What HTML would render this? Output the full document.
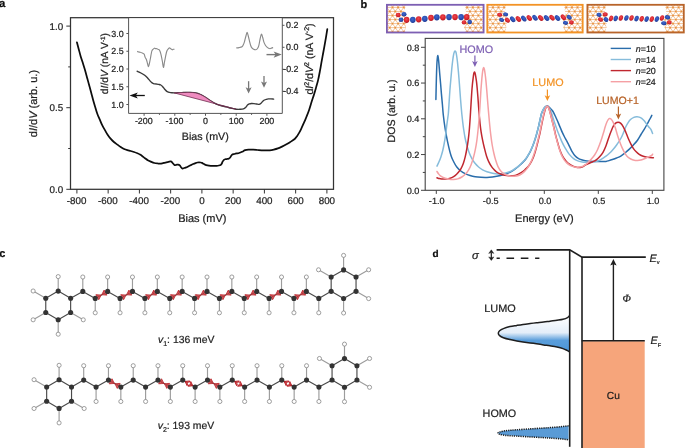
<!DOCTYPE html>
<html><head><meta charset="utf-8"><style>
html,body{margin:0;padding:0;background:#fff;}
body{width:685px;height:448px;overflow:hidden;font-family:"Liberation Sans",sans-serif;}
svg{display:block;will-change:transform;text-rendering:geometricPrecision;}
</style></head><body>
<svg width="685" height="448" viewBox="0 0 685 448">
<rect width="685" height="448" fill="#fff"/>
<text stroke="#111" stroke-width="0.22" x="-0.9" y="6.8" font-family="Liberation Sans" font-size="11.4" text-anchor="start" fill="#111" font-weight="bold">a</text>
<text stroke="#111" stroke-width="0.22" x="360.6" y="8" font-family="Liberation Sans" font-size="11" text-anchor="start" fill="#111" font-weight="bold">b</text>
<text stroke="#111" stroke-width="0.22" x="-0.8" y="257.2" font-family="Liberation Sans" font-size="11" text-anchor="start" fill="#111" font-weight="bold">c</text>
<text stroke="#111" stroke-width="0.22" x="432.6" y="257.3" font-family="Liberation Sans" font-size="10" text-anchor="start" fill="#111" font-weight="bold">d</text>
<path d="M76.9 42.3 C77.22 43.48 78.17 47.05 78.8 49.4 C79.43 51.75 80 54.03 80.7 56.4 C81.4 58.77 82.25 61.22 83 63.6 C83.75 65.98 84.47 68.17 85.2 70.7 C85.93 73.23 86.67 76.12 87.4 78.8 C88.13 81.48 88.93 84.35 89.6 86.8 C90.27 89.25 90.8 91.27 91.4 93.5 C92 95.73 92.57 97.95 93.2 100.2 C93.83 102.45 94.52 104.73 95.2 107 C95.88 109.27 96.55 111.73 97.3 113.8 C98.05 115.87 98.88 117.5 99.7 119.4 C100.52 121.3 101.3 123.37 102.2 125.2 C103.1 127.03 104.17 128.77 105.1 130.4 C106.03 132.03 106.85 133.58 107.8 135 C108.75 136.42 109.78 137.73 110.8 138.9 C111.82 140.07 112.8 141.05 113.9 142 C115 142.95 116.27 143.77 117.4 144.6 C118.53 145.43 119.58 146.27 120.7 147 C121.82 147.73 122.98 148.47 124.1 149 C125.22 149.53 126.3 149.87 127.4 150.2 C128.5 150.53 129.6 150.7 130.7 151 C131.8 151.3 132.88 151.62 134 152 C135.12 152.38 136.4 152.87 137.4 153.3 C138.4 153.73 139.22 154.15 140 154.6 C140.78 155.05 141.27 155.4 142.1 156 C142.93 156.6 144.05 157.5 145 158.2 C145.95 158.9 146.83 159.63 147.8 160.2 C148.77 160.77 149.7 161.13 150.8 161.6 C151.9 162.07 153.23 162.68 154.4 163 C155.57 163.32 156.68 163.4 157.8 163.5 C158.92 163.6 159.87 163.75 161.1 163.6 C162.33 163.45 163.97 162.9 165.2 162.6 C166.43 162.3 167.57 162 168.5 161.8 C169.43 161.6 170.17 161.27 170.8 161.4 C171.43 161.53 171.7 162 172.3 162.6 C172.9 163.2 173.73 164.63 174.4 165 C175.07 165.37 175.7 164.87 176.3 164.8 C176.9 164.73 177.42 164.5 178 164.6 C178.58 164.7 179.3 164.97 179.8 165.4 C180.3 165.83 180.55 166.67 181 167.2 C181.45 167.73 181.97 168.47 182.5 168.6 C183.03 168.73 183.58 168.2 184.2 168 C184.82 167.8 185.47 167.7 186.2 167.4 C186.93 167.1 187.82 166.58 188.6 166.2 C189.38 165.82 190.13 165.47 190.9 165.1 C191.67 164.73 192.43 164.33 193.2 164 C193.97 163.67 194.78 163.35 195.5 163.1 C196.22 162.85 196.92 162.63 197.5 162.5 C198.08 162.37 198.48 162.3 199 162.3 C199.52 162.3 200.1 162.4 200.6 162.5 C201.1 162.6 201.52 162.68 202 162.9 C202.48 163.12 203.02 163.52 203.5 163.8 C203.98 164.08 204.23 164.33 204.9 164.6 C205.57 164.87 206.53 165.2 207.5 165.4 C208.47 165.6 209.68 165.72 210.7 165.8 C211.72 165.88 212.62 165.9 213.6 165.9 C214.58 165.9 215.73 165.87 216.6 165.8 C217.47 165.73 218.12 165.65 218.8 165.5 C219.48 165.35 220.22 165.18 220.7 164.9 C221.18 164.62 221.38 164.35 221.7 163.8 C222.02 163.25 222.18 162.3 222.6 161.6 C223.02 160.9 223.7 160 224.2 159.6 C224.7 159.2 225.12 159.3 225.6 159.2 C226.08 159.1 226.6 159.08 227.1 159 C227.6 158.92 228.12 158.9 228.6 158.7 C229.08 158.5 229.45 158.45 230 157.8 C230.55 157.15 231.15 155.43 231.9 154.8 C232.65 154.17 233.65 154.23 234.5 154 C235.35 153.77 236.25 153.57 237 153.4 C237.75 153.23 238.17 153.27 239 153 C239.83 152.73 240.97 152.27 242 151.8 C243.03 151.33 244.12 150.55 245.2 150.2 C246.28 149.85 247.13 149.78 248.5 149.7 C249.87 149.62 251.9 149.65 253.4 149.7 C254.9 149.75 256.15 149.9 257.5 150 C258.85 150.1 260.15 150.23 261.5 150.3 C262.85 150.37 264.23 150.4 265.6 150.4 C266.97 150.4 268.33 150.43 269.7 150.3 C271.07 150.17 272.43 149.92 273.8 149.6 C275.17 149.28 276.53 148.9 277.9 148.4 C279.27 147.9 280.65 147.23 282 146.6 C283.35 145.97 284.67 145.33 286 144.6 C287.33 143.87 288.55 143.13 290 142.2 C291.45 141.27 293.5 140.05 294.7 139 C295.9 137.95 296.42 137 297.2 135.9 C297.98 134.8 298.7 133.65 299.4 132.4 C300.1 131.15 300.75 129.77 301.4 128.4 C302.05 127.03 302.72 125.5 303.3 124.2 C303.88 122.9 304.38 121.8 304.9 120.6 C305.42 119.4 305.7 118.77 306.4 117 C307.1 115.23 308.22 112.57 309.1 110 C309.98 107.43 310.87 104.23 311.7 101.6 C312.53 98.97 313.35 96.63 314.1 94.2 C314.85 91.77 315.53 89.35 316.2 87 C316.87 84.65 317.48 82.73 318.1 80.1 C318.72 77.47 319.35 74.1 319.9 71.2 C320.45 68.3 320.9 65.48 321.4 62.7 C321.9 59.92 322.4 57.22 322.9 54.5 C323.4 51.78 323.9 49.18 324.4 46.4 C324.9 43.62 325.42 40.67 325.9 37.8 C326.38 34.93 327.07 30.63 327.3 29.2" fill="none" stroke="#0d0d0d" stroke-width="1.75" stroke-linejoin="round" stroke-linecap="round"/>
<rect x="70.5" y="17.7" width="263" height="171.6" fill="none" stroke="#333" stroke-width="1.25"/>
<line x1="66.3" y1="189.3" x2="70.5" y2="189.3" stroke="#333" stroke-width="1" />
<text stroke="#1f1f1f" stroke-width="0.22" x="63.1" y="192.7" font-family="Liberation Sans" font-size="9.8" text-anchor="end" fill="#1f1f1f" >0.0</text>
<line x1="66.3" y1="107.7" x2="70.5" y2="107.7" stroke="#333" stroke-width="1" />
<text stroke="#1f1f1f" stroke-width="0.22" x="63.1" y="111.1" font-family="Liberation Sans" font-size="9.8" text-anchor="end" fill="#1f1f1f" >0.5</text>
<line x1="66.3" y1="26.1" x2="70.5" y2="26.1" stroke="#333" stroke-width="1" />
<text stroke="#1f1f1f" stroke-width="0.22" x="63.1" y="29.5" font-family="Liberation Sans" font-size="9.8" text-anchor="end" fill="#1f1f1f" >1.0</text>
<line x1="68.2" y1="148.5" x2="70.5" y2="148.5" stroke="#333" stroke-width="1" />
<line x1="68.2" y1="66.9" x2="70.5" y2="66.9" stroke="#333" stroke-width="1" />
<line x1="76.9" y1="189.3" x2="76.9" y2="193.5" stroke="#333" stroke-width="1" />
<text stroke="#1f1f1f" stroke-width="0.22" x="76.6" y="203.7" font-family="Liberation Sans" font-size="9.8" text-anchor="middle" fill="#1f1f1f" >-800</text>
<line x1="108.15" y1="189.3" x2="108.15" y2="193.5" stroke="#333" stroke-width="1" />
<text stroke="#1f1f1f" stroke-width="0.22" x="107.85" y="203.7" font-family="Liberation Sans" font-size="9.8" text-anchor="middle" fill="#1f1f1f" >-600</text>
<line x1="139.4" y1="189.3" x2="139.4" y2="193.5" stroke="#333" stroke-width="1" />
<text stroke="#1f1f1f" stroke-width="0.22" x="139.1" y="203.7" font-family="Liberation Sans" font-size="9.8" text-anchor="middle" fill="#1f1f1f" >-400</text>
<line x1="170.65" y1="189.3" x2="170.65" y2="193.5" stroke="#333" stroke-width="1" />
<text stroke="#1f1f1f" stroke-width="0.22" x="170.35" y="203.7" font-family="Liberation Sans" font-size="9.8" text-anchor="middle" fill="#1f1f1f" >-200</text>
<line x1="201.9" y1="189.3" x2="201.9" y2="193.5" stroke="#333" stroke-width="1" />
<text stroke="#1f1f1f" stroke-width="0.22" x="201.9" y="203.7" font-family="Liberation Sans" font-size="9.8" text-anchor="middle" fill="#1f1f1f" >0</text>
<line x1="233.15" y1="189.3" x2="233.15" y2="193.5" stroke="#333" stroke-width="1" />
<text stroke="#1f1f1f" stroke-width="0.22" x="233.15" y="203.7" font-family="Liberation Sans" font-size="9.8" text-anchor="middle" fill="#1f1f1f" >200</text>
<line x1="264.4" y1="189.3" x2="264.4" y2="193.5" stroke="#333" stroke-width="1" />
<text stroke="#1f1f1f" stroke-width="0.22" x="264.4" y="203.7" font-family="Liberation Sans" font-size="9.8" text-anchor="middle" fill="#1f1f1f" >400</text>
<line x1="295.65" y1="189.3" x2="295.65" y2="193.5" stroke="#333" stroke-width="1" />
<text stroke="#1f1f1f" stroke-width="0.22" x="295.65" y="203.7" font-family="Liberation Sans" font-size="9.8" text-anchor="middle" fill="#1f1f1f" >600</text>
<line x1="326.9" y1="189.3" x2="326.9" y2="193.5" stroke="#333" stroke-width="1" />
<text stroke="#1f1f1f" stroke-width="0.22" x="326.9" y="203.7" font-family="Liberation Sans" font-size="9.8" text-anchor="middle" fill="#1f1f1f" >800</text>
<text stroke="#1f1f1f" stroke-width="0.22" x="202.3" y="221.8" font-family="Liberation Sans" font-size="11" text-anchor="middle" fill="#1f1f1f" >Bias (mV)</text>
<text stroke="#1f1f1f" stroke-width="0.22" transform="translate(36.9,103.6) rotate(-90)" font-family="Liberation Sans" font-size="11.0" text-anchor="middle" fill="#1f1f1f">d<tspan font-style="italic">I</tspan>/d<tspan font-style="italic">V</tspan> (arb. u.)</text>
<rect x="128.6" y="18.3" width="153.7" height="95.1" fill="#fff" stroke="none"/>
<path d="M137.1 71.2 C137.73 71.5 139.63 72.32 140.9 73 C142.17 73.68 143.58 74.47 144.7 75.3 C145.82 76.13 146.75 77.12 147.6 78 C148.45 78.88 149.15 79.87 149.8 80.6 C150.45 81.33 150.88 81.9 151.5 82.4 C152.12 82.9 152.75 83.33 153.5 83.6 C154.25 83.87 155.12 83.87 156 84 C156.88 84.13 158 84.23 158.8 84.4 C159.6 84.57 160.18 84.67 160.8 85 C161.42 85.33 161.88 85.73 162.5 86.4 C163.12 87.07 163.78 88.17 164.5 89 C165.22 89.83 165.97 90.83 166.8 91.4 C167.63 91.97 168.63 92.17 169.5 92.4 C170.37 92.63 171.22 92.72 172 92.8 C172.78 92.88 173.2 92.9 174.2 92.9 C175.2 92.9 176.7 92.85 178 92.8 C179.3 92.75 180.67 92.67 182 92.6 C183.33 92.53 184.65 92.43 186 92.4 C187.35 92.37 188.77 92.35 190.1 92.4 C191.43 92.45 192.85 92.55 194 92.7 C195.15 92.85 196 93.03 197 93.3 C198 93.57 199 93.88 200 94.3 C201 94.72 202.08 95.3 203 95.8 C203.92 96.3 204.67 96.77 205.5 97.3 C206.33 97.83 207.08 98.38 208 99 C208.92 99.62 210 100.37 211 101 C212 101.63 212.98 102.23 214 102.8 C215.02 103.37 215.85 103.9 217.1 104.4 C218.35 104.9 219.97 105.38 221.5 105.8 C223.03 106.22 224.72 106.52 226.3 106.9 C227.88 107.28 229.37 107.72 231 108.1 C232.63 108.48 234.6 109 236.1 109.2 C237.6 109.4 238.78 109.35 240 109.3 C241.22 109.25 242.43 109.25 243.4 108.9 C244.37 108.55 245.12 107.85 245.8 107.2 C246.48 106.55 246.92 105.55 247.5 105 C248.08 104.45 248.63 104.15 249.3 103.9 C249.97 103.65 250.73 103.55 251.5 103.5 C252.27 103.45 253.07 103.52 253.9 103.6 C254.73 103.68 255.63 103.87 256.5 104 C257.37 104.13 258.35 104.53 259.1 104.4 C259.85 104.27 260.38 103.73 261 103.2 C261.62 102.67 262.23 101.73 262.8 101.2 C263.37 100.67 263.82 100.32 264.4 100 C264.98 99.68 265.65 99.48 266.3 99.3 C266.95 99.12 267.52 98.97 268.3 98.9 C269.08 98.83 270.12 98.87 271 98.9 C271.88 98.93 273.17 99.07 273.6 99.1" fill="none" stroke="#3a3a3a" stroke-width="1.4" stroke-linejoin="round" stroke-linecap="round"/>
<path d="M174.2 92.9 C174.83 92.88 176.7 92.85 178 92.8 C179.3 92.75 180.67 92.67 182 92.6 C183.33 92.53 184.65 92.43 186 92.4 C187.35 92.37 188.77 92.35 190.1 92.4 C191.43 92.45 192.85 92.55 194 92.7 C195.15 92.85 196 93.03 197 93.3 C198 93.57 199 93.88 200 94.3 C201 94.72 202.08 95.3 203 95.8 C203.92 96.3 204.67 96.77 205.5 97.3 C206.33 97.83 207.08 98.38 208 99 C208.92 99.62 210 100.37 211 101 C212 101.63 212.98 102.23 214 102.8 C215.02 103.37 215.85 103.9 217.1 104.4 C218.35 104.9 219.97 105.38 221.5 105.8 C223.03 106.22 224.72 106.52 226.3 106.9 C227.88 107.28 229.37 107.72 231 108.1 C232.63 108.48 235.25 109.02 236.1 109.2 L174.2 92.9 Z" fill="#ef8cc0" stroke="#6a2a4a" stroke-width="0.75" stroke-linejoin="round"/>
<path d="M137.2 51.3 C137.45 51.42 138.2 51.83 138.7 52 C139.2 52.17 139.62 52.13 140.2 52.3 C140.78 52.47 141.55 52.7 142.2 53 C142.85 53.3 143.6 53.37 144.1 54.1 C144.6 54.83 144.82 56.5 145.2 57.4 C145.58 58.3 146.02 58.48 146.4 59.5 C146.78 60.52 147.15 62.3 147.5 63.5 C147.85 64.7 148.17 66.78 148.5 66.7 C148.83 66.62 149.17 64.45 149.5 63 C149.83 61.55 150.22 59.5 150.5 58 C150.78 56.5 150.97 55.18 151.2 54 C151.43 52.82 151.6 51.68 151.9 50.9 C152.2 50.12 152.58 49.75 153 49.3 C153.42 48.85 153.95 48.32 154.4 48.2 C154.85 48.08 155.27 48.51 155.7 48.6 C156.13 48.69 156.58 48.62 157 48.75 C157.42 48.88 157.82 49.23 158.2 49.4 C158.58 49.57 158.95 49.37 159.3 49.8 C159.65 50.23 159.98 51.03 160.3 52 C160.62 52.97 160.9 54.02 161.25 55.6 C161.6 57.18 162.04 59.52 162.4 61.5 C162.76 63.48 163.05 67.42 163.4 67.5 C163.75 67.58 164.15 63.78 164.5 62 C164.85 60.22 165.2 58.3 165.5 56.8 C165.8 55.3 166.03 54.05 166.3 53 C166.57 51.95 166.77 51.2 167.1 50.5 C167.43 49.8 167.9 49.25 168.3 48.8 C168.7 48.35 169.08 47.8 169.5 47.8 C169.92 47.8 170.35 48.47 170.8 48.8 C171.25 49.13 171.78 49.72 172.2 49.8 C172.62 49.88 172.92 49.4 173.3 49.3 C173.68 49.2 174.3 49.22 174.5 49.2" fill="none" stroke="#8a8a8a" stroke-width="1.15" stroke-linejoin="round"/>
<path d="M236.3 47.9 C236.75 47.85 238.05 47.8 239 47.6 C239.95 47.4 241.27 47.2 242 46.7 C242.73 46.2 242.98 45.45 243.4 44.6 C243.82 43.75 244.1 42.95 244.5 41.6 C244.9 40.25 245.37 38.03 245.8 36.5 C246.23 34.97 246.67 32.4 247.1 32.4 C247.53 32.4 247.98 34.97 248.4 36.5 C248.82 38.03 249.23 40.15 249.6 41.6 C249.97 43.05 250.25 44.18 250.6 45.2 C250.95 46.22 251.2 47.03 251.7 47.7 C252.2 48.37 252.92 48.87 253.6 49.2 C254.28 49.53 255.15 49.82 255.8 49.7 C256.45 49.58 257 49.18 257.5 48.5 C258 47.82 258.37 47.18 258.8 45.6 C259.23 44.02 259.67 40.9 260.1 39 C260.53 37.1 260.97 34.45 261.4 34.2 C261.83 33.95 262.28 36.18 262.7 37.5 C263.12 38.82 263.45 40.82 263.9 42.1 C264.35 43.38 264.88 44.35 265.4 45.2 C265.92 46.05 266.48 46.7 267 47.2 C267.52 47.7 268 47.95 268.5 48.2 C269 48.45 269.48 48.72 270 48.7 C270.52 48.68 271.08 48.3 271.6 48.1 C272.12 47.9 272.85 47.6 273.1 47.5" fill="none" stroke="#8a8a8a" stroke-width="1.15" stroke-linejoin="round"/>
<path d="M128.6 17.7 V113.4 H282.3 V17.7" fill="none" stroke="#555" stroke-width="1"/>
<line x1="126.4" y1="104.5" x2="128.6" y2="104.5" stroke="#555" stroke-width="1" />
<text stroke="#1f1f1f" stroke-width="0.22" x="123.7" y="107.6" font-family="Liberation Sans" font-size="8.9" text-anchor="end" fill="#1f1f1f" >1.0</text>
<line x1="126.4" y1="86.75" x2="128.6" y2="86.75" stroke="#555" stroke-width="1" />
<text stroke="#1f1f1f" stroke-width="0.22" x="123.7" y="89.85" font-family="Liberation Sans" font-size="8.9" text-anchor="end" fill="#1f1f1f" >1.5</text>
<line x1="126.4" y1="69" x2="128.6" y2="69" stroke="#555" stroke-width="1" />
<text stroke="#1f1f1f" stroke-width="0.22" x="123.7" y="72.1" font-family="Liberation Sans" font-size="8.9" text-anchor="end" fill="#1f1f1f" >2.0</text>
<line x1="126.4" y1="51.25" x2="128.6" y2="51.25" stroke="#555" stroke-width="1" />
<text stroke="#1f1f1f" stroke-width="0.22" x="123.7" y="54.35" font-family="Liberation Sans" font-size="8.9" text-anchor="end" fill="#1f1f1f" >2.5</text>
<line x1="126.4" y1="33.5" x2="128.6" y2="33.5" stroke="#555" stroke-width="1" />
<text stroke="#1f1f1f" stroke-width="0.22" x="123.7" y="36.6" font-family="Liberation Sans" font-size="8.9" text-anchor="end" fill="#1f1f1f" >3.0</text>
<line x1="282.3" y1="25.3" x2="284.5" y2="25.3" stroke="#555" stroke-width="1" />
<text stroke="#1f1f1f" stroke-width="0.22" x="286.1" y="28.4" font-family="Liberation Sans" font-size="8.9" text-anchor="start" fill="#1f1f1f" >0.2</text>
<line x1="282.3" y1="47.3" x2="284.5" y2="47.3" stroke="#555" stroke-width="1" />
<text stroke="#1f1f1f" stroke-width="0.22" x="286.1" y="50.4" font-family="Liberation Sans" font-size="8.9" text-anchor="start" fill="#1f1f1f" >0.0</text>
<line x1="282.3" y1="69.3" x2="284.5" y2="69.3" stroke="#555" stroke-width="1" />
<text stroke="#1f1f1f" stroke-width="0.22" x="283.2" y="72.4" font-family="Liberation Sans" font-size="8.9" text-anchor="start" fill="#1f1f1f" >-0.2</text>
<line x1="282.3" y1="91.3" x2="284.5" y2="91.3" stroke="#555" stroke-width="1" />
<text stroke="#1f1f1f" stroke-width="0.22" x="283.2" y="94.4" font-family="Liberation Sans" font-size="8.9" text-anchor="start" fill="#1f1f1f" >-0.4</text>
<line x1="144.1" y1="113.4" x2="144.1" y2="115.8" stroke="#555" stroke-width="1" />
<text stroke="#1f1f1f" stroke-width="0.22" x="143.8" y="124" font-family="Liberation Sans" font-size="8.9" text-anchor="middle" fill="#1f1f1f" >-200</text>
<line x1="174.8" y1="113.4" x2="174.8" y2="115.8" stroke="#555" stroke-width="1" />
<text stroke="#1f1f1f" stroke-width="0.22" x="174.5" y="124" font-family="Liberation Sans" font-size="8.9" text-anchor="middle" fill="#1f1f1f" >-100</text>
<line x1="205.5" y1="113.4" x2="205.5" y2="115.8" stroke="#555" stroke-width="1" />
<text stroke="#1f1f1f" stroke-width="0.22" x="205.5" y="124" font-family="Liberation Sans" font-size="8.9" text-anchor="middle" fill="#1f1f1f" >0</text>
<line x1="236.2" y1="113.4" x2="236.2" y2="115.8" stroke="#555" stroke-width="1" />
<text stroke="#1f1f1f" stroke-width="0.22" x="236.2" y="124" font-family="Liberation Sans" font-size="8.9" text-anchor="middle" fill="#1f1f1f" >100</text>
<line x1="266.9" y1="113.4" x2="266.9" y2="115.8" stroke="#555" stroke-width="1" />
<text stroke="#1f1f1f" stroke-width="0.22" x="266.9" y="124" font-family="Liberation Sans" font-size="8.9" text-anchor="middle" fill="#1f1f1f" >200</text>
<line x1="159.45" y1="113.4" x2="159.45" y2="114.9" stroke="#555" stroke-width="1" />
<line x1="190.15" y1="113.4" x2="190.15" y2="114.9" stroke="#555" stroke-width="1" />
<line x1="220.85" y1="113.4" x2="220.85" y2="114.9" stroke="#555" stroke-width="1" />
<line x1="251.55" y1="113.4" x2="251.55" y2="114.9" stroke="#555" stroke-width="1" />
<text stroke="#1f1f1f" stroke-width="0.22" x="205.3" y="139.6" font-family="Liberation Sans" font-size="10.7" text-anchor="middle" fill="#1f1f1f" >Bias (mV)</text>
<text stroke="#1f1f1f" stroke-width="0.22" transform="translate(108.4,63.6) rotate(-90)" font-family="Liberation Sans" font-size="10.3" text-anchor="middle" fill="#1f1f1f">d<tspan font-style="italic">I</tspan>/d<tspan font-style="italic">V</tspan> (nA V<tspan font-size="6.4" dy="-3.6">-1</tspan><tspan dy="3.6">)</tspan></text>
<text stroke="#1f1f1f" stroke-width="0.22" transform="translate(312.6,59.0) rotate(-90)" font-family="Liberation Sans" font-size="10.6" text-anchor="middle" fill="#1f1f1f">d<tspan font-style="italic">I</tspan><tspan font-size="7" dy="-3.8">2</tspan><tspan dy="3.8">/d</tspan><tspan font-style="italic">V</tspan><tspan font-size="7" dy="-3.8">2</tspan><tspan dy="3.8"> (nA V</tspan><tspan font-size="7" dy="-3.8">-2</tspan><tspan dy="3.8">)</tspan></text>
<path d="M144.8 95.5 H134" stroke="#111" stroke-width="1.3" fill="none"/>
<path d="M129.5 95.5 L137.8 92.4 L135.8 95.5 L137.8 98.6 Z" fill="#111"/>
<path d="M266.5 54.6 H277" stroke="#777" stroke-width="1.4" fill="none"/>
<path d="M281.8 54.6 L273.6 51.5 L275.6 54.6 L273.6 57.7 Z" fill="#777"/>
<path d="M248.6 81.2 V89.4" stroke="#777" stroke-width="1.3" fill="none"/>
<path d="M248.6 93.4 L245.6 87.2 L248.6 88.8 L251.6 87.2 Z" fill="#777"/>
<path d="M264 75.9 V83.7" stroke="#777" stroke-width="1.3" fill="none"/>
<path d="M264 87.7 L261 81.5 L264 83.1 L267 81.5 Z" fill="#777"/>
<path d="M435.9 99.5 C435.98 95.92 436.22 84.25 436.4 78 C436.58 71.75 436.75 65.77 437 62 C437.25 58.23 437.6 55.32 437.9 55.4 C438.2 55.48 438.5 59.48 438.8 62.5 C439.1 65.52 439.4 69.95 439.7 73.5 C440 77.05 440.32 80.45 440.6 83.8 C440.88 87.15 441.1 90.15 441.4 93.6 C441.7 97.05 442.08 100.93 442.4 104.5 C442.72 108.07 442.85 111.02 443.3 115 C443.75 118.98 444.38 123.93 445.1 128.4 C445.82 132.87 446.63 137.33 447.6 141.8 C448.57 146.27 449.87 151.83 450.9 155.2 C451.93 158.57 452.82 160.03 453.8 162 C454.78 163.97 455.63 165.5 456.8 167 C457.97 168.5 459.4 169.88 460.8 171 C462.2 172.12 463.67 172.95 465.2 173.7 C466.73 174.45 468.33 175 470 175.5 C471.67 176 473.37 176.4 475.2 176.7 C477.03 177 479.03 177.18 481 177.3 C482.97 177.42 485.08 177.47 487 177.4 C488.92 177.33 490.65 177.13 492.5 176.9 C494.35 176.67 496.35 176.35 498.1 176 C499.85 175.65 501.33 175.3 503 174.8 C504.67 174.3 506.52 173.67 508.1 173 C509.68 172.33 511.1 171.63 512.5 170.8 C513.9 169.97 515.25 168.97 516.5 168 C517.75 167.03 518.88 166.02 520 165 C521.12 163.98 522.2 162.95 523.2 161.9 C524.2 160.85 525.17 159.82 526 158.7 C526.83 157.58 527.47 156.43 528.2 155.2 C528.93 153.97 529.7 152.7 530.4 151.3 C531.1 149.9 531.77 148.35 532.4 146.8 C533.03 145.25 533.63 143.63 534.2 142 C534.77 140.37 535.28 138.75 535.8 137 C536.32 135.25 536.83 133.28 537.3 131.5 C537.77 129.72 538.15 128.2 538.6 126.3 C539.05 124.4 539.55 122.12 540 120.1 C540.45 118.08 540.87 115.72 541.3 114.2 C541.73 112.68 542.15 111.98 542.6 111 C543.05 110.02 543.5 109.03 544 108.3 C544.5 107.57 545.05 106.97 545.6 106.6 C546.15 106.23 546.73 106.03 547.3 106.1 C547.87 106.17 548.4 106.52 549 107 C549.6 107.48 550.32 108.37 550.9 109 C551.48 109.63 551.98 110.07 552.5 110.8 C553.02 111.53 553.48 112.4 554 113.4 C554.52 114.4 555.05 115.62 555.6 116.8 C556.15 117.98 556.73 119.2 557.3 120.5 C557.87 121.8 558.45 123.28 559 124.6 C559.55 125.92 560.05 127.1 560.6 128.4 C561.15 129.7 561.68 131.05 562.3 132.4 C562.92 133.75 563.63 135.2 564.3 136.5 C564.97 137.8 565.62 138.92 566.3 140.2 C566.98 141.48 567.75 142.93 568.4 144.2 C569.05 145.47 569.58 146.57 570.2 147.8 C570.82 149.03 571.3 150.27 572.1 151.6 C572.9 152.93 573.98 154.67 575 155.8 C576.02 156.93 577.12 157.73 578.2 158.4 C579.28 159.07 580.33 159.42 581.5 159.8 C582.67 160.18 583.95 160.47 585.2 160.7 C586.45 160.93 587.72 161.08 589 161.2 C590.28 161.32 591.57 161.37 592.9 161.4 C594.23 161.43 595.6 161.38 597 161.4 C598.4 161.42 599.8 161.5 601.3 161.5 C602.8 161.5 604.72 161.55 606 161.4 C607.28 161.25 607.93 160.92 609 160.6 C610.07 160.28 611.15 159.93 612.4 159.5 C613.65 159.07 615.1 158.57 616.5 158 C617.9 157.43 619.38 156.93 620.8 156.1 C622.22 155.27 623.62 154.12 625 153 C626.38 151.88 627.7 150.73 629.1 149.4 C630.5 148.07 632 146.53 633.4 145 C634.8 143.47 636.23 141.95 637.5 140.2 C638.77 138.45 639.88 136.32 641 134.5 C642.12 132.68 643.3 130.8 644.2 129.3 C645.1 127.8 645.7 126.75 646.4 125.5 C647.1 124.25 647.77 122.97 648.4 121.8 C649.03 120.63 649.63 119.57 650.2 118.5 C650.77 117.43 651.53 115.92 651.8 115.4" fill="none" stroke="#2a6dab" stroke-width="1.5" stroke-linejoin="round" stroke-linecap="round"/>
<path d="M437 166.1 C437.33 165.38 438.35 163.33 439 161.8 C439.65 160.27 440.28 158.73 440.9 156.9 C441.52 155.07 442.15 153.03 442.7 150.8 C443.25 148.57 443.72 146.13 444.2 143.5 C444.68 140.87 445.17 138.07 445.6 135 C446.03 131.93 446.45 127.85 446.8 125.1 C447.15 122.35 447.43 120.52 447.7 118.5 C447.97 116.48 448.15 115.92 448.4 113 C448.65 110.08 448.95 104.78 449.2 101 C449.45 97.22 449.62 94.05 449.9 90.3 C450.18 86.55 450.58 82.13 450.9 78.5 C451.22 74.87 451.5 71.5 451.8 68.5 C452.1 65.5 452.4 62.82 452.7 60.5 C453 58.18 453.32 56.05 453.6 54.6 C453.88 53.15 454.15 52.42 454.4 51.8 C454.65 51.18 454.85 50.87 455.1 50.9 C455.35 50.93 455.65 51.23 455.9 52 C456.15 52.77 456.35 53.92 456.6 55.5 C456.85 57.08 457.13 59.17 457.4 61.5 C457.67 63.83 457.95 66.83 458.2 69.5 C458.45 72.17 458.65 74.42 458.9 77.5 C459.15 80.58 459.43 84.47 459.7 88 C459.97 91.53 460.25 95.48 460.5 98.7 C460.75 101.92 460.97 104.62 461.2 107.3 C461.43 109.98 461.65 112.35 461.9 114.8 C462.15 117.25 462.42 119.67 462.7 122 C462.98 124.33 463.22 126.22 463.6 128.8 C463.98 131.38 464.45 134.73 465 137.5 C465.55 140.27 466.2 142.85 466.9 145.4 C467.6 147.95 468.37 150.6 469.2 152.8 C470.03 155 470.93 156.85 471.9 158.6 C472.87 160.35 473.88 161.9 475 163.3 C476.12 164.7 477.33 165.92 478.6 167 C479.87 168.08 481.2 169 482.6 169.8 C484 170.6 485.35 171.22 487 171.8 C488.65 172.38 490.65 172.93 492.5 173.3 C494.35 173.67 496.35 173.95 498.1 174 C499.85 174.05 501.33 173.88 503 173.6 C504.67 173.32 506.52 172.85 508.1 172.3 C509.68 171.75 511.1 171.08 512.5 170.3 C513.9 169.52 515.25 168.53 516.5 167.6 C517.75 166.67 518.88 165.7 520 164.7 C521.12 163.7 522.2 162.65 523.2 161.6 C524.2 160.55 525.17 159.5 526 158.4 C526.83 157.3 527.47 156.23 528.2 155 C528.93 153.77 529.7 152.4 530.4 151 C531.1 149.6 531.77 148.13 532.4 146.6 C533.03 145.07 533.63 143.43 534.2 141.8 C534.77 140.17 535.28 138.55 535.8 136.8 C536.32 135.05 536.83 133.08 537.3 131.3 C537.77 129.52 538.15 127.98 538.6 126.1 C539.05 124.22 539.55 122.02 540 120 C540.45 117.98 540.87 115.53 541.3 114 C541.73 112.47 542.15 111.78 542.6 110.8 C543.05 109.82 543.5 108.82 544 108.1 C544.5 107.38 545.05 106.83 545.6 106.5 C546.15 106.17 546.75 105.95 547.3 106.1 C547.85 106.25 548.35 106.67 548.9 107.4 C549.45 108.13 550.08 109.32 550.6 110.5 C551.12 111.68 551.53 113.08 552 114.5 C552.47 115.92 552.88 117.38 553.4 119 C553.92 120.62 554.53 122.53 555.1 124.2 C555.67 125.87 556.23 127.43 556.8 129 C557.37 130.57 557.9 132.05 558.5 133.6 C559.1 135.15 559.78 136.83 560.4 138.3 C561.02 139.77 561.58 141.1 562.2 142.4 C562.82 143.7 563.38 144.8 564.1 146.1 C564.82 147.4 565.67 148.87 566.5 150.2 C567.33 151.53 568.18 152.93 569.1 154.1 C570.02 155.27 571 156.28 572 157.2 C573 158.12 574.02 158.95 575.1 159.6 C576.18 160.25 577.32 160.7 578.5 161.1 C579.68 161.5 580.95 161.8 582.2 162 C583.45 162.2 584.5 162.25 586 162.3 C587.5 162.35 589.62 162.42 591.2 162.3 C592.78 162.18 594.1 161.95 595.5 161.6 C596.9 161.25 598.35 160.77 599.6 160.2 C600.85 159.63 601.93 158.87 603 158.2 C604.07 157.53 604.97 156.98 606 156.2 C607.03 155.42 608.13 154.48 609.2 153.5 C610.27 152.52 611.17 151.72 612.4 150.3 C613.63 148.88 615.2 146.97 616.6 145 C618 143.03 619.65 140.57 620.8 138.5 C621.95 136.43 622.67 134.55 623.5 132.6 C624.33 130.65 625 128.52 625.8 126.8 C626.6 125.08 627.47 123.55 628.3 122.3 C629.13 121.05 629.88 120.12 630.8 119.3 C631.72 118.48 632.82 117.82 633.8 117.4 C634.78 116.98 635.8 116.85 636.7 116.8 C637.6 116.75 638.37 116.83 639.2 117.1 C640.03 117.37 640.87 117.78 641.7 118.4 C642.53 119.02 643.37 119.82 644.2 120.8 C645.03 121.78 645.93 123.28 646.7 124.3 C647.47 125.32 648.1 126.07 648.8 126.9 C649.5 127.73 650.27 128.2 650.9 129.3 C651.53 130.4 652.32 132.8 652.6 133.5" fill="none" stroke="#86bcdb" stroke-width="1.5" stroke-linejoin="round" stroke-linecap="round"/>
<path d="M437 177.8 C437.38 177.93 438.52 178.4 439.3 178.6 C440.08 178.8 440.75 178.92 441.7 179 C442.65 179.08 443.88 179.15 445 179.1 C446.12 179.05 447.27 178.95 448.4 178.7 C449.53 178.45 450.68 178.1 451.8 177.6 C452.92 177.1 454.03 176.53 455.1 175.7 C456.17 174.87 457.22 173.78 458.2 172.6 C459.18 171.42 460.15 170.12 461 168.6 C461.85 167.08 462.6 165.45 463.3 163.5 C464 161.55 464.62 159.32 465.2 156.9 C465.78 154.48 466.3 151.8 466.8 149 C467.3 146.2 467.78 143.27 468.2 140.1 C468.62 136.93 468.97 133.77 469.3 130 C469.63 126.23 469.92 121.75 470.2 117.5 C470.48 113.25 470.75 108.58 471 104.5 C471.25 100.42 471.47 96.33 471.7 93 C471.93 89.67 472.15 87.07 472.4 84.5 C472.65 81.93 472.97 79.45 473.2 77.6 C473.43 75.75 473.6 74.35 473.8 73.4 C474 72.45 474.2 71.97 474.4 71.9 C474.6 71.83 474.78 72.27 475 73 C475.22 73.73 475.45 74.87 475.7 76.3 C475.95 77.73 476.25 79.57 476.5 81.6 C476.75 83.63 476.97 85.93 477.2 88.5 C477.43 91.07 477.67 93.92 477.9 97 C478.13 100.08 478.37 103.92 478.6 107 C478.83 110.08 479.05 112.67 479.3 115.5 C479.55 118.33 479.8 121.28 480.1 124 C480.4 126.72 480.67 129.03 481.1 131.8 C481.53 134.57 482.13 137.82 482.7 140.6 C483.27 143.38 483.87 145.93 484.5 148.5 C485.13 151.07 485.8 153.82 486.5 156 C487.2 158.18 487.88 159.87 488.7 161.6 C489.52 163.33 490.52 165.07 491.4 166.4 C492.28 167.73 493.17 168.7 494 169.6 C494.83 170.5 495.32 171.07 496.4 171.8 C497.48 172.53 499.1 173.42 500.5 174 C501.9 174.58 503.38 175 504.8 175.3 C506.22 175.6 507.62 175.73 509 175.8 C510.38 175.87 511.72 175.9 513.1 175.7 C514.48 175.5 515.9 175.15 517.3 174.6 C518.7 174.05 520.22 173.22 521.5 172.4 C522.78 171.58 523.88 170.67 525 169.7 C526.12 168.73 527.23 167.77 528.2 166.6 C529.17 165.43 529.97 164.17 530.8 162.7 C531.63 161.23 532.5 159.48 533.2 157.8 C533.9 156.12 534.43 154.43 535 152.6 C535.57 150.77 536.05 148.9 536.6 146.8 C537.15 144.7 537.73 142.3 538.3 140 C538.87 137.7 539.43 135.57 540 133 C540.57 130.43 541.13 127.33 541.7 124.6 C542.27 121.87 542.88 118.87 543.4 116.6 C543.92 114.33 544.35 112.52 544.8 111 C545.25 109.48 545.67 108.3 546.1 107.5 C546.53 106.7 546.98 106.18 547.4 106.2 C547.82 106.22 548.22 106.8 548.6 107.6 C548.98 108.4 549.33 109.77 549.7 111 C550.07 112.23 550.43 113.57 550.8 115 C551.17 116.43 551.5 118 551.9 119.6 C552.3 121.2 552.77 122.87 553.2 124.6 C553.63 126.33 554.1 128.27 554.5 130 C554.9 131.73 555.22 133.42 555.6 135 C555.98 136.58 556.4 138.03 556.8 139.5 C557.2 140.97 557.6 142.38 558 143.8 C558.4 145.22 558.73 146.57 559.2 148 C559.67 149.43 560.23 151.05 560.8 152.4 C561.37 153.75 561.93 154.92 562.6 156.1 C563.27 157.28 564.05 158.48 564.8 159.5 C565.55 160.52 566.32 161.42 567.1 162.2 C567.88 162.98 568.67 163.62 569.5 164.2 C570.33 164.78 571.25 165.27 572.1 165.7 C572.95 166.13 573.77 166.52 574.6 166.8 C575.43 167.08 576.33 167.27 577.1 167.4 C577.87 167.53 578.52 167.6 579.2 167.6 C579.88 167.6 580.57 167.57 581.2 167.4 C581.83 167.23 582.28 167 583 166.6 C583.72 166.2 584.67 165.45 585.5 165 C586.33 164.55 587.08 164.32 588 163.9 C588.92 163.48 590 162.95 591 162.5 C592 162.05 593.12 161.65 594 161.2 C594.88 160.75 595.37 160.53 596.3 159.8 C597.23 159.07 598.48 158.03 599.6 156.8 C600.72 155.57 601.93 154.23 603 152.4 C604.07 150.57 605 148.38 606 145.8 C607 143.22 608.13 139.37 609 136.9 C609.87 134.43 610.5 132.77 611.2 131 C611.9 129.23 612.47 127.6 613.2 126.3 C613.93 125 614.77 123.87 615.6 123.2 C616.43 122.53 617.33 122.27 618.2 122.3 C619.07 122.33 619.95 122.65 620.8 123.4 C621.65 124.15 622.47 125.33 623.3 126.8 C624.13 128.27 624.97 130.25 625.8 132.2 C626.63 134.15 627.47 136.57 628.3 138.5 C629.13 140.43 629.97 142.17 630.8 143.8 C631.63 145.43 632.4 146.97 633.3 148.3 C634.2 149.63 635.22 150.8 636.2 151.8 C637.18 152.8 638.15 153.6 639.2 154.3 C640.25 155 641.38 155.55 642.5 156 C643.62 156.45 644.73 156.75 645.9 157 C647.07 157.25 648.25 157.37 649.5 157.5 C650.75 157.63 652.75 157.75 653.4 157.8" fill="none" stroke="#c0272f" stroke-width="1.5" stroke-linejoin="round" stroke-linecap="round"/>
<path d="M437 171.5 C437.25 171.88 437.98 173.12 438.5 173.8 C439.02 174.48 439.43 175.03 440.1 175.6 C440.77 176.17 441.67 176.75 442.5 177.2 C443.33 177.65 443.97 177.95 445.1 178.3 C446.23 178.65 447.9 179.1 449.3 179.3 C450.7 179.5 452.1 179.57 453.5 179.5 C454.9 179.43 456.32 179.32 457.7 178.9 C459.08 178.48 460.53 177.78 461.8 177 C463.07 176.22 464.18 175.33 465.3 174.2 C466.42 173.07 467.52 171.82 468.5 170.2 C469.48 168.58 470.35 166.72 471.2 164.5 C472.05 162.28 472.9 159.45 473.6 156.9 C474.3 154.35 474.85 152 475.4 149.2 C475.95 146.4 476.43 143.55 476.9 140.1 C477.37 136.65 477.8 132.52 478.2 128.5 C478.6 124.48 478.98 120.08 479.3 116 C479.62 111.92 479.85 108 480.1 104 C480.35 100 480.57 95.53 480.8 92 C481.03 88.47 481.25 85.77 481.5 82.8 C481.75 79.83 482.05 76.47 482.3 74.2 C482.55 71.93 482.78 70.33 483 69.2 C483.22 68.07 483.38 67.43 483.6 67.4 C483.82 67.37 484.07 68.07 484.3 69 C484.53 69.93 484.73 71.07 485 73 C485.27 74.93 485.62 77.85 485.9 80.6 C486.18 83.35 486.45 86.52 486.7 89.5 C486.95 92.48 487.17 95.58 487.4 98.5 C487.63 101.42 487.87 104.25 488.1 107 C488.33 109.75 488.53 112 488.8 115 C489.07 118 489.37 121.65 489.7 125 C490.03 128.35 490.38 131.77 490.8 135.1 C491.22 138.43 491.7 142.02 492.2 145 C492.7 147.98 493.25 150.57 493.8 153 C494.35 155.43 494.8 157.33 495.5 159.6 C496.2 161.87 497.02 164.57 498 166.6 C498.98 168.63 500.17 170.48 501.4 171.8 C502.63 173.12 504 173.82 505.4 174.5 C506.8 175.18 508.33 175.62 509.8 175.9 C511.27 176.18 512.75 176.27 514.2 176.2 C515.65 176.13 517.2 175.93 518.5 175.5 C519.8 175.07 520.85 174.42 522 173.6 C523.15 172.78 524.37 171.73 525.4 170.6 C526.43 169.47 527.33 168.15 528.2 166.8 C529.07 165.45 529.83 164.07 530.6 162.5 C531.37 160.93 532.13 159.12 532.8 157.4 C533.47 155.68 534.02 154 534.6 152.2 C535.18 150.4 535.73 148.67 536.3 146.6 C536.87 144.53 537.43 142.13 538 139.8 C538.57 137.47 539.13 135.13 539.7 132.6 C540.27 130.07 540.83 127.27 541.4 124.6 C541.97 121.93 542.57 118.9 543.1 116.6 C543.63 114.3 544.12 112.33 544.6 110.8 C545.08 109.27 545.55 108.15 546 107.4 C546.45 106.65 546.88 106.27 547.3 106.3 C547.72 106.33 548.12 106.82 548.5 107.6 C548.88 108.38 549.23 109.77 549.6 111 C549.97 112.23 550.32 113.53 550.7 115 C551.08 116.47 551.48 118.1 551.9 119.8 C552.32 121.5 552.78 123.42 553.2 125.2 C553.62 126.98 554 128.77 554.4 130.5 C554.8 132.23 555.18 133.92 555.6 135.6 C556.02 137.28 556.45 138.93 556.9 140.6 C557.35 142.27 557.82 143.95 558.3 145.6 C558.78 147.25 559.23 148.87 559.8 150.5 C560.37 152.13 561 153.88 561.7 155.4 C562.4 156.92 563.2 158.4 564 159.6 C564.8 160.8 565.63 161.73 566.5 162.6 C567.37 163.47 568.32 164.22 569.2 164.8 C570.08 165.38 570.92 165.75 571.8 166.1 C572.68 166.45 573.5 166.72 574.5 166.9 C575.5 167.08 576.68 167.22 577.8 167.2 C578.92 167.18 580.17 167.07 581.2 166.8 C582.23 166.53 583.12 166.1 584 165.6 C584.88 165.1 585.73 164.43 586.5 163.8 C587.27 163.17 587.82 162.57 588.6 161.8 C589.38 161.03 590.2 160.33 591.2 159.2 C592.2 158.07 593.55 156.57 594.6 155 C595.65 153.43 596.67 151.55 597.5 149.8 C598.33 148.05 598.88 146.43 599.6 144.5 C600.32 142.57 601.1 140.32 601.8 138.2 C602.5 136.08 603.23 133.7 603.8 131.8 C604.37 129.9 604.7 128.38 605.2 126.8 C605.7 125.22 606.3 123.5 606.8 122.3 C607.3 121.1 607.75 120.22 608.2 119.6 C608.65 118.98 609.03 118.7 609.5 118.6 C609.97 118.5 610.38 118.38 611 119 C611.62 119.62 612.47 120.8 613.2 122.3 C613.93 123.8 614.7 125.88 615.4 128 C616.1 130.12 616.65 132.63 617.4 135 C618.15 137.37 619.07 139.97 619.9 142.2 C620.73 144.43 621.55 146.53 622.4 148.4 C623.25 150.27 624.15 152 625 153.4 C625.85 154.8 626.53 155.87 627.5 156.8 C628.47 157.73 629.68 158.43 630.8 159 C631.92 159.57 633.08 159.97 634.2 160.2 C635.32 160.43 636.38 160.43 637.5 160.4 C638.62 160.37 639.85 160.23 640.9 160 C641.95 159.77 642.83 159.37 643.8 159 C644.77 158.63 645.78 158.2 646.7 157.8 C647.62 157.4 648.45 157.02 649.3 156.6 C650.15 156.18 651.25 155.7 651.8 155.3 C652.35 154.9 652.47 154.38 652.6 154.2" fill="none" stroke="#f5a0a4" stroke-width="1.5" stroke-linejoin="round" stroke-linecap="round"/>
<rect x="425.2" y="38.4" width="238.7" height="151.9" fill="none" stroke="#444" stroke-width="1.1"/>
<line x1="421" y1="190.3" x2="425.2" y2="190.3" stroke="#444" stroke-width="1" />
<text stroke="#1f1f1f" stroke-width="0.22" x="419.3" y="193.5" font-family="Liberation Sans" font-size="9.1" text-anchor="end" fill="#1f1f1f" >0.0</text>
<line x1="421" y1="154.55" x2="425.2" y2="154.55" stroke="#444" stroke-width="1" />
<text stroke="#1f1f1f" stroke-width="0.22" x="419.3" y="157.75" font-family="Liberation Sans" font-size="9.1" text-anchor="end" fill="#1f1f1f" >0.2</text>
<line x1="421" y1="118.8" x2="425.2" y2="118.8" stroke="#444" stroke-width="1" />
<text stroke="#1f1f1f" stroke-width="0.22" x="419.3" y="122" font-family="Liberation Sans" font-size="9.1" text-anchor="end" fill="#1f1f1f" >0.4</text>
<line x1="421" y1="83.05" x2="425.2" y2="83.05" stroke="#444" stroke-width="1" />
<text stroke="#1f1f1f" stroke-width="0.22" x="419.3" y="86.25" font-family="Liberation Sans" font-size="9.1" text-anchor="end" fill="#1f1f1f" >0.6</text>
<line x1="421" y1="47.3" x2="425.2" y2="47.3" stroke="#444" stroke-width="1" />
<text stroke="#1f1f1f" stroke-width="0.22" x="419.3" y="50.5" font-family="Liberation Sans" font-size="9.1" text-anchor="end" fill="#1f1f1f" >0.8</text>
<line x1="422.8" y1="172.43" x2="425.2" y2="172.43" stroke="#444" stroke-width="1" />
<line x1="422.8" y1="136.68" x2="425.2" y2="136.68" stroke="#444" stroke-width="1" />
<line x1="422.8" y1="100.93" x2="425.2" y2="100.93" stroke="#444" stroke-width="1" />
<line x1="422.8" y1="65.18" x2="425.2" y2="65.18" stroke="#444" stroke-width="1" />
<line x1="436.3" y1="190.3" x2="436.3" y2="193.9" stroke="#444" stroke-width="1" />
<text stroke="#1f1f1f" stroke-width="0.22" x="436.7" y="203.7" font-family="Liberation Sans" font-size="9.1" text-anchor="middle" fill="#1f1f1f" >-1.0</text>
<line x1="490.3" y1="190.3" x2="490.3" y2="193.9" stroke="#444" stroke-width="1" />
<text stroke="#1f1f1f" stroke-width="0.22" x="490.7" y="203.7" font-family="Liberation Sans" font-size="9.1" text-anchor="middle" fill="#1f1f1f" >-0.5</text>
<line x1="544.3" y1="190.3" x2="544.3" y2="193.9" stroke="#444" stroke-width="1" />
<text stroke="#1f1f1f" stroke-width="0.22" x="545" y="203.7" font-family="Liberation Sans" font-size="9.1" text-anchor="middle" fill="#1f1f1f" >0.0</text>
<line x1="598.3" y1="190.3" x2="598.3" y2="193.9" stroke="#444" stroke-width="1" />
<text stroke="#1f1f1f" stroke-width="0.22" x="599" y="203.7" font-family="Liberation Sans" font-size="9.1" text-anchor="middle" fill="#1f1f1f" >0.5</text>
<line x1="652.3" y1="190.3" x2="652.3" y2="193.9" stroke="#444" stroke-width="1" />
<text stroke="#1f1f1f" stroke-width="0.22" x="653" y="203.7" font-family="Liberation Sans" font-size="9.1" text-anchor="middle" fill="#1f1f1f" >1.0</text>
<text stroke="#1f1f1f" stroke-width="0.22" x="544.4" y="221.8" font-family="Liberation Sans" font-size="11" text-anchor="middle" fill="#1f1f1f" >Energy (eV)</text>
<text stroke="#1f1f1f" stroke-width="0.22" transform="translate(395.4,111) rotate(-90)" font-family="Liberation Sans" font-size="10.6" text-anchor="middle" fill="#1f1f1f">DOS (arb. u.)</text>
<line x1="610.7" y1="48.4" x2="631" y2="48.4" stroke="#2a6dab" stroke-width="1.4" />
<text stroke="#1f1f1f" stroke-width="0.22" x="635.8" y="51.8" font-family="Liberation Sans" font-size="8.9" fill="#1f1f1f"><tspan font-style="italic">n</tspan>=10</text>
<line x1="610.7" y1="59.5" x2="631" y2="59.5" stroke="#86bcdb" stroke-width="1.4" />
<text stroke="#1f1f1f" stroke-width="0.22" x="635.8" y="62.9" font-family="Liberation Sans" font-size="8.9" fill="#1f1f1f"><tspan font-style="italic">n</tspan>=14</text>
<line x1="610.7" y1="70.6" x2="631" y2="70.6" stroke="#c0272f" stroke-width="1.4" />
<text stroke="#1f1f1f" stroke-width="0.22" x="635.8" y="74" font-family="Liberation Sans" font-size="8.9" fill="#1f1f1f"><tspan font-style="italic">n</tspan>=20</text>
<line x1="610.7" y1="81.7" x2="631" y2="81.7" stroke="#f5a0a4" stroke-width="1.4" />
<text stroke="#1f1f1f" stroke-width="0.22" x="635.8" y="85.1" font-family="Liberation Sans" font-size="8.9" fill="#1f1f1f"><tspan font-style="italic">n</tspan>=24</text>
<text stroke="#7d5fb3" stroke-width="0.22" x="476.3" y="52.5" font-family="Liberation Sans" font-size="10.8" text-anchor="middle" fill="#7d5fb3" >HOMO</text>
<text stroke="#f39325" stroke-width="0.22" x="547.95" y="86.4" font-family="Liberation Sans" font-size="10.8" text-anchor="middle" fill="#f39325" >LUMO</text>
<text stroke="#b8642a" stroke-width="0.22" x="617.5" y="104.4" font-family="Liberation Sans" font-size="10.6" text-anchor="middle" fill="#b8642a" >LUMO+1</text>
<path d="M474.9 55.6 V62.9" stroke="#7d5fb3" stroke-width="1.2" fill="none"/>
<path d="M474.9 66.9 L472.1 61.1 L474.9 62.6 L477.7 61.1 Z" fill="#7d5fb3"/>
<path d="M547.4 89.4 V97" stroke="#f39325" stroke-width="1.2" fill="none"/>
<path d="M547.4 101 L544.6 95.2 L547.4 96.7 L550.2 95.2 Z" fill="#f39325"/>
<path d="M618.4 106.4 V115.4" stroke="#b8642a" stroke-width="1.2" fill="none"/>
<path d="M618.4 119.4 L615.6 113.6 L618.4 115.1 L621.2 113.6 Z" fill="#b8642a"/>
<defs><radialGradient id="gr" cx="0.45" cy="0.4" r="0.6"><stop offset="0" stop-color="#ec4a50"/><stop offset="0.7" stop-color="#d8232c"/><stop offset="1" stop-color="#b3161e"/></radialGradient><radialGradient id="gb" cx="0.45" cy="0.4" r="0.6"><stop offset="0" stop-color="#3f68cc"/><stop offset="0.7" stop-color="#2a4db0"/><stop offset="1" stop-color="#1d3790"/></radialGradient></defs>
<rect x="386.9" y="4.8" width="96.7" height="27.7" fill="#fff"/>
<clipPath id="mpL"><polygon points="386.9,4.8 405.9,4.8 403.9,13.8 406.9,19.8 404.9,32.5 386.9,32.5"/></clipPath>
<g clip-path="url(#mpL)"><path d="M375.7 -0.7l5.6 0M375.7 -0.7l2.8 4.05M375.7 -0.7l-2.8 4.05M381.3 -0.7l5.6 0M381.3 -0.7l2.8 4.05M381.3 -0.7l-2.8 4.05M386.9 -0.7l5.6 0M386.9 -0.7l2.8 4.05M386.9 -0.7l-2.8 4.05M392.5 -0.7l5.6 0M392.5 -0.7l2.8 4.05M392.5 -0.7l-2.8 4.05M398.1 -0.7l5.6 0M398.1 -0.7l2.8 4.05M398.1 -0.7l-2.8 4.05M403.7 -0.7l5.6 0M403.7 -0.7l2.8 4.05M403.7 -0.7l-2.8 4.05M409.3 -0.7l5.6 0M409.3 -0.7l2.8 4.05M409.3 -0.7l-2.8 4.05M414.9 -0.7l5.6 0M414.9 -0.7l2.8 4.05M414.9 -0.7l-2.8 4.05M378.5 3.35l5.6 0M378.5 3.35l2.8 4.05M378.5 3.35l-2.8 4.05M384.1 3.35l5.6 0M384.1 3.35l2.8 4.05M384.1 3.35l-2.8 4.05M389.7 3.35l5.6 0M389.7 3.35l2.8 4.05M389.7 3.35l-2.8 4.05M395.3 3.35l5.6 0M395.3 3.35l2.8 4.05M395.3 3.35l-2.8 4.05M400.9 3.35l5.6 0M400.9 3.35l2.8 4.05M400.9 3.35l-2.8 4.05M406.5 3.35l5.6 0M406.5 3.35l2.8 4.05M406.5 3.35l-2.8 4.05M412.1 3.35l5.6 0M412.1 3.35l2.8 4.05M412.1 3.35l-2.8 4.05M417.7 3.35l5.6 0M417.7 3.35l2.8 4.05M417.7 3.35l-2.8 4.05M375.7 7.4l5.6 0M375.7 7.4l2.8 4.05M375.7 7.4l-2.8 4.05M381.3 7.4l5.6 0M381.3 7.4l2.8 4.05M381.3 7.4l-2.8 4.05M386.9 7.4l5.6 0M386.9 7.4l2.8 4.05M386.9 7.4l-2.8 4.05M392.5 7.4l5.6 0M392.5 7.4l2.8 4.05M392.5 7.4l-2.8 4.05M398.1 7.4l5.6 0M398.1 7.4l2.8 4.05M398.1 7.4l-2.8 4.05M403.7 7.4l5.6 0M403.7 7.4l2.8 4.05M403.7 7.4l-2.8 4.05M409.3 7.4l5.6 0M409.3 7.4l2.8 4.05M409.3 7.4l-2.8 4.05M414.9 7.4l5.6 0M414.9 7.4l2.8 4.05M414.9 7.4l-2.8 4.05M378.5 11.45l5.6 0M378.5 11.45l2.8 4.05M378.5 11.45l-2.8 4.05M384.1 11.45l5.6 0M384.1 11.45l2.8 4.05M384.1 11.45l-2.8 4.05M389.7 11.45l5.6 0M389.7 11.45l2.8 4.05M389.7 11.45l-2.8 4.05M395.3 11.45l5.6 0M395.3 11.45l2.8 4.05M395.3 11.45l-2.8 4.05M400.9 11.45l5.6 0M400.9 11.45l2.8 4.05M400.9 11.45l-2.8 4.05M406.5 11.45l5.6 0M406.5 11.45l2.8 4.05M406.5 11.45l-2.8 4.05M412.1 11.45l5.6 0M412.1 11.45l2.8 4.05M412.1 11.45l-2.8 4.05M417.7 11.45l5.6 0M417.7 11.45l2.8 4.05M417.7 11.45l-2.8 4.05M375.7 15.5l5.6 0M375.7 15.5l2.8 4.05M375.7 15.5l-2.8 4.05M381.3 15.5l5.6 0M381.3 15.5l2.8 4.05M381.3 15.5l-2.8 4.05M386.9 15.5l5.6 0M386.9 15.5l2.8 4.05M386.9 15.5l-2.8 4.05M392.5 15.5l5.6 0M392.5 15.5l2.8 4.05M392.5 15.5l-2.8 4.05M398.1 15.5l5.6 0M398.1 15.5l2.8 4.05M398.1 15.5l-2.8 4.05M403.7 15.5l5.6 0M403.7 15.5l2.8 4.05M403.7 15.5l-2.8 4.05M409.3 15.5l5.6 0M409.3 15.5l2.8 4.05M409.3 15.5l-2.8 4.05M414.9 15.5l5.6 0M414.9 15.5l2.8 4.05M414.9 15.5l-2.8 4.05M378.5 19.55l5.6 0M378.5 19.55l2.8 4.05M378.5 19.55l-2.8 4.05M384.1 19.55l5.6 0M384.1 19.55l2.8 4.05M384.1 19.55l-2.8 4.05M389.7 19.55l5.6 0M389.7 19.55l2.8 4.05M389.7 19.55l-2.8 4.05M395.3 19.55l5.6 0M395.3 19.55l2.8 4.05M395.3 19.55l-2.8 4.05M400.9 19.55l5.6 0M400.9 19.55l2.8 4.05M400.9 19.55l-2.8 4.05M406.5 19.55l5.6 0M406.5 19.55l2.8 4.05M406.5 19.55l-2.8 4.05M412.1 19.55l5.6 0M412.1 19.55l2.8 4.05M412.1 19.55l-2.8 4.05M417.7 19.55l5.6 0M417.7 19.55l2.8 4.05M417.7 19.55l-2.8 4.05M375.7 23.6l5.6 0M375.7 23.6l2.8 4.05M375.7 23.6l-2.8 4.05M381.3 23.6l5.6 0M381.3 23.6l2.8 4.05M381.3 23.6l-2.8 4.05M386.9 23.6l5.6 0M386.9 23.6l2.8 4.05M386.9 23.6l-2.8 4.05M392.5 23.6l5.6 0M392.5 23.6l2.8 4.05M392.5 23.6l-2.8 4.05M398.1 23.6l5.6 0M398.1 23.6l2.8 4.05M398.1 23.6l-2.8 4.05M403.7 23.6l5.6 0M403.7 23.6l2.8 4.05M403.7 23.6l-2.8 4.05M409.3 23.6l5.6 0M409.3 23.6l2.8 4.05M409.3 23.6l-2.8 4.05M414.9 23.6l5.6 0M414.9 23.6l2.8 4.05M414.9 23.6l-2.8 4.05M378.5 27.65l5.6 0M378.5 27.65l2.8 4.05M378.5 27.65l-2.8 4.05M384.1 27.65l5.6 0M384.1 27.65l2.8 4.05M384.1 27.65l-2.8 4.05M389.7 27.65l5.6 0M389.7 27.65l2.8 4.05M389.7 27.65l-2.8 4.05M395.3 27.65l5.6 0M395.3 27.65l2.8 4.05M395.3 27.65l-2.8 4.05M400.9 27.65l5.6 0M400.9 27.65l2.8 4.05M400.9 27.65l-2.8 4.05M406.5 27.65l5.6 0M406.5 27.65l2.8 4.05M406.5 27.65l-2.8 4.05M412.1 27.65l5.6 0M412.1 27.65l2.8 4.05M412.1 27.65l-2.8 4.05M417.7 27.65l5.6 0M417.7 27.65l2.8 4.05M417.7 27.65l-2.8 4.05M375.7 31.7l5.6 0M375.7 31.7l2.8 4.05M375.7 31.7l-2.8 4.05M381.3 31.7l5.6 0M381.3 31.7l2.8 4.05M381.3 31.7l-2.8 4.05M386.9 31.7l5.6 0M386.9 31.7l2.8 4.05M386.9 31.7l-2.8 4.05M392.5 31.7l5.6 0M392.5 31.7l2.8 4.05M392.5 31.7l-2.8 4.05M398.1 31.7l5.6 0M398.1 31.7l2.8 4.05M398.1 31.7l-2.8 4.05M403.7 31.7l5.6 0M403.7 31.7l2.8 4.05M403.7 31.7l-2.8 4.05M409.3 31.7l5.6 0M409.3 31.7l2.8 4.05M409.3 31.7l-2.8 4.05M414.9 31.7l5.6 0M414.9 31.7l2.8 4.05M414.9 31.7l-2.8 4.05M378.5 35.75l5.6 0M378.5 35.75l2.8 4.05M378.5 35.75l-2.8 4.05M384.1 35.75l5.6 0M384.1 35.75l2.8 4.05M384.1 35.75l-2.8 4.05M389.7 35.75l5.6 0M389.7 35.75l2.8 4.05M389.7 35.75l-2.8 4.05M395.3 35.75l5.6 0M395.3 35.75l2.8 4.05M395.3 35.75l-2.8 4.05M400.9 35.75l5.6 0M400.9 35.75l2.8 4.05M400.9 35.75l-2.8 4.05M406.5 35.75l5.6 0M406.5 35.75l2.8 4.05M406.5 35.75l-2.8 4.05M412.1 35.75l5.6 0M412.1 35.75l2.8 4.05M412.1 35.75l-2.8 4.05M417.7 35.75l5.6 0M417.7 35.75l2.8 4.05M417.7 35.75l-2.8 4.05" stroke="#eca464" stroke-width="0.65" fill="none"/>
<path d="M375.7 -0.7m-0.9 0a0.9 0.9 0 1 0 1.8 0a0.9 0.9 0 1 0 -1.8 0M381.3 -0.7m-0.9 0a0.9 0.9 0 1 0 1.8 0a0.9 0.9 0 1 0 -1.8 0M386.9 -0.7m-0.9 0a0.9 0.9 0 1 0 1.8 0a0.9 0.9 0 1 0 -1.8 0M392.5 -0.7m-0.9 0a0.9 0.9 0 1 0 1.8 0a0.9 0.9 0 1 0 -1.8 0M398.1 -0.7m-0.9 0a0.9 0.9 0 1 0 1.8 0a0.9 0.9 0 1 0 -1.8 0M403.7 -0.7m-0.9 0a0.9 0.9 0 1 0 1.8 0a0.9 0.9 0 1 0 -1.8 0M409.3 -0.7m-0.9 0a0.9 0.9 0 1 0 1.8 0a0.9 0.9 0 1 0 -1.8 0M414.9 -0.7m-0.9 0a0.9 0.9 0 1 0 1.8 0a0.9 0.9 0 1 0 -1.8 0M378.5 3.35m-0.9 0a0.9 0.9 0 1 0 1.8 0a0.9 0.9 0 1 0 -1.8 0M384.1 3.35m-0.9 0a0.9 0.9 0 1 0 1.8 0a0.9 0.9 0 1 0 -1.8 0M389.7 3.35m-0.9 0a0.9 0.9 0 1 0 1.8 0a0.9 0.9 0 1 0 -1.8 0M395.3 3.35m-0.9 0a0.9 0.9 0 1 0 1.8 0a0.9 0.9 0 1 0 -1.8 0M400.9 3.35m-0.9 0a0.9 0.9 0 1 0 1.8 0a0.9 0.9 0 1 0 -1.8 0M406.5 3.35m-0.9 0a0.9 0.9 0 1 0 1.8 0a0.9 0.9 0 1 0 -1.8 0M412.1 3.35m-0.9 0a0.9 0.9 0 1 0 1.8 0a0.9 0.9 0 1 0 -1.8 0M417.7 3.35m-0.9 0a0.9 0.9 0 1 0 1.8 0a0.9 0.9 0 1 0 -1.8 0M375.7 7.4m-0.9 0a0.9 0.9 0 1 0 1.8 0a0.9 0.9 0 1 0 -1.8 0M381.3 7.4m-0.9 0a0.9 0.9 0 1 0 1.8 0a0.9 0.9 0 1 0 -1.8 0M386.9 7.4m-0.9 0a0.9 0.9 0 1 0 1.8 0a0.9 0.9 0 1 0 -1.8 0M392.5 7.4m-0.9 0a0.9 0.9 0 1 0 1.8 0a0.9 0.9 0 1 0 -1.8 0M398.1 7.4m-0.9 0a0.9 0.9 0 1 0 1.8 0a0.9 0.9 0 1 0 -1.8 0M403.7 7.4m-0.9 0a0.9 0.9 0 1 0 1.8 0a0.9 0.9 0 1 0 -1.8 0M409.3 7.4m-0.9 0a0.9 0.9 0 1 0 1.8 0a0.9 0.9 0 1 0 -1.8 0M414.9 7.4m-0.9 0a0.9 0.9 0 1 0 1.8 0a0.9 0.9 0 1 0 -1.8 0M378.5 11.45m-0.9 0a0.9 0.9 0 1 0 1.8 0a0.9 0.9 0 1 0 -1.8 0M384.1 11.45m-0.9 0a0.9 0.9 0 1 0 1.8 0a0.9 0.9 0 1 0 -1.8 0M389.7 11.45m-0.9 0a0.9 0.9 0 1 0 1.8 0a0.9 0.9 0 1 0 -1.8 0M395.3 11.45m-0.9 0a0.9 0.9 0 1 0 1.8 0a0.9 0.9 0 1 0 -1.8 0M400.9 11.45m-0.9 0a0.9 0.9 0 1 0 1.8 0a0.9 0.9 0 1 0 -1.8 0M406.5 11.45m-0.9 0a0.9 0.9 0 1 0 1.8 0a0.9 0.9 0 1 0 -1.8 0M412.1 11.45m-0.9 0a0.9 0.9 0 1 0 1.8 0a0.9 0.9 0 1 0 -1.8 0M417.7 11.45m-0.9 0a0.9 0.9 0 1 0 1.8 0a0.9 0.9 0 1 0 -1.8 0M375.7 15.5m-0.9 0a0.9 0.9 0 1 0 1.8 0a0.9 0.9 0 1 0 -1.8 0M381.3 15.5m-0.9 0a0.9 0.9 0 1 0 1.8 0a0.9 0.9 0 1 0 -1.8 0M386.9 15.5m-0.9 0a0.9 0.9 0 1 0 1.8 0a0.9 0.9 0 1 0 -1.8 0M392.5 15.5m-0.9 0a0.9 0.9 0 1 0 1.8 0a0.9 0.9 0 1 0 -1.8 0M398.1 15.5m-0.9 0a0.9 0.9 0 1 0 1.8 0a0.9 0.9 0 1 0 -1.8 0M403.7 15.5m-0.9 0a0.9 0.9 0 1 0 1.8 0a0.9 0.9 0 1 0 -1.8 0M409.3 15.5m-0.9 0a0.9 0.9 0 1 0 1.8 0a0.9 0.9 0 1 0 -1.8 0M414.9 15.5m-0.9 0a0.9 0.9 0 1 0 1.8 0a0.9 0.9 0 1 0 -1.8 0M378.5 19.55m-0.9 0a0.9 0.9 0 1 0 1.8 0a0.9 0.9 0 1 0 -1.8 0M384.1 19.55m-0.9 0a0.9 0.9 0 1 0 1.8 0a0.9 0.9 0 1 0 -1.8 0M389.7 19.55m-0.9 0a0.9 0.9 0 1 0 1.8 0a0.9 0.9 0 1 0 -1.8 0M395.3 19.55m-0.9 0a0.9 0.9 0 1 0 1.8 0a0.9 0.9 0 1 0 -1.8 0M400.9 19.55m-0.9 0a0.9 0.9 0 1 0 1.8 0a0.9 0.9 0 1 0 -1.8 0M406.5 19.55m-0.9 0a0.9 0.9 0 1 0 1.8 0a0.9 0.9 0 1 0 -1.8 0M412.1 19.55m-0.9 0a0.9 0.9 0 1 0 1.8 0a0.9 0.9 0 1 0 -1.8 0M417.7 19.55m-0.9 0a0.9 0.9 0 1 0 1.8 0a0.9 0.9 0 1 0 -1.8 0M375.7 23.6m-0.9 0a0.9 0.9 0 1 0 1.8 0a0.9 0.9 0 1 0 -1.8 0M381.3 23.6m-0.9 0a0.9 0.9 0 1 0 1.8 0a0.9 0.9 0 1 0 -1.8 0M386.9 23.6m-0.9 0a0.9 0.9 0 1 0 1.8 0a0.9 0.9 0 1 0 -1.8 0M392.5 23.6m-0.9 0a0.9 0.9 0 1 0 1.8 0a0.9 0.9 0 1 0 -1.8 0M398.1 23.6m-0.9 0a0.9 0.9 0 1 0 1.8 0a0.9 0.9 0 1 0 -1.8 0M403.7 23.6m-0.9 0a0.9 0.9 0 1 0 1.8 0a0.9 0.9 0 1 0 -1.8 0M409.3 23.6m-0.9 0a0.9 0.9 0 1 0 1.8 0a0.9 0.9 0 1 0 -1.8 0M414.9 23.6m-0.9 0a0.9 0.9 0 1 0 1.8 0a0.9 0.9 0 1 0 -1.8 0M378.5 27.65m-0.9 0a0.9 0.9 0 1 0 1.8 0a0.9 0.9 0 1 0 -1.8 0M384.1 27.65m-0.9 0a0.9 0.9 0 1 0 1.8 0a0.9 0.9 0 1 0 -1.8 0M389.7 27.65m-0.9 0a0.9 0.9 0 1 0 1.8 0a0.9 0.9 0 1 0 -1.8 0M395.3 27.65m-0.9 0a0.9 0.9 0 1 0 1.8 0a0.9 0.9 0 1 0 -1.8 0M400.9 27.65m-0.9 0a0.9 0.9 0 1 0 1.8 0a0.9 0.9 0 1 0 -1.8 0M406.5 27.65m-0.9 0a0.9 0.9 0 1 0 1.8 0a0.9 0.9 0 1 0 -1.8 0M412.1 27.65m-0.9 0a0.9 0.9 0 1 0 1.8 0a0.9 0.9 0 1 0 -1.8 0M417.7 27.65m-0.9 0a0.9 0.9 0 1 0 1.8 0a0.9 0.9 0 1 0 -1.8 0M375.7 31.7m-0.9 0a0.9 0.9 0 1 0 1.8 0a0.9 0.9 0 1 0 -1.8 0M381.3 31.7m-0.9 0a0.9 0.9 0 1 0 1.8 0a0.9 0.9 0 1 0 -1.8 0M386.9 31.7m-0.9 0a0.9 0.9 0 1 0 1.8 0a0.9 0.9 0 1 0 -1.8 0M392.5 31.7m-0.9 0a0.9 0.9 0 1 0 1.8 0a0.9 0.9 0 1 0 -1.8 0M398.1 31.7m-0.9 0a0.9 0.9 0 1 0 1.8 0a0.9 0.9 0 1 0 -1.8 0M403.7 31.7m-0.9 0a0.9 0.9 0 1 0 1.8 0a0.9 0.9 0 1 0 -1.8 0M409.3 31.7m-0.9 0a0.9 0.9 0 1 0 1.8 0a0.9 0.9 0 1 0 -1.8 0M414.9 31.7m-0.9 0a0.9 0.9 0 1 0 1.8 0a0.9 0.9 0 1 0 -1.8 0M378.5 35.75m-0.9 0a0.9 0.9 0 1 0 1.8 0a0.9 0.9 0 1 0 -1.8 0M384.1 35.75m-0.9 0a0.9 0.9 0 1 0 1.8 0a0.9 0.9 0 1 0 -1.8 0M389.7 35.75m-0.9 0a0.9 0.9 0 1 0 1.8 0a0.9 0.9 0 1 0 -1.8 0M395.3 35.75m-0.9 0a0.9 0.9 0 1 0 1.8 0a0.9 0.9 0 1 0 -1.8 0M400.9 35.75m-0.9 0a0.9 0.9 0 1 0 1.8 0a0.9 0.9 0 1 0 -1.8 0M406.5 35.75m-0.9 0a0.9 0.9 0 1 0 1.8 0a0.9 0.9 0 1 0 -1.8 0M412.1 35.75m-0.9 0a0.9 0.9 0 1 0 1.8 0a0.9 0.9 0 1 0 -1.8 0M417.7 35.75m-0.9 0a0.9 0.9 0 1 0 1.8 0a0.9 0.9 0 1 0 -1.8 0" fill="#e8923d"/></g>
<clipPath id="mpR"><polygon points="483.6,4.8 464.6,4.8 466.6,14.8 463.6,21.8 465.6,32.5 483.6,32.5"/></clipPath>
<g clip-path="url(#mpR)"><path d="M450.4 -0.7l5.6 0M450.4 -0.7l2.8 4.05M450.4 -0.7l-2.8 4.05M456 -0.7l5.6 0M456 -0.7l2.8 4.05M456 -0.7l-2.8 4.05M461.6 -0.7l5.6 0M461.6 -0.7l2.8 4.05M461.6 -0.7l-2.8 4.05M467.2 -0.7l5.6 0M467.2 -0.7l2.8 4.05M467.2 -0.7l-2.8 4.05M472.8 -0.7l5.6 0M472.8 -0.7l2.8 4.05M472.8 -0.7l-2.8 4.05M478.4 -0.7l5.6 0M478.4 -0.7l2.8 4.05M478.4 -0.7l-2.8 4.05M484 -0.7l5.6 0M484 -0.7l2.8 4.05M484 -0.7l-2.8 4.05M489.6 -0.7l5.6 0M489.6 -0.7l2.8 4.05M489.6 -0.7l-2.8 4.05M453.2 3.35l5.6 0M453.2 3.35l2.8 4.05M453.2 3.35l-2.8 4.05M458.8 3.35l5.6 0M458.8 3.35l2.8 4.05M458.8 3.35l-2.8 4.05M464.4 3.35l5.6 0M464.4 3.35l2.8 4.05M464.4 3.35l-2.8 4.05M470 3.35l5.6 0M470 3.35l2.8 4.05M470 3.35l-2.8 4.05M475.6 3.35l5.6 0M475.6 3.35l2.8 4.05M475.6 3.35l-2.8 4.05M481.2 3.35l5.6 0M481.2 3.35l2.8 4.05M481.2 3.35l-2.8 4.05M486.8 3.35l5.6 0M486.8 3.35l2.8 4.05M486.8 3.35l-2.8 4.05M492.4 3.35l5.6 0M492.4 3.35l2.8 4.05M492.4 3.35l-2.8 4.05M450.4 7.4l5.6 0M450.4 7.4l2.8 4.05M450.4 7.4l-2.8 4.05M456 7.4l5.6 0M456 7.4l2.8 4.05M456 7.4l-2.8 4.05M461.6 7.4l5.6 0M461.6 7.4l2.8 4.05M461.6 7.4l-2.8 4.05M467.2 7.4l5.6 0M467.2 7.4l2.8 4.05M467.2 7.4l-2.8 4.05M472.8 7.4l5.6 0M472.8 7.4l2.8 4.05M472.8 7.4l-2.8 4.05M478.4 7.4l5.6 0M478.4 7.4l2.8 4.05M478.4 7.4l-2.8 4.05M484 7.4l5.6 0M484 7.4l2.8 4.05M484 7.4l-2.8 4.05M489.6 7.4l5.6 0M489.6 7.4l2.8 4.05M489.6 7.4l-2.8 4.05M453.2 11.45l5.6 0M453.2 11.45l2.8 4.05M453.2 11.45l-2.8 4.05M458.8 11.45l5.6 0M458.8 11.45l2.8 4.05M458.8 11.45l-2.8 4.05M464.4 11.45l5.6 0M464.4 11.45l2.8 4.05M464.4 11.45l-2.8 4.05M470 11.45l5.6 0M470 11.45l2.8 4.05M470 11.45l-2.8 4.05M475.6 11.45l5.6 0M475.6 11.45l2.8 4.05M475.6 11.45l-2.8 4.05M481.2 11.45l5.6 0M481.2 11.45l2.8 4.05M481.2 11.45l-2.8 4.05M486.8 11.45l5.6 0M486.8 11.45l2.8 4.05M486.8 11.45l-2.8 4.05M492.4 11.45l5.6 0M492.4 11.45l2.8 4.05M492.4 11.45l-2.8 4.05M450.4 15.5l5.6 0M450.4 15.5l2.8 4.05M450.4 15.5l-2.8 4.05M456 15.5l5.6 0M456 15.5l2.8 4.05M456 15.5l-2.8 4.05M461.6 15.5l5.6 0M461.6 15.5l2.8 4.05M461.6 15.5l-2.8 4.05M467.2 15.5l5.6 0M467.2 15.5l2.8 4.05M467.2 15.5l-2.8 4.05M472.8 15.5l5.6 0M472.8 15.5l2.8 4.05M472.8 15.5l-2.8 4.05M478.4 15.5l5.6 0M478.4 15.5l2.8 4.05M478.4 15.5l-2.8 4.05M484 15.5l5.6 0M484 15.5l2.8 4.05M484 15.5l-2.8 4.05M489.6 15.5l5.6 0M489.6 15.5l2.8 4.05M489.6 15.5l-2.8 4.05M453.2 19.55l5.6 0M453.2 19.55l2.8 4.05M453.2 19.55l-2.8 4.05M458.8 19.55l5.6 0M458.8 19.55l2.8 4.05M458.8 19.55l-2.8 4.05M464.4 19.55l5.6 0M464.4 19.55l2.8 4.05M464.4 19.55l-2.8 4.05M470 19.55l5.6 0M470 19.55l2.8 4.05M470 19.55l-2.8 4.05M475.6 19.55l5.6 0M475.6 19.55l2.8 4.05M475.6 19.55l-2.8 4.05M481.2 19.55l5.6 0M481.2 19.55l2.8 4.05M481.2 19.55l-2.8 4.05M486.8 19.55l5.6 0M486.8 19.55l2.8 4.05M486.8 19.55l-2.8 4.05M492.4 19.55l5.6 0M492.4 19.55l2.8 4.05M492.4 19.55l-2.8 4.05M450.4 23.6l5.6 0M450.4 23.6l2.8 4.05M450.4 23.6l-2.8 4.05M456 23.6l5.6 0M456 23.6l2.8 4.05M456 23.6l-2.8 4.05M461.6 23.6l5.6 0M461.6 23.6l2.8 4.05M461.6 23.6l-2.8 4.05M467.2 23.6l5.6 0M467.2 23.6l2.8 4.05M467.2 23.6l-2.8 4.05M472.8 23.6l5.6 0M472.8 23.6l2.8 4.05M472.8 23.6l-2.8 4.05M478.4 23.6l5.6 0M478.4 23.6l2.8 4.05M478.4 23.6l-2.8 4.05M484 23.6l5.6 0M484 23.6l2.8 4.05M484 23.6l-2.8 4.05M489.6 23.6l5.6 0M489.6 23.6l2.8 4.05M489.6 23.6l-2.8 4.05M453.2 27.65l5.6 0M453.2 27.65l2.8 4.05M453.2 27.65l-2.8 4.05M458.8 27.65l5.6 0M458.8 27.65l2.8 4.05M458.8 27.65l-2.8 4.05M464.4 27.65l5.6 0M464.4 27.65l2.8 4.05M464.4 27.65l-2.8 4.05M470 27.65l5.6 0M470 27.65l2.8 4.05M470 27.65l-2.8 4.05M475.6 27.65l5.6 0M475.6 27.65l2.8 4.05M475.6 27.65l-2.8 4.05M481.2 27.65l5.6 0M481.2 27.65l2.8 4.05M481.2 27.65l-2.8 4.05M486.8 27.65l5.6 0M486.8 27.65l2.8 4.05M486.8 27.65l-2.8 4.05M492.4 27.65l5.6 0M492.4 27.65l2.8 4.05M492.4 27.65l-2.8 4.05M450.4 31.7l5.6 0M450.4 31.7l2.8 4.05M450.4 31.7l-2.8 4.05M456 31.7l5.6 0M456 31.7l2.8 4.05M456 31.7l-2.8 4.05M461.6 31.7l5.6 0M461.6 31.7l2.8 4.05M461.6 31.7l-2.8 4.05M467.2 31.7l5.6 0M467.2 31.7l2.8 4.05M467.2 31.7l-2.8 4.05M472.8 31.7l5.6 0M472.8 31.7l2.8 4.05M472.8 31.7l-2.8 4.05M478.4 31.7l5.6 0M478.4 31.7l2.8 4.05M478.4 31.7l-2.8 4.05M484 31.7l5.6 0M484 31.7l2.8 4.05M484 31.7l-2.8 4.05M489.6 31.7l5.6 0M489.6 31.7l2.8 4.05M489.6 31.7l-2.8 4.05M453.2 35.75l5.6 0M453.2 35.75l2.8 4.05M453.2 35.75l-2.8 4.05M458.8 35.75l5.6 0M458.8 35.75l2.8 4.05M458.8 35.75l-2.8 4.05M464.4 35.75l5.6 0M464.4 35.75l2.8 4.05M464.4 35.75l-2.8 4.05M470 35.75l5.6 0M470 35.75l2.8 4.05M470 35.75l-2.8 4.05M475.6 35.75l5.6 0M475.6 35.75l2.8 4.05M475.6 35.75l-2.8 4.05M481.2 35.75l5.6 0M481.2 35.75l2.8 4.05M481.2 35.75l-2.8 4.05M486.8 35.75l5.6 0M486.8 35.75l2.8 4.05M486.8 35.75l-2.8 4.05M492.4 35.75l5.6 0M492.4 35.75l2.8 4.05M492.4 35.75l-2.8 4.05" stroke="#eca464" stroke-width="0.65" fill="none"/>
<path d="M450.4 -0.7m-0.9 0a0.9 0.9 0 1 0 1.8 0a0.9 0.9 0 1 0 -1.8 0M456 -0.7m-0.9 0a0.9 0.9 0 1 0 1.8 0a0.9 0.9 0 1 0 -1.8 0M461.6 -0.7m-0.9 0a0.9 0.9 0 1 0 1.8 0a0.9 0.9 0 1 0 -1.8 0M467.2 -0.7m-0.9 0a0.9 0.9 0 1 0 1.8 0a0.9 0.9 0 1 0 -1.8 0M472.8 -0.7m-0.9 0a0.9 0.9 0 1 0 1.8 0a0.9 0.9 0 1 0 -1.8 0M478.4 -0.7m-0.9 0a0.9 0.9 0 1 0 1.8 0a0.9 0.9 0 1 0 -1.8 0M484 -0.7m-0.9 0a0.9 0.9 0 1 0 1.8 0a0.9 0.9 0 1 0 -1.8 0M489.6 -0.7m-0.9 0a0.9 0.9 0 1 0 1.8 0a0.9 0.9 0 1 0 -1.8 0M453.2 3.35m-0.9 0a0.9 0.9 0 1 0 1.8 0a0.9 0.9 0 1 0 -1.8 0M458.8 3.35m-0.9 0a0.9 0.9 0 1 0 1.8 0a0.9 0.9 0 1 0 -1.8 0M464.4 3.35m-0.9 0a0.9 0.9 0 1 0 1.8 0a0.9 0.9 0 1 0 -1.8 0M470 3.35m-0.9 0a0.9 0.9 0 1 0 1.8 0a0.9 0.9 0 1 0 -1.8 0M475.6 3.35m-0.9 0a0.9 0.9 0 1 0 1.8 0a0.9 0.9 0 1 0 -1.8 0M481.2 3.35m-0.9 0a0.9 0.9 0 1 0 1.8 0a0.9 0.9 0 1 0 -1.8 0M486.8 3.35m-0.9 0a0.9 0.9 0 1 0 1.8 0a0.9 0.9 0 1 0 -1.8 0M492.4 3.35m-0.9 0a0.9 0.9 0 1 0 1.8 0a0.9 0.9 0 1 0 -1.8 0M450.4 7.4m-0.9 0a0.9 0.9 0 1 0 1.8 0a0.9 0.9 0 1 0 -1.8 0M456 7.4m-0.9 0a0.9 0.9 0 1 0 1.8 0a0.9 0.9 0 1 0 -1.8 0M461.6 7.4m-0.9 0a0.9 0.9 0 1 0 1.8 0a0.9 0.9 0 1 0 -1.8 0M467.2 7.4m-0.9 0a0.9 0.9 0 1 0 1.8 0a0.9 0.9 0 1 0 -1.8 0M472.8 7.4m-0.9 0a0.9 0.9 0 1 0 1.8 0a0.9 0.9 0 1 0 -1.8 0M478.4 7.4m-0.9 0a0.9 0.9 0 1 0 1.8 0a0.9 0.9 0 1 0 -1.8 0M484 7.4m-0.9 0a0.9 0.9 0 1 0 1.8 0a0.9 0.9 0 1 0 -1.8 0M489.6 7.4m-0.9 0a0.9 0.9 0 1 0 1.8 0a0.9 0.9 0 1 0 -1.8 0M453.2 11.45m-0.9 0a0.9 0.9 0 1 0 1.8 0a0.9 0.9 0 1 0 -1.8 0M458.8 11.45m-0.9 0a0.9 0.9 0 1 0 1.8 0a0.9 0.9 0 1 0 -1.8 0M464.4 11.45m-0.9 0a0.9 0.9 0 1 0 1.8 0a0.9 0.9 0 1 0 -1.8 0M470 11.45m-0.9 0a0.9 0.9 0 1 0 1.8 0a0.9 0.9 0 1 0 -1.8 0M475.6 11.45m-0.9 0a0.9 0.9 0 1 0 1.8 0a0.9 0.9 0 1 0 -1.8 0M481.2 11.45m-0.9 0a0.9 0.9 0 1 0 1.8 0a0.9 0.9 0 1 0 -1.8 0M486.8 11.45m-0.9 0a0.9 0.9 0 1 0 1.8 0a0.9 0.9 0 1 0 -1.8 0M492.4 11.45m-0.9 0a0.9 0.9 0 1 0 1.8 0a0.9 0.9 0 1 0 -1.8 0M450.4 15.5m-0.9 0a0.9 0.9 0 1 0 1.8 0a0.9 0.9 0 1 0 -1.8 0M456 15.5m-0.9 0a0.9 0.9 0 1 0 1.8 0a0.9 0.9 0 1 0 -1.8 0M461.6 15.5m-0.9 0a0.9 0.9 0 1 0 1.8 0a0.9 0.9 0 1 0 -1.8 0M467.2 15.5m-0.9 0a0.9 0.9 0 1 0 1.8 0a0.9 0.9 0 1 0 -1.8 0M472.8 15.5m-0.9 0a0.9 0.9 0 1 0 1.8 0a0.9 0.9 0 1 0 -1.8 0M478.4 15.5m-0.9 0a0.9 0.9 0 1 0 1.8 0a0.9 0.9 0 1 0 -1.8 0M484 15.5m-0.9 0a0.9 0.9 0 1 0 1.8 0a0.9 0.9 0 1 0 -1.8 0M489.6 15.5m-0.9 0a0.9 0.9 0 1 0 1.8 0a0.9 0.9 0 1 0 -1.8 0M453.2 19.55m-0.9 0a0.9 0.9 0 1 0 1.8 0a0.9 0.9 0 1 0 -1.8 0M458.8 19.55m-0.9 0a0.9 0.9 0 1 0 1.8 0a0.9 0.9 0 1 0 -1.8 0M464.4 19.55m-0.9 0a0.9 0.9 0 1 0 1.8 0a0.9 0.9 0 1 0 -1.8 0M470 19.55m-0.9 0a0.9 0.9 0 1 0 1.8 0a0.9 0.9 0 1 0 -1.8 0M475.6 19.55m-0.9 0a0.9 0.9 0 1 0 1.8 0a0.9 0.9 0 1 0 -1.8 0M481.2 19.55m-0.9 0a0.9 0.9 0 1 0 1.8 0a0.9 0.9 0 1 0 -1.8 0M486.8 19.55m-0.9 0a0.9 0.9 0 1 0 1.8 0a0.9 0.9 0 1 0 -1.8 0M492.4 19.55m-0.9 0a0.9 0.9 0 1 0 1.8 0a0.9 0.9 0 1 0 -1.8 0M450.4 23.6m-0.9 0a0.9 0.9 0 1 0 1.8 0a0.9 0.9 0 1 0 -1.8 0M456 23.6m-0.9 0a0.9 0.9 0 1 0 1.8 0a0.9 0.9 0 1 0 -1.8 0M461.6 23.6m-0.9 0a0.9 0.9 0 1 0 1.8 0a0.9 0.9 0 1 0 -1.8 0M467.2 23.6m-0.9 0a0.9 0.9 0 1 0 1.8 0a0.9 0.9 0 1 0 -1.8 0M472.8 23.6m-0.9 0a0.9 0.9 0 1 0 1.8 0a0.9 0.9 0 1 0 -1.8 0M478.4 23.6m-0.9 0a0.9 0.9 0 1 0 1.8 0a0.9 0.9 0 1 0 -1.8 0M484 23.6m-0.9 0a0.9 0.9 0 1 0 1.8 0a0.9 0.9 0 1 0 -1.8 0M489.6 23.6m-0.9 0a0.9 0.9 0 1 0 1.8 0a0.9 0.9 0 1 0 -1.8 0M453.2 27.65m-0.9 0a0.9 0.9 0 1 0 1.8 0a0.9 0.9 0 1 0 -1.8 0M458.8 27.65m-0.9 0a0.9 0.9 0 1 0 1.8 0a0.9 0.9 0 1 0 -1.8 0M464.4 27.65m-0.9 0a0.9 0.9 0 1 0 1.8 0a0.9 0.9 0 1 0 -1.8 0M470 27.65m-0.9 0a0.9 0.9 0 1 0 1.8 0a0.9 0.9 0 1 0 -1.8 0M475.6 27.65m-0.9 0a0.9 0.9 0 1 0 1.8 0a0.9 0.9 0 1 0 -1.8 0M481.2 27.65m-0.9 0a0.9 0.9 0 1 0 1.8 0a0.9 0.9 0 1 0 -1.8 0M486.8 27.65m-0.9 0a0.9 0.9 0 1 0 1.8 0a0.9 0.9 0 1 0 -1.8 0M492.4 27.65m-0.9 0a0.9 0.9 0 1 0 1.8 0a0.9 0.9 0 1 0 -1.8 0M450.4 31.7m-0.9 0a0.9 0.9 0 1 0 1.8 0a0.9 0.9 0 1 0 -1.8 0M456 31.7m-0.9 0a0.9 0.9 0 1 0 1.8 0a0.9 0.9 0 1 0 -1.8 0M461.6 31.7m-0.9 0a0.9 0.9 0 1 0 1.8 0a0.9 0.9 0 1 0 -1.8 0M467.2 31.7m-0.9 0a0.9 0.9 0 1 0 1.8 0a0.9 0.9 0 1 0 -1.8 0M472.8 31.7m-0.9 0a0.9 0.9 0 1 0 1.8 0a0.9 0.9 0 1 0 -1.8 0M478.4 31.7m-0.9 0a0.9 0.9 0 1 0 1.8 0a0.9 0.9 0 1 0 -1.8 0M484 31.7m-0.9 0a0.9 0.9 0 1 0 1.8 0a0.9 0.9 0 1 0 -1.8 0M489.6 31.7m-0.9 0a0.9 0.9 0 1 0 1.8 0a0.9 0.9 0 1 0 -1.8 0M453.2 35.75m-0.9 0a0.9 0.9 0 1 0 1.8 0a0.9 0.9 0 1 0 -1.8 0M458.8 35.75m-0.9 0a0.9 0.9 0 1 0 1.8 0a0.9 0.9 0 1 0 -1.8 0M464.4 35.75m-0.9 0a0.9 0.9 0 1 0 1.8 0a0.9 0.9 0 1 0 -1.8 0M470 35.75m-0.9 0a0.9 0.9 0 1 0 1.8 0a0.9 0.9 0 1 0 -1.8 0M475.6 35.75m-0.9 0a0.9 0.9 0 1 0 1.8 0a0.9 0.9 0 1 0 -1.8 0M481.2 35.75m-0.9 0a0.9 0.9 0 1 0 1.8 0a0.9 0.9 0 1 0 -1.8 0M486.8 35.75m-0.9 0a0.9 0.9 0 1 0 1.8 0a0.9 0.9 0 1 0 -1.8 0M492.4 35.75m-0.9 0a0.9 0.9 0 1 0 1.8 0a0.9 0.9 0 1 0 -1.8 0" fill="#e8923d"/></g>
<ellipse cx="398.2" cy="15" rx="2.5" ry="2.3" transform="rotate(0 398.2 15)" fill="url(#gr)"/>
<ellipse cx="404" cy="14.2" rx="2.5" ry="2.3" transform="rotate(0 404 14.2)" fill="url(#gb)"/>
<ellipse cx="401" cy="19.8" rx="2.4" ry="2.3" transform="rotate(0 401 19.8)" fill="url(#gb)"/>
<ellipse cx="406.6" cy="19.8" rx="2.85" ry="3.1" transform="rotate(0 406.6 19.8)" fill="url(#gr)"/>
<ellipse cx="412.8" cy="19.8" rx="2.85" ry="3.1" transform="rotate(0 412.8 19.8)" fill="url(#gb)"/>
<ellipse cx="418.7" cy="19.3" rx="2.85" ry="3.1" transform="rotate(0 418.7 19.3)" fill="url(#gr)"/>
<ellipse cx="424.8" cy="18.8" rx="2.85" ry="3.1" transform="rotate(0 424.8 18.8)" fill="url(#gb)"/>
<ellipse cx="431" cy="17.8" rx="2.85" ry="3.1" transform="rotate(0 431 17.8)" fill="url(#gr)"/>
<ellipse cx="436.8" cy="17.3" rx="2.85" ry="3.1" transform="rotate(0 436.8 17.3)" fill="url(#gb)"/>
<ellipse cx="442.9" cy="17.3" rx="2.85" ry="3.1" transform="rotate(0 442.9 17.3)" fill="url(#gr)"/>
<ellipse cx="449" cy="17.1" rx="2.85" ry="3.1" transform="rotate(0 449 17.1)" fill="url(#gb)"/>
<ellipse cx="455" cy="17.1" rx="2.85" ry="3.1" transform="rotate(0 455 17.1)" fill="url(#gr)"/>
<ellipse cx="461.1" cy="17.1" rx="2.85" ry="3.1" transform="rotate(0 461.1 17.1)" fill="url(#gb)"/>
<ellipse cx="466.7" cy="17.1" rx="2.85" ry="3.1" transform="rotate(0 466.7 17.1)" fill="url(#gr)"/>
<ellipse cx="464" cy="22.4" rx="2.3" ry="2.1" transform="rotate(0 464 22.4)" fill="url(#gr)"/>
<ellipse cx="469.7" cy="22" rx="2.3" ry="2.2" transform="rotate(0 469.7 22)" fill="url(#gb)"/>
<rect x="386.9" y="4.8" width="96.7" height="27.7" fill="none" stroke="#7d5fb3" stroke-width="1.8"/>
<rect x="487.3" y="4.8" width="95.4" height="27.7" fill="#fff"/>
<clipPath id="moL"><polygon points="487.3,4.8 506.3,4.8 504.3,13.8 507.3,19.8 505.3,32.5 487.3,32.5"/></clipPath>
<g clip-path="url(#moL)"><path d="M476.1 -0.7l5.6 0M476.1 -0.7l2.8 4.05M476.1 -0.7l-2.8 4.05M481.7 -0.7l5.6 0M481.7 -0.7l2.8 4.05M481.7 -0.7l-2.8 4.05M487.3 -0.7l5.6 0M487.3 -0.7l2.8 4.05M487.3 -0.7l-2.8 4.05M492.9 -0.7l5.6 0M492.9 -0.7l2.8 4.05M492.9 -0.7l-2.8 4.05M498.5 -0.7l5.6 0M498.5 -0.7l2.8 4.05M498.5 -0.7l-2.8 4.05M504.1 -0.7l5.6 0M504.1 -0.7l2.8 4.05M504.1 -0.7l-2.8 4.05M509.7 -0.7l5.6 0M509.7 -0.7l2.8 4.05M509.7 -0.7l-2.8 4.05M515.3 -0.7l5.6 0M515.3 -0.7l2.8 4.05M515.3 -0.7l-2.8 4.05M478.9 3.35l5.6 0M478.9 3.35l2.8 4.05M478.9 3.35l-2.8 4.05M484.5 3.35l5.6 0M484.5 3.35l2.8 4.05M484.5 3.35l-2.8 4.05M490.1 3.35l5.6 0M490.1 3.35l2.8 4.05M490.1 3.35l-2.8 4.05M495.7 3.35l5.6 0M495.7 3.35l2.8 4.05M495.7 3.35l-2.8 4.05M501.3 3.35l5.6 0M501.3 3.35l2.8 4.05M501.3 3.35l-2.8 4.05M506.9 3.35l5.6 0M506.9 3.35l2.8 4.05M506.9 3.35l-2.8 4.05M512.5 3.35l5.6 0M512.5 3.35l2.8 4.05M512.5 3.35l-2.8 4.05M518.1 3.35l5.6 0M518.1 3.35l2.8 4.05M518.1 3.35l-2.8 4.05M476.1 7.4l5.6 0M476.1 7.4l2.8 4.05M476.1 7.4l-2.8 4.05M481.7 7.4l5.6 0M481.7 7.4l2.8 4.05M481.7 7.4l-2.8 4.05M487.3 7.4l5.6 0M487.3 7.4l2.8 4.05M487.3 7.4l-2.8 4.05M492.9 7.4l5.6 0M492.9 7.4l2.8 4.05M492.9 7.4l-2.8 4.05M498.5 7.4l5.6 0M498.5 7.4l2.8 4.05M498.5 7.4l-2.8 4.05M504.1 7.4l5.6 0M504.1 7.4l2.8 4.05M504.1 7.4l-2.8 4.05M509.7 7.4l5.6 0M509.7 7.4l2.8 4.05M509.7 7.4l-2.8 4.05M515.3 7.4l5.6 0M515.3 7.4l2.8 4.05M515.3 7.4l-2.8 4.05M478.9 11.45l5.6 0M478.9 11.45l2.8 4.05M478.9 11.45l-2.8 4.05M484.5 11.45l5.6 0M484.5 11.45l2.8 4.05M484.5 11.45l-2.8 4.05M490.1 11.45l5.6 0M490.1 11.45l2.8 4.05M490.1 11.45l-2.8 4.05M495.7 11.45l5.6 0M495.7 11.45l2.8 4.05M495.7 11.45l-2.8 4.05M501.3 11.45l5.6 0M501.3 11.45l2.8 4.05M501.3 11.45l-2.8 4.05M506.9 11.45l5.6 0M506.9 11.45l2.8 4.05M506.9 11.45l-2.8 4.05M512.5 11.45l5.6 0M512.5 11.45l2.8 4.05M512.5 11.45l-2.8 4.05M518.1 11.45l5.6 0M518.1 11.45l2.8 4.05M518.1 11.45l-2.8 4.05M476.1 15.5l5.6 0M476.1 15.5l2.8 4.05M476.1 15.5l-2.8 4.05M481.7 15.5l5.6 0M481.7 15.5l2.8 4.05M481.7 15.5l-2.8 4.05M487.3 15.5l5.6 0M487.3 15.5l2.8 4.05M487.3 15.5l-2.8 4.05M492.9 15.5l5.6 0M492.9 15.5l2.8 4.05M492.9 15.5l-2.8 4.05M498.5 15.5l5.6 0M498.5 15.5l2.8 4.05M498.5 15.5l-2.8 4.05M504.1 15.5l5.6 0M504.1 15.5l2.8 4.05M504.1 15.5l-2.8 4.05M509.7 15.5l5.6 0M509.7 15.5l2.8 4.05M509.7 15.5l-2.8 4.05M515.3 15.5l5.6 0M515.3 15.5l2.8 4.05M515.3 15.5l-2.8 4.05M478.9 19.55l5.6 0M478.9 19.55l2.8 4.05M478.9 19.55l-2.8 4.05M484.5 19.55l5.6 0M484.5 19.55l2.8 4.05M484.5 19.55l-2.8 4.05M490.1 19.55l5.6 0M490.1 19.55l2.8 4.05M490.1 19.55l-2.8 4.05M495.7 19.55l5.6 0M495.7 19.55l2.8 4.05M495.7 19.55l-2.8 4.05M501.3 19.55l5.6 0M501.3 19.55l2.8 4.05M501.3 19.55l-2.8 4.05M506.9 19.55l5.6 0M506.9 19.55l2.8 4.05M506.9 19.55l-2.8 4.05M512.5 19.55l5.6 0M512.5 19.55l2.8 4.05M512.5 19.55l-2.8 4.05M518.1 19.55l5.6 0M518.1 19.55l2.8 4.05M518.1 19.55l-2.8 4.05M476.1 23.6l5.6 0M476.1 23.6l2.8 4.05M476.1 23.6l-2.8 4.05M481.7 23.6l5.6 0M481.7 23.6l2.8 4.05M481.7 23.6l-2.8 4.05M487.3 23.6l5.6 0M487.3 23.6l2.8 4.05M487.3 23.6l-2.8 4.05M492.9 23.6l5.6 0M492.9 23.6l2.8 4.05M492.9 23.6l-2.8 4.05M498.5 23.6l5.6 0M498.5 23.6l2.8 4.05M498.5 23.6l-2.8 4.05M504.1 23.6l5.6 0M504.1 23.6l2.8 4.05M504.1 23.6l-2.8 4.05M509.7 23.6l5.6 0M509.7 23.6l2.8 4.05M509.7 23.6l-2.8 4.05M515.3 23.6l5.6 0M515.3 23.6l2.8 4.05M515.3 23.6l-2.8 4.05M478.9 27.65l5.6 0M478.9 27.65l2.8 4.05M478.9 27.65l-2.8 4.05M484.5 27.65l5.6 0M484.5 27.65l2.8 4.05M484.5 27.65l-2.8 4.05M490.1 27.65l5.6 0M490.1 27.65l2.8 4.05M490.1 27.65l-2.8 4.05M495.7 27.65l5.6 0M495.7 27.65l2.8 4.05M495.7 27.65l-2.8 4.05M501.3 27.65l5.6 0M501.3 27.65l2.8 4.05M501.3 27.65l-2.8 4.05M506.9 27.65l5.6 0M506.9 27.65l2.8 4.05M506.9 27.65l-2.8 4.05M512.5 27.65l5.6 0M512.5 27.65l2.8 4.05M512.5 27.65l-2.8 4.05M518.1 27.65l5.6 0M518.1 27.65l2.8 4.05M518.1 27.65l-2.8 4.05M476.1 31.7l5.6 0M476.1 31.7l2.8 4.05M476.1 31.7l-2.8 4.05M481.7 31.7l5.6 0M481.7 31.7l2.8 4.05M481.7 31.7l-2.8 4.05M487.3 31.7l5.6 0M487.3 31.7l2.8 4.05M487.3 31.7l-2.8 4.05M492.9 31.7l5.6 0M492.9 31.7l2.8 4.05M492.9 31.7l-2.8 4.05M498.5 31.7l5.6 0M498.5 31.7l2.8 4.05M498.5 31.7l-2.8 4.05M504.1 31.7l5.6 0M504.1 31.7l2.8 4.05M504.1 31.7l-2.8 4.05M509.7 31.7l5.6 0M509.7 31.7l2.8 4.05M509.7 31.7l-2.8 4.05M515.3 31.7l5.6 0M515.3 31.7l2.8 4.05M515.3 31.7l-2.8 4.05M478.9 35.75l5.6 0M478.9 35.75l2.8 4.05M478.9 35.75l-2.8 4.05M484.5 35.75l5.6 0M484.5 35.75l2.8 4.05M484.5 35.75l-2.8 4.05M490.1 35.75l5.6 0M490.1 35.75l2.8 4.05M490.1 35.75l-2.8 4.05M495.7 35.75l5.6 0M495.7 35.75l2.8 4.05M495.7 35.75l-2.8 4.05M501.3 35.75l5.6 0M501.3 35.75l2.8 4.05M501.3 35.75l-2.8 4.05M506.9 35.75l5.6 0M506.9 35.75l2.8 4.05M506.9 35.75l-2.8 4.05M512.5 35.75l5.6 0M512.5 35.75l2.8 4.05M512.5 35.75l-2.8 4.05M518.1 35.75l5.6 0M518.1 35.75l2.8 4.05M518.1 35.75l-2.8 4.05" stroke="#eca464" stroke-width="0.65" fill="none"/>
<path d="M476.1 -0.7m-0.9 0a0.9 0.9 0 1 0 1.8 0a0.9 0.9 0 1 0 -1.8 0M481.7 -0.7m-0.9 0a0.9 0.9 0 1 0 1.8 0a0.9 0.9 0 1 0 -1.8 0M487.3 -0.7m-0.9 0a0.9 0.9 0 1 0 1.8 0a0.9 0.9 0 1 0 -1.8 0M492.9 -0.7m-0.9 0a0.9 0.9 0 1 0 1.8 0a0.9 0.9 0 1 0 -1.8 0M498.5 -0.7m-0.9 0a0.9 0.9 0 1 0 1.8 0a0.9 0.9 0 1 0 -1.8 0M504.1 -0.7m-0.9 0a0.9 0.9 0 1 0 1.8 0a0.9 0.9 0 1 0 -1.8 0M509.7 -0.7m-0.9 0a0.9 0.9 0 1 0 1.8 0a0.9 0.9 0 1 0 -1.8 0M515.3 -0.7m-0.9 0a0.9 0.9 0 1 0 1.8 0a0.9 0.9 0 1 0 -1.8 0M478.9 3.35m-0.9 0a0.9 0.9 0 1 0 1.8 0a0.9 0.9 0 1 0 -1.8 0M484.5 3.35m-0.9 0a0.9 0.9 0 1 0 1.8 0a0.9 0.9 0 1 0 -1.8 0M490.1 3.35m-0.9 0a0.9 0.9 0 1 0 1.8 0a0.9 0.9 0 1 0 -1.8 0M495.7 3.35m-0.9 0a0.9 0.9 0 1 0 1.8 0a0.9 0.9 0 1 0 -1.8 0M501.3 3.35m-0.9 0a0.9 0.9 0 1 0 1.8 0a0.9 0.9 0 1 0 -1.8 0M506.9 3.35m-0.9 0a0.9 0.9 0 1 0 1.8 0a0.9 0.9 0 1 0 -1.8 0M512.5 3.35m-0.9 0a0.9 0.9 0 1 0 1.8 0a0.9 0.9 0 1 0 -1.8 0M518.1 3.35m-0.9 0a0.9 0.9 0 1 0 1.8 0a0.9 0.9 0 1 0 -1.8 0M476.1 7.4m-0.9 0a0.9 0.9 0 1 0 1.8 0a0.9 0.9 0 1 0 -1.8 0M481.7 7.4m-0.9 0a0.9 0.9 0 1 0 1.8 0a0.9 0.9 0 1 0 -1.8 0M487.3 7.4m-0.9 0a0.9 0.9 0 1 0 1.8 0a0.9 0.9 0 1 0 -1.8 0M492.9 7.4m-0.9 0a0.9 0.9 0 1 0 1.8 0a0.9 0.9 0 1 0 -1.8 0M498.5 7.4m-0.9 0a0.9 0.9 0 1 0 1.8 0a0.9 0.9 0 1 0 -1.8 0M504.1 7.4m-0.9 0a0.9 0.9 0 1 0 1.8 0a0.9 0.9 0 1 0 -1.8 0M509.7 7.4m-0.9 0a0.9 0.9 0 1 0 1.8 0a0.9 0.9 0 1 0 -1.8 0M515.3 7.4m-0.9 0a0.9 0.9 0 1 0 1.8 0a0.9 0.9 0 1 0 -1.8 0M478.9 11.45m-0.9 0a0.9 0.9 0 1 0 1.8 0a0.9 0.9 0 1 0 -1.8 0M484.5 11.45m-0.9 0a0.9 0.9 0 1 0 1.8 0a0.9 0.9 0 1 0 -1.8 0M490.1 11.45m-0.9 0a0.9 0.9 0 1 0 1.8 0a0.9 0.9 0 1 0 -1.8 0M495.7 11.45m-0.9 0a0.9 0.9 0 1 0 1.8 0a0.9 0.9 0 1 0 -1.8 0M501.3 11.45m-0.9 0a0.9 0.9 0 1 0 1.8 0a0.9 0.9 0 1 0 -1.8 0M506.9 11.45m-0.9 0a0.9 0.9 0 1 0 1.8 0a0.9 0.9 0 1 0 -1.8 0M512.5 11.45m-0.9 0a0.9 0.9 0 1 0 1.8 0a0.9 0.9 0 1 0 -1.8 0M518.1 11.45m-0.9 0a0.9 0.9 0 1 0 1.8 0a0.9 0.9 0 1 0 -1.8 0M476.1 15.5m-0.9 0a0.9 0.9 0 1 0 1.8 0a0.9 0.9 0 1 0 -1.8 0M481.7 15.5m-0.9 0a0.9 0.9 0 1 0 1.8 0a0.9 0.9 0 1 0 -1.8 0M487.3 15.5m-0.9 0a0.9 0.9 0 1 0 1.8 0a0.9 0.9 0 1 0 -1.8 0M492.9 15.5m-0.9 0a0.9 0.9 0 1 0 1.8 0a0.9 0.9 0 1 0 -1.8 0M498.5 15.5m-0.9 0a0.9 0.9 0 1 0 1.8 0a0.9 0.9 0 1 0 -1.8 0M504.1 15.5m-0.9 0a0.9 0.9 0 1 0 1.8 0a0.9 0.9 0 1 0 -1.8 0M509.7 15.5m-0.9 0a0.9 0.9 0 1 0 1.8 0a0.9 0.9 0 1 0 -1.8 0M515.3 15.5m-0.9 0a0.9 0.9 0 1 0 1.8 0a0.9 0.9 0 1 0 -1.8 0M478.9 19.55m-0.9 0a0.9 0.9 0 1 0 1.8 0a0.9 0.9 0 1 0 -1.8 0M484.5 19.55m-0.9 0a0.9 0.9 0 1 0 1.8 0a0.9 0.9 0 1 0 -1.8 0M490.1 19.55m-0.9 0a0.9 0.9 0 1 0 1.8 0a0.9 0.9 0 1 0 -1.8 0M495.7 19.55m-0.9 0a0.9 0.9 0 1 0 1.8 0a0.9 0.9 0 1 0 -1.8 0M501.3 19.55m-0.9 0a0.9 0.9 0 1 0 1.8 0a0.9 0.9 0 1 0 -1.8 0M506.9 19.55m-0.9 0a0.9 0.9 0 1 0 1.8 0a0.9 0.9 0 1 0 -1.8 0M512.5 19.55m-0.9 0a0.9 0.9 0 1 0 1.8 0a0.9 0.9 0 1 0 -1.8 0M518.1 19.55m-0.9 0a0.9 0.9 0 1 0 1.8 0a0.9 0.9 0 1 0 -1.8 0M476.1 23.6m-0.9 0a0.9 0.9 0 1 0 1.8 0a0.9 0.9 0 1 0 -1.8 0M481.7 23.6m-0.9 0a0.9 0.9 0 1 0 1.8 0a0.9 0.9 0 1 0 -1.8 0M487.3 23.6m-0.9 0a0.9 0.9 0 1 0 1.8 0a0.9 0.9 0 1 0 -1.8 0M492.9 23.6m-0.9 0a0.9 0.9 0 1 0 1.8 0a0.9 0.9 0 1 0 -1.8 0M498.5 23.6m-0.9 0a0.9 0.9 0 1 0 1.8 0a0.9 0.9 0 1 0 -1.8 0M504.1 23.6m-0.9 0a0.9 0.9 0 1 0 1.8 0a0.9 0.9 0 1 0 -1.8 0M509.7 23.6m-0.9 0a0.9 0.9 0 1 0 1.8 0a0.9 0.9 0 1 0 -1.8 0M515.3 23.6m-0.9 0a0.9 0.9 0 1 0 1.8 0a0.9 0.9 0 1 0 -1.8 0M478.9 27.65m-0.9 0a0.9 0.9 0 1 0 1.8 0a0.9 0.9 0 1 0 -1.8 0M484.5 27.65m-0.9 0a0.9 0.9 0 1 0 1.8 0a0.9 0.9 0 1 0 -1.8 0M490.1 27.65m-0.9 0a0.9 0.9 0 1 0 1.8 0a0.9 0.9 0 1 0 -1.8 0M495.7 27.65m-0.9 0a0.9 0.9 0 1 0 1.8 0a0.9 0.9 0 1 0 -1.8 0M501.3 27.65m-0.9 0a0.9 0.9 0 1 0 1.8 0a0.9 0.9 0 1 0 -1.8 0M506.9 27.65m-0.9 0a0.9 0.9 0 1 0 1.8 0a0.9 0.9 0 1 0 -1.8 0M512.5 27.65m-0.9 0a0.9 0.9 0 1 0 1.8 0a0.9 0.9 0 1 0 -1.8 0M518.1 27.65m-0.9 0a0.9 0.9 0 1 0 1.8 0a0.9 0.9 0 1 0 -1.8 0M476.1 31.7m-0.9 0a0.9 0.9 0 1 0 1.8 0a0.9 0.9 0 1 0 -1.8 0M481.7 31.7m-0.9 0a0.9 0.9 0 1 0 1.8 0a0.9 0.9 0 1 0 -1.8 0M487.3 31.7m-0.9 0a0.9 0.9 0 1 0 1.8 0a0.9 0.9 0 1 0 -1.8 0M492.9 31.7m-0.9 0a0.9 0.9 0 1 0 1.8 0a0.9 0.9 0 1 0 -1.8 0M498.5 31.7m-0.9 0a0.9 0.9 0 1 0 1.8 0a0.9 0.9 0 1 0 -1.8 0M504.1 31.7m-0.9 0a0.9 0.9 0 1 0 1.8 0a0.9 0.9 0 1 0 -1.8 0M509.7 31.7m-0.9 0a0.9 0.9 0 1 0 1.8 0a0.9 0.9 0 1 0 -1.8 0M515.3 31.7m-0.9 0a0.9 0.9 0 1 0 1.8 0a0.9 0.9 0 1 0 -1.8 0M478.9 35.75m-0.9 0a0.9 0.9 0 1 0 1.8 0a0.9 0.9 0 1 0 -1.8 0M484.5 35.75m-0.9 0a0.9 0.9 0 1 0 1.8 0a0.9 0.9 0 1 0 -1.8 0M490.1 35.75m-0.9 0a0.9 0.9 0 1 0 1.8 0a0.9 0.9 0 1 0 -1.8 0M495.7 35.75m-0.9 0a0.9 0.9 0 1 0 1.8 0a0.9 0.9 0 1 0 -1.8 0M501.3 35.75m-0.9 0a0.9 0.9 0 1 0 1.8 0a0.9 0.9 0 1 0 -1.8 0M506.9 35.75m-0.9 0a0.9 0.9 0 1 0 1.8 0a0.9 0.9 0 1 0 -1.8 0M512.5 35.75m-0.9 0a0.9 0.9 0 1 0 1.8 0a0.9 0.9 0 1 0 -1.8 0M518.1 35.75m-0.9 0a0.9 0.9 0 1 0 1.8 0a0.9 0.9 0 1 0 -1.8 0" fill="#e8923d"/></g>
<clipPath id="moR"><polygon points="582.7,4.8 563.7,4.8 565.7,14.8 562.7,21.8 564.7,32.5 582.7,32.5"/></clipPath>
<g clip-path="url(#moR)"><path d="M549.5 -0.7l5.6 0M549.5 -0.7l2.8 4.05M549.5 -0.7l-2.8 4.05M555.1 -0.7l5.6 0M555.1 -0.7l2.8 4.05M555.1 -0.7l-2.8 4.05M560.7 -0.7l5.6 0M560.7 -0.7l2.8 4.05M560.7 -0.7l-2.8 4.05M566.3 -0.7l5.6 0M566.3 -0.7l2.8 4.05M566.3 -0.7l-2.8 4.05M571.9 -0.7l5.6 0M571.9 -0.7l2.8 4.05M571.9 -0.7l-2.8 4.05M577.5 -0.7l5.6 0M577.5 -0.7l2.8 4.05M577.5 -0.7l-2.8 4.05M583.1 -0.7l5.6 0M583.1 -0.7l2.8 4.05M583.1 -0.7l-2.8 4.05M588.7 -0.7l5.6 0M588.7 -0.7l2.8 4.05M588.7 -0.7l-2.8 4.05M552.3 3.35l5.6 0M552.3 3.35l2.8 4.05M552.3 3.35l-2.8 4.05M557.9 3.35l5.6 0M557.9 3.35l2.8 4.05M557.9 3.35l-2.8 4.05M563.5 3.35l5.6 0M563.5 3.35l2.8 4.05M563.5 3.35l-2.8 4.05M569.1 3.35l5.6 0M569.1 3.35l2.8 4.05M569.1 3.35l-2.8 4.05M574.7 3.35l5.6 0M574.7 3.35l2.8 4.05M574.7 3.35l-2.8 4.05M580.3 3.35l5.6 0M580.3 3.35l2.8 4.05M580.3 3.35l-2.8 4.05M585.9 3.35l5.6 0M585.9 3.35l2.8 4.05M585.9 3.35l-2.8 4.05M591.5 3.35l5.6 0M591.5 3.35l2.8 4.05M591.5 3.35l-2.8 4.05M549.5 7.4l5.6 0M549.5 7.4l2.8 4.05M549.5 7.4l-2.8 4.05M555.1 7.4l5.6 0M555.1 7.4l2.8 4.05M555.1 7.4l-2.8 4.05M560.7 7.4l5.6 0M560.7 7.4l2.8 4.05M560.7 7.4l-2.8 4.05M566.3 7.4l5.6 0M566.3 7.4l2.8 4.05M566.3 7.4l-2.8 4.05M571.9 7.4l5.6 0M571.9 7.4l2.8 4.05M571.9 7.4l-2.8 4.05M577.5 7.4l5.6 0M577.5 7.4l2.8 4.05M577.5 7.4l-2.8 4.05M583.1 7.4l5.6 0M583.1 7.4l2.8 4.05M583.1 7.4l-2.8 4.05M588.7 7.4l5.6 0M588.7 7.4l2.8 4.05M588.7 7.4l-2.8 4.05M552.3 11.45l5.6 0M552.3 11.45l2.8 4.05M552.3 11.45l-2.8 4.05M557.9 11.45l5.6 0M557.9 11.45l2.8 4.05M557.9 11.45l-2.8 4.05M563.5 11.45l5.6 0M563.5 11.45l2.8 4.05M563.5 11.45l-2.8 4.05M569.1 11.45l5.6 0M569.1 11.45l2.8 4.05M569.1 11.45l-2.8 4.05M574.7 11.45l5.6 0M574.7 11.45l2.8 4.05M574.7 11.45l-2.8 4.05M580.3 11.45l5.6 0M580.3 11.45l2.8 4.05M580.3 11.45l-2.8 4.05M585.9 11.45l5.6 0M585.9 11.45l2.8 4.05M585.9 11.45l-2.8 4.05M591.5 11.45l5.6 0M591.5 11.45l2.8 4.05M591.5 11.45l-2.8 4.05M549.5 15.5l5.6 0M549.5 15.5l2.8 4.05M549.5 15.5l-2.8 4.05M555.1 15.5l5.6 0M555.1 15.5l2.8 4.05M555.1 15.5l-2.8 4.05M560.7 15.5l5.6 0M560.7 15.5l2.8 4.05M560.7 15.5l-2.8 4.05M566.3 15.5l5.6 0M566.3 15.5l2.8 4.05M566.3 15.5l-2.8 4.05M571.9 15.5l5.6 0M571.9 15.5l2.8 4.05M571.9 15.5l-2.8 4.05M577.5 15.5l5.6 0M577.5 15.5l2.8 4.05M577.5 15.5l-2.8 4.05M583.1 15.5l5.6 0M583.1 15.5l2.8 4.05M583.1 15.5l-2.8 4.05M588.7 15.5l5.6 0M588.7 15.5l2.8 4.05M588.7 15.5l-2.8 4.05M552.3 19.55l5.6 0M552.3 19.55l2.8 4.05M552.3 19.55l-2.8 4.05M557.9 19.55l5.6 0M557.9 19.55l2.8 4.05M557.9 19.55l-2.8 4.05M563.5 19.55l5.6 0M563.5 19.55l2.8 4.05M563.5 19.55l-2.8 4.05M569.1 19.55l5.6 0M569.1 19.55l2.8 4.05M569.1 19.55l-2.8 4.05M574.7 19.55l5.6 0M574.7 19.55l2.8 4.05M574.7 19.55l-2.8 4.05M580.3 19.55l5.6 0M580.3 19.55l2.8 4.05M580.3 19.55l-2.8 4.05M585.9 19.55l5.6 0M585.9 19.55l2.8 4.05M585.9 19.55l-2.8 4.05M591.5 19.55l5.6 0M591.5 19.55l2.8 4.05M591.5 19.55l-2.8 4.05M549.5 23.6l5.6 0M549.5 23.6l2.8 4.05M549.5 23.6l-2.8 4.05M555.1 23.6l5.6 0M555.1 23.6l2.8 4.05M555.1 23.6l-2.8 4.05M560.7 23.6l5.6 0M560.7 23.6l2.8 4.05M560.7 23.6l-2.8 4.05M566.3 23.6l5.6 0M566.3 23.6l2.8 4.05M566.3 23.6l-2.8 4.05M571.9 23.6l5.6 0M571.9 23.6l2.8 4.05M571.9 23.6l-2.8 4.05M577.5 23.6l5.6 0M577.5 23.6l2.8 4.05M577.5 23.6l-2.8 4.05M583.1 23.6l5.6 0M583.1 23.6l2.8 4.05M583.1 23.6l-2.8 4.05M588.7 23.6l5.6 0M588.7 23.6l2.8 4.05M588.7 23.6l-2.8 4.05M552.3 27.65l5.6 0M552.3 27.65l2.8 4.05M552.3 27.65l-2.8 4.05M557.9 27.65l5.6 0M557.9 27.65l2.8 4.05M557.9 27.65l-2.8 4.05M563.5 27.65l5.6 0M563.5 27.65l2.8 4.05M563.5 27.65l-2.8 4.05M569.1 27.65l5.6 0M569.1 27.65l2.8 4.05M569.1 27.65l-2.8 4.05M574.7 27.65l5.6 0M574.7 27.65l2.8 4.05M574.7 27.65l-2.8 4.05M580.3 27.65l5.6 0M580.3 27.65l2.8 4.05M580.3 27.65l-2.8 4.05M585.9 27.65l5.6 0M585.9 27.65l2.8 4.05M585.9 27.65l-2.8 4.05M591.5 27.65l5.6 0M591.5 27.65l2.8 4.05M591.5 27.65l-2.8 4.05M549.5 31.7l5.6 0M549.5 31.7l2.8 4.05M549.5 31.7l-2.8 4.05M555.1 31.7l5.6 0M555.1 31.7l2.8 4.05M555.1 31.7l-2.8 4.05M560.7 31.7l5.6 0M560.7 31.7l2.8 4.05M560.7 31.7l-2.8 4.05M566.3 31.7l5.6 0M566.3 31.7l2.8 4.05M566.3 31.7l-2.8 4.05M571.9 31.7l5.6 0M571.9 31.7l2.8 4.05M571.9 31.7l-2.8 4.05M577.5 31.7l5.6 0M577.5 31.7l2.8 4.05M577.5 31.7l-2.8 4.05M583.1 31.7l5.6 0M583.1 31.7l2.8 4.05M583.1 31.7l-2.8 4.05M588.7 31.7l5.6 0M588.7 31.7l2.8 4.05M588.7 31.7l-2.8 4.05M552.3 35.75l5.6 0M552.3 35.75l2.8 4.05M552.3 35.75l-2.8 4.05M557.9 35.75l5.6 0M557.9 35.75l2.8 4.05M557.9 35.75l-2.8 4.05M563.5 35.75l5.6 0M563.5 35.75l2.8 4.05M563.5 35.75l-2.8 4.05M569.1 35.75l5.6 0M569.1 35.75l2.8 4.05M569.1 35.75l-2.8 4.05M574.7 35.75l5.6 0M574.7 35.75l2.8 4.05M574.7 35.75l-2.8 4.05M580.3 35.75l5.6 0M580.3 35.75l2.8 4.05M580.3 35.75l-2.8 4.05M585.9 35.75l5.6 0M585.9 35.75l2.8 4.05M585.9 35.75l-2.8 4.05M591.5 35.75l5.6 0M591.5 35.75l2.8 4.05M591.5 35.75l-2.8 4.05" stroke="#eca464" stroke-width="0.65" fill="none"/>
<path d="M549.5 -0.7m-0.9 0a0.9 0.9 0 1 0 1.8 0a0.9 0.9 0 1 0 -1.8 0M555.1 -0.7m-0.9 0a0.9 0.9 0 1 0 1.8 0a0.9 0.9 0 1 0 -1.8 0M560.7 -0.7m-0.9 0a0.9 0.9 0 1 0 1.8 0a0.9 0.9 0 1 0 -1.8 0M566.3 -0.7m-0.9 0a0.9 0.9 0 1 0 1.8 0a0.9 0.9 0 1 0 -1.8 0M571.9 -0.7m-0.9 0a0.9 0.9 0 1 0 1.8 0a0.9 0.9 0 1 0 -1.8 0M577.5 -0.7m-0.9 0a0.9 0.9 0 1 0 1.8 0a0.9 0.9 0 1 0 -1.8 0M583.1 -0.7m-0.9 0a0.9 0.9 0 1 0 1.8 0a0.9 0.9 0 1 0 -1.8 0M588.7 -0.7m-0.9 0a0.9 0.9 0 1 0 1.8 0a0.9 0.9 0 1 0 -1.8 0M552.3 3.35m-0.9 0a0.9 0.9 0 1 0 1.8 0a0.9 0.9 0 1 0 -1.8 0M557.9 3.35m-0.9 0a0.9 0.9 0 1 0 1.8 0a0.9 0.9 0 1 0 -1.8 0M563.5 3.35m-0.9 0a0.9 0.9 0 1 0 1.8 0a0.9 0.9 0 1 0 -1.8 0M569.1 3.35m-0.9 0a0.9 0.9 0 1 0 1.8 0a0.9 0.9 0 1 0 -1.8 0M574.7 3.35m-0.9 0a0.9 0.9 0 1 0 1.8 0a0.9 0.9 0 1 0 -1.8 0M580.3 3.35m-0.9 0a0.9 0.9 0 1 0 1.8 0a0.9 0.9 0 1 0 -1.8 0M585.9 3.35m-0.9 0a0.9 0.9 0 1 0 1.8 0a0.9 0.9 0 1 0 -1.8 0M591.5 3.35m-0.9 0a0.9 0.9 0 1 0 1.8 0a0.9 0.9 0 1 0 -1.8 0M549.5 7.4m-0.9 0a0.9 0.9 0 1 0 1.8 0a0.9 0.9 0 1 0 -1.8 0M555.1 7.4m-0.9 0a0.9 0.9 0 1 0 1.8 0a0.9 0.9 0 1 0 -1.8 0M560.7 7.4m-0.9 0a0.9 0.9 0 1 0 1.8 0a0.9 0.9 0 1 0 -1.8 0M566.3 7.4m-0.9 0a0.9 0.9 0 1 0 1.8 0a0.9 0.9 0 1 0 -1.8 0M571.9 7.4m-0.9 0a0.9 0.9 0 1 0 1.8 0a0.9 0.9 0 1 0 -1.8 0M577.5 7.4m-0.9 0a0.9 0.9 0 1 0 1.8 0a0.9 0.9 0 1 0 -1.8 0M583.1 7.4m-0.9 0a0.9 0.9 0 1 0 1.8 0a0.9 0.9 0 1 0 -1.8 0M588.7 7.4m-0.9 0a0.9 0.9 0 1 0 1.8 0a0.9 0.9 0 1 0 -1.8 0M552.3 11.45m-0.9 0a0.9 0.9 0 1 0 1.8 0a0.9 0.9 0 1 0 -1.8 0M557.9 11.45m-0.9 0a0.9 0.9 0 1 0 1.8 0a0.9 0.9 0 1 0 -1.8 0M563.5 11.45m-0.9 0a0.9 0.9 0 1 0 1.8 0a0.9 0.9 0 1 0 -1.8 0M569.1 11.45m-0.9 0a0.9 0.9 0 1 0 1.8 0a0.9 0.9 0 1 0 -1.8 0M574.7 11.45m-0.9 0a0.9 0.9 0 1 0 1.8 0a0.9 0.9 0 1 0 -1.8 0M580.3 11.45m-0.9 0a0.9 0.9 0 1 0 1.8 0a0.9 0.9 0 1 0 -1.8 0M585.9 11.45m-0.9 0a0.9 0.9 0 1 0 1.8 0a0.9 0.9 0 1 0 -1.8 0M591.5 11.45m-0.9 0a0.9 0.9 0 1 0 1.8 0a0.9 0.9 0 1 0 -1.8 0M549.5 15.5m-0.9 0a0.9 0.9 0 1 0 1.8 0a0.9 0.9 0 1 0 -1.8 0M555.1 15.5m-0.9 0a0.9 0.9 0 1 0 1.8 0a0.9 0.9 0 1 0 -1.8 0M560.7 15.5m-0.9 0a0.9 0.9 0 1 0 1.8 0a0.9 0.9 0 1 0 -1.8 0M566.3 15.5m-0.9 0a0.9 0.9 0 1 0 1.8 0a0.9 0.9 0 1 0 -1.8 0M571.9 15.5m-0.9 0a0.9 0.9 0 1 0 1.8 0a0.9 0.9 0 1 0 -1.8 0M577.5 15.5m-0.9 0a0.9 0.9 0 1 0 1.8 0a0.9 0.9 0 1 0 -1.8 0M583.1 15.5m-0.9 0a0.9 0.9 0 1 0 1.8 0a0.9 0.9 0 1 0 -1.8 0M588.7 15.5m-0.9 0a0.9 0.9 0 1 0 1.8 0a0.9 0.9 0 1 0 -1.8 0M552.3 19.55m-0.9 0a0.9 0.9 0 1 0 1.8 0a0.9 0.9 0 1 0 -1.8 0M557.9 19.55m-0.9 0a0.9 0.9 0 1 0 1.8 0a0.9 0.9 0 1 0 -1.8 0M563.5 19.55m-0.9 0a0.9 0.9 0 1 0 1.8 0a0.9 0.9 0 1 0 -1.8 0M569.1 19.55m-0.9 0a0.9 0.9 0 1 0 1.8 0a0.9 0.9 0 1 0 -1.8 0M574.7 19.55m-0.9 0a0.9 0.9 0 1 0 1.8 0a0.9 0.9 0 1 0 -1.8 0M580.3 19.55m-0.9 0a0.9 0.9 0 1 0 1.8 0a0.9 0.9 0 1 0 -1.8 0M585.9 19.55m-0.9 0a0.9 0.9 0 1 0 1.8 0a0.9 0.9 0 1 0 -1.8 0M591.5 19.55m-0.9 0a0.9 0.9 0 1 0 1.8 0a0.9 0.9 0 1 0 -1.8 0M549.5 23.6m-0.9 0a0.9 0.9 0 1 0 1.8 0a0.9 0.9 0 1 0 -1.8 0M555.1 23.6m-0.9 0a0.9 0.9 0 1 0 1.8 0a0.9 0.9 0 1 0 -1.8 0M560.7 23.6m-0.9 0a0.9 0.9 0 1 0 1.8 0a0.9 0.9 0 1 0 -1.8 0M566.3 23.6m-0.9 0a0.9 0.9 0 1 0 1.8 0a0.9 0.9 0 1 0 -1.8 0M571.9 23.6m-0.9 0a0.9 0.9 0 1 0 1.8 0a0.9 0.9 0 1 0 -1.8 0M577.5 23.6m-0.9 0a0.9 0.9 0 1 0 1.8 0a0.9 0.9 0 1 0 -1.8 0M583.1 23.6m-0.9 0a0.9 0.9 0 1 0 1.8 0a0.9 0.9 0 1 0 -1.8 0M588.7 23.6m-0.9 0a0.9 0.9 0 1 0 1.8 0a0.9 0.9 0 1 0 -1.8 0M552.3 27.65m-0.9 0a0.9 0.9 0 1 0 1.8 0a0.9 0.9 0 1 0 -1.8 0M557.9 27.65m-0.9 0a0.9 0.9 0 1 0 1.8 0a0.9 0.9 0 1 0 -1.8 0M563.5 27.65m-0.9 0a0.9 0.9 0 1 0 1.8 0a0.9 0.9 0 1 0 -1.8 0M569.1 27.65m-0.9 0a0.9 0.9 0 1 0 1.8 0a0.9 0.9 0 1 0 -1.8 0M574.7 27.65m-0.9 0a0.9 0.9 0 1 0 1.8 0a0.9 0.9 0 1 0 -1.8 0M580.3 27.65m-0.9 0a0.9 0.9 0 1 0 1.8 0a0.9 0.9 0 1 0 -1.8 0M585.9 27.65m-0.9 0a0.9 0.9 0 1 0 1.8 0a0.9 0.9 0 1 0 -1.8 0M591.5 27.65m-0.9 0a0.9 0.9 0 1 0 1.8 0a0.9 0.9 0 1 0 -1.8 0M549.5 31.7m-0.9 0a0.9 0.9 0 1 0 1.8 0a0.9 0.9 0 1 0 -1.8 0M555.1 31.7m-0.9 0a0.9 0.9 0 1 0 1.8 0a0.9 0.9 0 1 0 -1.8 0M560.7 31.7m-0.9 0a0.9 0.9 0 1 0 1.8 0a0.9 0.9 0 1 0 -1.8 0M566.3 31.7m-0.9 0a0.9 0.9 0 1 0 1.8 0a0.9 0.9 0 1 0 -1.8 0M571.9 31.7m-0.9 0a0.9 0.9 0 1 0 1.8 0a0.9 0.9 0 1 0 -1.8 0M577.5 31.7m-0.9 0a0.9 0.9 0 1 0 1.8 0a0.9 0.9 0 1 0 -1.8 0M583.1 31.7m-0.9 0a0.9 0.9 0 1 0 1.8 0a0.9 0.9 0 1 0 -1.8 0M588.7 31.7m-0.9 0a0.9 0.9 0 1 0 1.8 0a0.9 0.9 0 1 0 -1.8 0M552.3 35.75m-0.9 0a0.9 0.9 0 1 0 1.8 0a0.9 0.9 0 1 0 -1.8 0M557.9 35.75m-0.9 0a0.9 0.9 0 1 0 1.8 0a0.9 0.9 0 1 0 -1.8 0M563.5 35.75m-0.9 0a0.9 0.9 0 1 0 1.8 0a0.9 0.9 0 1 0 -1.8 0M569.1 35.75m-0.9 0a0.9 0.9 0 1 0 1.8 0a0.9 0.9 0 1 0 -1.8 0M574.7 35.75m-0.9 0a0.9 0.9 0 1 0 1.8 0a0.9 0.9 0 1 0 -1.8 0M580.3 35.75m-0.9 0a0.9 0.9 0 1 0 1.8 0a0.9 0.9 0 1 0 -1.8 0M585.9 35.75m-0.9 0a0.9 0.9 0 1 0 1.8 0a0.9 0.9 0 1 0 -1.8 0M591.5 35.75m-0.9 0a0.9 0.9 0 1 0 1.8 0a0.9 0.9 0 1 0 -1.8 0" fill="#e8923d"/></g>
<ellipse cx="499.7" cy="14.8" rx="2.6" ry="2" transform="rotate(10 499.7 14.8)" fill="url(#gr)"/>
<ellipse cx="505.6" cy="14.4" rx="2.6" ry="2" transform="rotate(10 505.6 14.4)" fill="url(#gb)"/>
<ellipse cx="501.6" cy="19.9" rx="2.6" ry="2" transform="rotate(20 501.6 19.9)" fill="url(#gb)"/>
<ellipse cx="507.4" cy="20.2" rx="2.8" ry="2.1" transform="rotate(45 507.4 20.2)" fill="url(#gr)"/>
<ellipse cx="512.7" cy="19.3" rx="3.3" ry="2.15" transform="rotate(50 512.7 19.3)" fill="url(#gb)"/>
<ellipse cx="518.4" cy="19" rx="3.3" ry="2.15" transform="rotate(50 518.4 19)" fill="url(#gr)"/>
<ellipse cx="523.8" cy="18.6" rx="3.3" ry="2.15" transform="rotate(50 523.8 18.6)" fill="url(#gb)"/>
<ellipse cx="529.3" cy="18" rx="3.3" ry="2.15" transform="rotate(50 529.3 18)" fill="url(#gr)"/>
<ellipse cx="535" cy="17.8" rx="3.3" ry="2.15" transform="rotate(50 535 17.8)" fill="url(#gb)"/>
<ellipse cx="540.8" cy="18" rx="3.3" ry="2.15" transform="rotate(50 540.8 18)" fill="url(#gr)"/>
<ellipse cx="546.6" cy="18" rx="3.3" ry="2.15" transform="rotate(50 546.6 18)" fill="url(#gb)"/>
<ellipse cx="552" cy="17.7" rx="3.3" ry="2.15" transform="rotate(50 552 17.7)" fill="url(#gr)"/>
<ellipse cx="557.5" cy="18" rx="3.3" ry="2.15" transform="rotate(50 557.5 18)" fill="url(#gb)"/>
<ellipse cx="563.4" cy="17.3" rx="3.3" ry="2.15" transform="rotate(50 563.4 17.3)" fill="url(#gr)"/>
<ellipse cx="569.2" cy="17.3" rx="2.8" ry="2.1" transform="rotate(30 569.2 17.3)" fill="url(#gb)"/>
<ellipse cx="565.5" cy="22.9" rx="2.6" ry="2" transform="rotate(10 565.5 22.9)" fill="url(#gb)"/>
<ellipse cx="571.4" cy="22.4" rx="2.4" ry="2.1" transform="rotate(10 571.4 22.4)" fill="url(#gr)"/>
<rect x="487.3" y="4.8" width="95.4" height="27.7" fill="none" stroke="#f39325" stroke-width="1.8"/>
<rect x="587.4" y="4.8" width="96.4" height="27.7" fill="#fff"/>
<clipPath id="mbL"><polygon points="587.4,4.8 606.4,4.8 604.4,13.8 607.4,19.8 605.4,32.5 587.4,32.5"/></clipPath>
<g clip-path="url(#mbL)"><path d="M576.2 -0.7l5.6 0M576.2 -0.7l2.8 4.05M576.2 -0.7l-2.8 4.05M581.8 -0.7l5.6 0M581.8 -0.7l2.8 4.05M581.8 -0.7l-2.8 4.05M587.4 -0.7l5.6 0M587.4 -0.7l2.8 4.05M587.4 -0.7l-2.8 4.05M593 -0.7l5.6 0M593 -0.7l2.8 4.05M593 -0.7l-2.8 4.05M598.6 -0.7l5.6 0M598.6 -0.7l2.8 4.05M598.6 -0.7l-2.8 4.05M604.2 -0.7l5.6 0M604.2 -0.7l2.8 4.05M604.2 -0.7l-2.8 4.05M609.8 -0.7l5.6 0M609.8 -0.7l2.8 4.05M609.8 -0.7l-2.8 4.05M615.4 -0.7l5.6 0M615.4 -0.7l2.8 4.05M615.4 -0.7l-2.8 4.05M579 3.35l5.6 0M579 3.35l2.8 4.05M579 3.35l-2.8 4.05M584.6 3.35l5.6 0M584.6 3.35l2.8 4.05M584.6 3.35l-2.8 4.05M590.2 3.35l5.6 0M590.2 3.35l2.8 4.05M590.2 3.35l-2.8 4.05M595.8 3.35l5.6 0M595.8 3.35l2.8 4.05M595.8 3.35l-2.8 4.05M601.4 3.35l5.6 0M601.4 3.35l2.8 4.05M601.4 3.35l-2.8 4.05M607 3.35l5.6 0M607 3.35l2.8 4.05M607 3.35l-2.8 4.05M612.6 3.35l5.6 0M612.6 3.35l2.8 4.05M612.6 3.35l-2.8 4.05M618.2 3.35l5.6 0M618.2 3.35l2.8 4.05M618.2 3.35l-2.8 4.05M576.2 7.4l5.6 0M576.2 7.4l2.8 4.05M576.2 7.4l-2.8 4.05M581.8 7.4l5.6 0M581.8 7.4l2.8 4.05M581.8 7.4l-2.8 4.05M587.4 7.4l5.6 0M587.4 7.4l2.8 4.05M587.4 7.4l-2.8 4.05M593 7.4l5.6 0M593 7.4l2.8 4.05M593 7.4l-2.8 4.05M598.6 7.4l5.6 0M598.6 7.4l2.8 4.05M598.6 7.4l-2.8 4.05M604.2 7.4l5.6 0M604.2 7.4l2.8 4.05M604.2 7.4l-2.8 4.05M609.8 7.4l5.6 0M609.8 7.4l2.8 4.05M609.8 7.4l-2.8 4.05M615.4 7.4l5.6 0M615.4 7.4l2.8 4.05M615.4 7.4l-2.8 4.05M579 11.45l5.6 0M579 11.45l2.8 4.05M579 11.45l-2.8 4.05M584.6 11.45l5.6 0M584.6 11.45l2.8 4.05M584.6 11.45l-2.8 4.05M590.2 11.45l5.6 0M590.2 11.45l2.8 4.05M590.2 11.45l-2.8 4.05M595.8 11.45l5.6 0M595.8 11.45l2.8 4.05M595.8 11.45l-2.8 4.05M601.4 11.45l5.6 0M601.4 11.45l2.8 4.05M601.4 11.45l-2.8 4.05M607 11.45l5.6 0M607 11.45l2.8 4.05M607 11.45l-2.8 4.05M612.6 11.45l5.6 0M612.6 11.45l2.8 4.05M612.6 11.45l-2.8 4.05M618.2 11.45l5.6 0M618.2 11.45l2.8 4.05M618.2 11.45l-2.8 4.05M576.2 15.5l5.6 0M576.2 15.5l2.8 4.05M576.2 15.5l-2.8 4.05M581.8 15.5l5.6 0M581.8 15.5l2.8 4.05M581.8 15.5l-2.8 4.05M587.4 15.5l5.6 0M587.4 15.5l2.8 4.05M587.4 15.5l-2.8 4.05M593 15.5l5.6 0M593 15.5l2.8 4.05M593 15.5l-2.8 4.05M598.6 15.5l5.6 0M598.6 15.5l2.8 4.05M598.6 15.5l-2.8 4.05M604.2 15.5l5.6 0M604.2 15.5l2.8 4.05M604.2 15.5l-2.8 4.05M609.8 15.5l5.6 0M609.8 15.5l2.8 4.05M609.8 15.5l-2.8 4.05M615.4 15.5l5.6 0M615.4 15.5l2.8 4.05M615.4 15.5l-2.8 4.05M579 19.55l5.6 0M579 19.55l2.8 4.05M579 19.55l-2.8 4.05M584.6 19.55l5.6 0M584.6 19.55l2.8 4.05M584.6 19.55l-2.8 4.05M590.2 19.55l5.6 0M590.2 19.55l2.8 4.05M590.2 19.55l-2.8 4.05M595.8 19.55l5.6 0M595.8 19.55l2.8 4.05M595.8 19.55l-2.8 4.05M601.4 19.55l5.6 0M601.4 19.55l2.8 4.05M601.4 19.55l-2.8 4.05M607 19.55l5.6 0M607 19.55l2.8 4.05M607 19.55l-2.8 4.05M612.6 19.55l5.6 0M612.6 19.55l2.8 4.05M612.6 19.55l-2.8 4.05M618.2 19.55l5.6 0M618.2 19.55l2.8 4.05M618.2 19.55l-2.8 4.05M576.2 23.6l5.6 0M576.2 23.6l2.8 4.05M576.2 23.6l-2.8 4.05M581.8 23.6l5.6 0M581.8 23.6l2.8 4.05M581.8 23.6l-2.8 4.05M587.4 23.6l5.6 0M587.4 23.6l2.8 4.05M587.4 23.6l-2.8 4.05M593 23.6l5.6 0M593 23.6l2.8 4.05M593 23.6l-2.8 4.05M598.6 23.6l5.6 0M598.6 23.6l2.8 4.05M598.6 23.6l-2.8 4.05M604.2 23.6l5.6 0M604.2 23.6l2.8 4.05M604.2 23.6l-2.8 4.05M609.8 23.6l5.6 0M609.8 23.6l2.8 4.05M609.8 23.6l-2.8 4.05M615.4 23.6l5.6 0M615.4 23.6l2.8 4.05M615.4 23.6l-2.8 4.05M579 27.65l5.6 0M579 27.65l2.8 4.05M579 27.65l-2.8 4.05M584.6 27.65l5.6 0M584.6 27.65l2.8 4.05M584.6 27.65l-2.8 4.05M590.2 27.65l5.6 0M590.2 27.65l2.8 4.05M590.2 27.65l-2.8 4.05M595.8 27.65l5.6 0M595.8 27.65l2.8 4.05M595.8 27.65l-2.8 4.05M601.4 27.65l5.6 0M601.4 27.65l2.8 4.05M601.4 27.65l-2.8 4.05M607 27.65l5.6 0M607 27.65l2.8 4.05M607 27.65l-2.8 4.05M612.6 27.65l5.6 0M612.6 27.65l2.8 4.05M612.6 27.65l-2.8 4.05M618.2 27.65l5.6 0M618.2 27.65l2.8 4.05M618.2 27.65l-2.8 4.05M576.2 31.7l5.6 0M576.2 31.7l2.8 4.05M576.2 31.7l-2.8 4.05M581.8 31.7l5.6 0M581.8 31.7l2.8 4.05M581.8 31.7l-2.8 4.05M587.4 31.7l5.6 0M587.4 31.7l2.8 4.05M587.4 31.7l-2.8 4.05M593 31.7l5.6 0M593 31.7l2.8 4.05M593 31.7l-2.8 4.05M598.6 31.7l5.6 0M598.6 31.7l2.8 4.05M598.6 31.7l-2.8 4.05M604.2 31.7l5.6 0M604.2 31.7l2.8 4.05M604.2 31.7l-2.8 4.05M609.8 31.7l5.6 0M609.8 31.7l2.8 4.05M609.8 31.7l-2.8 4.05M615.4 31.7l5.6 0M615.4 31.7l2.8 4.05M615.4 31.7l-2.8 4.05M579 35.75l5.6 0M579 35.75l2.8 4.05M579 35.75l-2.8 4.05M584.6 35.75l5.6 0M584.6 35.75l2.8 4.05M584.6 35.75l-2.8 4.05M590.2 35.75l5.6 0M590.2 35.75l2.8 4.05M590.2 35.75l-2.8 4.05M595.8 35.75l5.6 0M595.8 35.75l2.8 4.05M595.8 35.75l-2.8 4.05M601.4 35.75l5.6 0M601.4 35.75l2.8 4.05M601.4 35.75l-2.8 4.05M607 35.75l5.6 0M607 35.75l2.8 4.05M607 35.75l-2.8 4.05M612.6 35.75l5.6 0M612.6 35.75l2.8 4.05M612.6 35.75l-2.8 4.05M618.2 35.75l5.6 0M618.2 35.75l2.8 4.05M618.2 35.75l-2.8 4.05" stroke="#eca464" stroke-width="0.65" fill="none"/>
<path d="M576.2 -0.7m-0.9 0a0.9 0.9 0 1 0 1.8 0a0.9 0.9 0 1 0 -1.8 0M581.8 -0.7m-0.9 0a0.9 0.9 0 1 0 1.8 0a0.9 0.9 0 1 0 -1.8 0M587.4 -0.7m-0.9 0a0.9 0.9 0 1 0 1.8 0a0.9 0.9 0 1 0 -1.8 0M593 -0.7m-0.9 0a0.9 0.9 0 1 0 1.8 0a0.9 0.9 0 1 0 -1.8 0M598.6 -0.7m-0.9 0a0.9 0.9 0 1 0 1.8 0a0.9 0.9 0 1 0 -1.8 0M604.2 -0.7m-0.9 0a0.9 0.9 0 1 0 1.8 0a0.9 0.9 0 1 0 -1.8 0M609.8 -0.7m-0.9 0a0.9 0.9 0 1 0 1.8 0a0.9 0.9 0 1 0 -1.8 0M615.4 -0.7m-0.9 0a0.9 0.9 0 1 0 1.8 0a0.9 0.9 0 1 0 -1.8 0M579 3.35m-0.9 0a0.9 0.9 0 1 0 1.8 0a0.9 0.9 0 1 0 -1.8 0M584.6 3.35m-0.9 0a0.9 0.9 0 1 0 1.8 0a0.9 0.9 0 1 0 -1.8 0M590.2 3.35m-0.9 0a0.9 0.9 0 1 0 1.8 0a0.9 0.9 0 1 0 -1.8 0M595.8 3.35m-0.9 0a0.9 0.9 0 1 0 1.8 0a0.9 0.9 0 1 0 -1.8 0M601.4 3.35m-0.9 0a0.9 0.9 0 1 0 1.8 0a0.9 0.9 0 1 0 -1.8 0M607 3.35m-0.9 0a0.9 0.9 0 1 0 1.8 0a0.9 0.9 0 1 0 -1.8 0M612.6 3.35m-0.9 0a0.9 0.9 0 1 0 1.8 0a0.9 0.9 0 1 0 -1.8 0M618.2 3.35m-0.9 0a0.9 0.9 0 1 0 1.8 0a0.9 0.9 0 1 0 -1.8 0M576.2 7.4m-0.9 0a0.9 0.9 0 1 0 1.8 0a0.9 0.9 0 1 0 -1.8 0M581.8 7.4m-0.9 0a0.9 0.9 0 1 0 1.8 0a0.9 0.9 0 1 0 -1.8 0M587.4 7.4m-0.9 0a0.9 0.9 0 1 0 1.8 0a0.9 0.9 0 1 0 -1.8 0M593 7.4m-0.9 0a0.9 0.9 0 1 0 1.8 0a0.9 0.9 0 1 0 -1.8 0M598.6 7.4m-0.9 0a0.9 0.9 0 1 0 1.8 0a0.9 0.9 0 1 0 -1.8 0M604.2 7.4m-0.9 0a0.9 0.9 0 1 0 1.8 0a0.9 0.9 0 1 0 -1.8 0M609.8 7.4m-0.9 0a0.9 0.9 0 1 0 1.8 0a0.9 0.9 0 1 0 -1.8 0M615.4 7.4m-0.9 0a0.9 0.9 0 1 0 1.8 0a0.9 0.9 0 1 0 -1.8 0M579 11.45m-0.9 0a0.9 0.9 0 1 0 1.8 0a0.9 0.9 0 1 0 -1.8 0M584.6 11.45m-0.9 0a0.9 0.9 0 1 0 1.8 0a0.9 0.9 0 1 0 -1.8 0M590.2 11.45m-0.9 0a0.9 0.9 0 1 0 1.8 0a0.9 0.9 0 1 0 -1.8 0M595.8 11.45m-0.9 0a0.9 0.9 0 1 0 1.8 0a0.9 0.9 0 1 0 -1.8 0M601.4 11.45m-0.9 0a0.9 0.9 0 1 0 1.8 0a0.9 0.9 0 1 0 -1.8 0M607 11.45m-0.9 0a0.9 0.9 0 1 0 1.8 0a0.9 0.9 0 1 0 -1.8 0M612.6 11.45m-0.9 0a0.9 0.9 0 1 0 1.8 0a0.9 0.9 0 1 0 -1.8 0M618.2 11.45m-0.9 0a0.9 0.9 0 1 0 1.8 0a0.9 0.9 0 1 0 -1.8 0M576.2 15.5m-0.9 0a0.9 0.9 0 1 0 1.8 0a0.9 0.9 0 1 0 -1.8 0M581.8 15.5m-0.9 0a0.9 0.9 0 1 0 1.8 0a0.9 0.9 0 1 0 -1.8 0M587.4 15.5m-0.9 0a0.9 0.9 0 1 0 1.8 0a0.9 0.9 0 1 0 -1.8 0M593 15.5m-0.9 0a0.9 0.9 0 1 0 1.8 0a0.9 0.9 0 1 0 -1.8 0M598.6 15.5m-0.9 0a0.9 0.9 0 1 0 1.8 0a0.9 0.9 0 1 0 -1.8 0M604.2 15.5m-0.9 0a0.9 0.9 0 1 0 1.8 0a0.9 0.9 0 1 0 -1.8 0M609.8 15.5m-0.9 0a0.9 0.9 0 1 0 1.8 0a0.9 0.9 0 1 0 -1.8 0M615.4 15.5m-0.9 0a0.9 0.9 0 1 0 1.8 0a0.9 0.9 0 1 0 -1.8 0M579 19.55m-0.9 0a0.9 0.9 0 1 0 1.8 0a0.9 0.9 0 1 0 -1.8 0M584.6 19.55m-0.9 0a0.9 0.9 0 1 0 1.8 0a0.9 0.9 0 1 0 -1.8 0M590.2 19.55m-0.9 0a0.9 0.9 0 1 0 1.8 0a0.9 0.9 0 1 0 -1.8 0M595.8 19.55m-0.9 0a0.9 0.9 0 1 0 1.8 0a0.9 0.9 0 1 0 -1.8 0M601.4 19.55m-0.9 0a0.9 0.9 0 1 0 1.8 0a0.9 0.9 0 1 0 -1.8 0M607 19.55m-0.9 0a0.9 0.9 0 1 0 1.8 0a0.9 0.9 0 1 0 -1.8 0M612.6 19.55m-0.9 0a0.9 0.9 0 1 0 1.8 0a0.9 0.9 0 1 0 -1.8 0M618.2 19.55m-0.9 0a0.9 0.9 0 1 0 1.8 0a0.9 0.9 0 1 0 -1.8 0M576.2 23.6m-0.9 0a0.9 0.9 0 1 0 1.8 0a0.9 0.9 0 1 0 -1.8 0M581.8 23.6m-0.9 0a0.9 0.9 0 1 0 1.8 0a0.9 0.9 0 1 0 -1.8 0M587.4 23.6m-0.9 0a0.9 0.9 0 1 0 1.8 0a0.9 0.9 0 1 0 -1.8 0M593 23.6m-0.9 0a0.9 0.9 0 1 0 1.8 0a0.9 0.9 0 1 0 -1.8 0M598.6 23.6m-0.9 0a0.9 0.9 0 1 0 1.8 0a0.9 0.9 0 1 0 -1.8 0M604.2 23.6m-0.9 0a0.9 0.9 0 1 0 1.8 0a0.9 0.9 0 1 0 -1.8 0M609.8 23.6m-0.9 0a0.9 0.9 0 1 0 1.8 0a0.9 0.9 0 1 0 -1.8 0M615.4 23.6m-0.9 0a0.9 0.9 0 1 0 1.8 0a0.9 0.9 0 1 0 -1.8 0M579 27.65m-0.9 0a0.9 0.9 0 1 0 1.8 0a0.9 0.9 0 1 0 -1.8 0M584.6 27.65m-0.9 0a0.9 0.9 0 1 0 1.8 0a0.9 0.9 0 1 0 -1.8 0M590.2 27.65m-0.9 0a0.9 0.9 0 1 0 1.8 0a0.9 0.9 0 1 0 -1.8 0M595.8 27.65m-0.9 0a0.9 0.9 0 1 0 1.8 0a0.9 0.9 0 1 0 -1.8 0M601.4 27.65m-0.9 0a0.9 0.9 0 1 0 1.8 0a0.9 0.9 0 1 0 -1.8 0M607 27.65m-0.9 0a0.9 0.9 0 1 0 1.8 0a0.9 0.9 0 1 0 -1.8 0M612.6 27.65m-0.9 0a0.9 0.9 0 1 0 1.8 0a0.9 0.9 0 1 0 -1.8 0M618.2 27.65m-0.9 0a0.9 0.9 0 1 0 1.8 0a0.9 0.9 0 1 0 -1.8 0M576.2 31.7m-0.9 0a0.9 0.9 0 1 0 1.8 0a0.9 0.9 0 1 0 -1.8 0M581.8 31.7m-0.9 0a0.9 0.9 0 1 0 1.8 0a0.9 0.9 0 1 0 -1.8 0M587.4 31.7m-0.9 0a0.9 0.9 0 1 0 1.8 0a0.9 0.9 0 1 0 -1.8 0M593 31.7m-0.9 0a0.9 0.9 0 1 0 1.8 0a0.9 0.9 0 1 0 -1.8 0M598.6 31.7m-0.9 0a0.9 0.9 0 1 0 1.8 0a0.9 0.9 0 1 0 -1.8 0M604.2 31.7m-0.9 0a0.9 0.9 0 1 0 1.8 0a0.9 0.9 0 1 0 -1.8 0M609.8 31.7m-0.9 0a0.9 0.9 0 1 0 1.8 0a0.9 0.9 0 1 0 -1.8 0M615.4 31.7m-0.9 0a0.9 0.9 0 1 0 1.8 0a0.9 0.9 0 1 0 -1.8 0M579 35.75m-0.9 0a0.9 0.9 0 1 0 1.8 0a0.9 0.9 0 1 0 -1.8 0M584.6 35.75m-0.9 0a0.9 0.9 0 1 0 1.8 0a0.9 0.9 0 1 0 -1.8 0M590.2 35.75m-0.9 0a0.9 0.9 0 1 0 1.8 0a0.9 0.9 0 1 0 -1.8 0M595.8 35.75m-0.9 0a0.9 0.9 0 1 0 1.8 0a0.9 0.9 0 1 0 -1.8 0M601.4 35.75m-0.9 0a0.9 0.9 0 1 0 1.8 0a0.9 0.9 0 1 0 -1.8 0M607 35.75m-0.9 0a0.9 0.9 0 1 0 1.8 0a0.9 0.9 0 1 0 -1.8 0M612.6 35.75m-0.9 0a0.9 0.9 0 1 0 1.8 0a0.9 0.9 0 1 0 -1.8 0M618.2 35.75m-0.9 0a0.9 0.9 0 1 0 1.8 0a0.9 0.9 0 1 0 -1.8 0" fill="#e8923d"/></g>
<clipPath id="mbR"><polygon points="683.8,4.8 664.8,4.8 666.8,14.8 663.8,21.8 665.8,32.5 683.8,32.5"/></clipPath>
<g clip-path="url(#mbR)"><path d="M650.6 -0.7l5.6 0M650.6 -0.7l2.8 4.05M650.6 -0.7l-2.8 4.05M656.2 -0.7l5.6 0M656.2 -0.7l2.8 4.05M656.2 -0.7l-2.8 4.05M661.8 -0.7l5.6 0M661.8 -0.7l2.8 4.05M661.8 -0.7l-2.8 4.05M667.4 -0.7l5.6 0M667.4 -0.7l2.8 4.05M667.4 -0.7l-2.8 4.05M673 -0.7l5.6 0M673 -0.7l2.8 4.05M673 -0.7l-2.8 4.05M678.6 -0.7l5.6 0M678.6 -0.7l2.8 4.05M678.6 -0.7l-2.8 4.05M684.2 -0.7l5.6 0M684.2 -0.7l2.8 4.05M684.2 -0.7l-2.8 4.05M689.8 -0.7l5.6 0M689.8 -0.7l2.8 4.05M689.8 -0.7l-2.8 4.05M653.4 3.35l5.6 0M653.4 3.35l2.8 4.05M653.4 3.35l-2.8 4.05M659 3.35l5.6 0M659 3.35l2.8 4.05M659 3.35l-2.8 4.05M664.6 3.35l5.6 0M664.6 3.35l2.8 4.05M664.6 3.35l-2.8 4.05M670.2 3.35l5.6 0M670.2 3.35l2.8 4.05M670.2 3.35l-2.8 4.05M675.8 3.35l5.6 0M675.8 3.35l2.8 4.05M675.8 3.35l-2.8 4.05M681.4 3.35l5.6 0M681.4 3.35l2.8 4.05M681.4 3.35l-2.8 4.05M687 3.35l5.6 0M687 3.35l2.8 4.05M687 3.35l-2.8 4.05M692.6 3.35l5.6 0M692.6 3.35l2.8 4.05M692.6 3.35l-2.8 4.05M650.6 7.4l5.6 0M650.6 7.4l2.8 4.05M650.6 7.4l-2.8 4.05M656.2 7.4l5.6 0M656.2 7.4l2.8 4.05M656.2 7.4l-2.8 4.05M661.8 7.4l5.6 0M661.8 7.4l2.8 4.05M661.8 7.4l-2.8 4.05M667.4 7.4l5.6 0M667.4 7.4l2.8 4.05M667.4 7.4l-2.8 4.05M673 7.4l5.6 0M673 7.4l2.8 4.05M673 7.4l-2.8 4.05M678.6 7.4l5.6 0M678.6 7.4l2.8 4.05M678.6 7.4l-2.8 4.05M684.2 7.4l5.6 0M684.2 7.4l2.8 4.05M684.2 7.4l-2.8 4.05M689.8 7.4l5.6 0M689.8 7.4l2.8 4.05M689.8 7.4l-2.8 4.05M653.4 11.45l5.6 0M653.4 11.45l2.8 4.05M653.4 11.45l-2.8 4.05M659 11.45l5.6 0M659 11.45l2.8 4.05M659 11.45l-2.8 4.05M664.6 11.45l5.6 0M664.6 11.45l2.8 4.05M664.6 11.45l-2.8 4.05M670.2 11.45l5.6 0M670.2 11.45l2.8 4.05M670.2 11.45l-2.8 4.05M675.8 11.45l5.6 0M675.8 11.45l2.8 4.05M675.8 11.45l-2.8 4.05M681.4 11.45l5.6 0M681.4 11.45l2.8 4.05M681.4 11.45l-2.8 4.05M687 11.45l5.6 0M687 11.45l2.8 4.05M687 11.45l-2.8 4.05M692.6 11.45l5.6 0M692.6 11.45l2.8 4.05M692.6 11.45l-2.8 4.05M650.6 15.5l5.6 0M650.6 15.5l2.8 4.05M650.6 15.5l-2.8 4.05M656.2 15.5l5.6 0M656.2 15.5l2.8 4.05M656.2 15.5l-2.8 4.05M661.8 15.5l5.6 0M661.8 15.5l2.8 4.05M661.8 15.5l-2.8 4.05M667.4 15.5l5.6 0M667.4 15.5l2.8 4.05M667.4 15.5l-2.8 4.05M673 15.5l5.6 0M673 15.5l2.8 4.05M673 15.5l-2.8 4.05M678.6 15.5l5.6 0M678.6 15.5l2.8 4.05M678.6 15.5l-2.8 4.05M684.2 15.5l5.6 0M684.2 15.5l2.8 4.05M684.2 15.5l-2.8 4.05M689.8 15.5l5.6 0M689.8 15.5l2.8 4.05M689.8 15.5l-2.8 4.05M653.4 19.55l5.6 0M653.4 19.55l2.8 4.05M653.4 19.55l-2.8 4.05M659 19.55l5.6 0M659 19.55l2.8 4.05M659 19.55l-2.8 4.05M664.6 19.55l5.6 0M664.6 19.55l2.8 4.05M664.6 19.55l-2.8 4.05M670.2 19.55l5.6 0M670.2 19.55l2.8 4.05M670.2 19.55l-2.8 4.05M675.8 19.55l5.6 0M675.8 19.55l2.8 4.05M675.8 19.55l-2.8 4.05M681.4 19.55l5.6 0M681.4 19.55l2.8 4.05M681.4 19.55l-2.8 4.05M687 19.55l5.6 0M687 19.55l2.8 4.05M687 19.55l-2.8 4.05M692.6 19.55l5.6 0M692.6 19.55l2.8 4.05M692.6 19.55l-2.8 4.05M650.6 23.6l5.6 0M650.6 23.6l2.8 4.05M650.6 23.6l-2.8 4.05M656.2 23.6l5.6 0M656.2 23.6l2.8 4.05M656.2 23.6l-2.8 4.05M661.8 23.6l5.6 0M661.8 23.6l2.8 4.05M661.8 23.6l-2.8 4.05M667.4 23.6l5.6 0M667.4 23.6l2.8 4.05M667.4 23.6l-2.8 4.05M673 23.6l5.6 0M673 23.6l2.8 4.05M673 23.6l-2.8 4.05M678.6 23.6l5.6 0M678.6 23.6l2.8 4.05M678.6 23.6l-2.8 4.05M684.2 23.6l5.6 0M684.2 23.6l2.8 4.05M684.2 23.6l-2.8 4.05M689.8 23.6l5.6 0M689.8 23.6l2.8 4.05M689.8 23.6l-2.8 4.05M653.4 27.65l5.6 0M653.4 27.65l2.8 4.05M653.4 27.65l-2.8 4.05M659 27.65l5.6 0M659 27.65l2.8 4.05M659 27.65l-2.8 4.05M664.6 27.65l5.6 0M664.6 27.65l2.8 4.05M664.6 27.65l-2.8 4.05M670.2 27.65l5.6 0M670.2 27.65l2.8 4.05M670.2 27.65l-2.8 4.05M675.8 27.65l5.6 0M675.8 27.65l2.8 4.05M675.8 27.65l-2.8 4.05M681.4 27.65l5.6 0M681.4 27.65l2.8 4.05M681.4 27.65l-2.8 4.05M687 27.65l5.6 0M687 27.65l2.8 4.05M687 27.65l-2.8 4.05M692.6 27.65l5.6 0M692.6 27.65l2.8 4.05M692.6 27.65l-2.8 4.05M650.6 31.7l5.6 0M650.6 31.7l2.8 4.05M650.6 31.7l-2.8 4.05M656.2 31.7l5.6 0M656.2 31.7l2.8 4.05M656.2 31.7l-2.8 4.05M661.8 31.7l5.6 0M661.8 31.7l2.8 4.05M661.8 31.7l-2.8 4.05M667.4 31.7l5.6 0M667.4 31.7l2.8 4.05M667.4 31.7l-2.8 4.05M673 31.7l5.6 0M673 31.7l2.8 4.05M673 31.7l-2.8 4.05M678.6 31.7l5.6 0M678.6 31.7l2.8 4.05M678.6 31.7l-2.8 4.05M684.2 31.7l5.6 0M684.2 31.7l2.8 4.05M684.2 31.7l-2.8 4.05M689.8 31.7l5.6 0M689.8 31.7l2.8 4.05M689.8 31.7l-2.8 4.05M653.4 35.75l5.6 0M653.4 35.75l2.8 4.05M653.4 35.75l-2.8 4.05M659 35.75l5.6 0M659 35.75l2.8 4.05M659 35.75l-2.8 4.05M664.6 35.75l5.6 0M664.6 35.75l2.8 4.05M664.6 35.75l-2.8 4.05M670.2 35.75l5.6 0M670.2 35.75l2.8 4.05M670.2 35.75l-2.8 4.05M675.8 35.75l5.6 0M675.8 35.75l2.8 4.05M675.8 35.75l-2.8 4.05M681.4 35.75l5.6 0M681.4 35.75l2.8 4.05M681.4 35.75l-2.8 4.05M687 35.75l5.6 0M687 35.75l2.8 4.05M687 35.75l-2.8 4.05M692.6 35.75l5.6 0M692.6 35.75l2.8 4.05M692.6 35.75l-2.8 4.05" stroke="#eca464" stroke-width="0.65" fill="none"/>
<path d="M650.6 -0.7m-0.9 0a0.9 0.9 0 1 0 1.8 0a0.9 0.9 0 1 0 -1.8 0M656.2 -0.7m-0.9 0a0.9 0.9 0 1 0 1.8 0a0.9 0.9 0 1 0 -1.8 0M661.8 -0.7m-0.9 0a0.9 0.9 0 1 0 1.8 0a0.9 0.9 0 1 0 -1.8 0M667.4 -0.7m-0.9 0a0.9 0.9 0 1 0 1.8 0a0.9 0.9 0 1 0 -1.8 0M673 -0.7m-0.9 0a0.9 0.9 0 1 0 1.8 0a0.9 0.9 0 1 0 -1.8 0M678.6 -0.7m-0.9 0a0.9 0.9 0 1 0 1.8 0a0.9 0.9 0 1 0 -1.8 0M684.2 -0.7m-0.9 0a0.9 0.9 0 1 0 1.8 0a0.9 0.9 0 1 0 -1.8 0M689.8 -0.7m-0.9 0a0.9 0.9 0 1 0 1.8 0a0.9 0.9 0 1 0 -1.8 0M653.4 3.35m-0.9 0a0.9 0.9 0 1 0 1.8 0a0.9 0.9 0 1 0 -1.8 0M659 3.35m-0.9 0a0.9 0.9 0 1 0 1.8 0a0.9 0.9 0 1 0 -1.8 0M664.6 3.35m-0.9 0a0.9 0.9 0 1 0 1.8 0a0.9 0.9 0 1 0 -1.8 0M670.2 3.35m-0.9 0a0.9 0.9 0 1 0 1.8 0a0.9 0.9 0 1 0 -1.8 0M675.8 3.35m-0.9 0a0.9 0.9 0 1 0 1.8 0a0.9 0.9 0 1 0 -1.8 0M681.4 3.35m-0.9 0a0.9 0.9 0 1 0 1.8 0a0.9 0.9 0 1 0 -1.8 0M687 3.35m-0.9 0a0.9 0.9 0 1 0 1.8 0a0.9 0.9 0 1 0 -1.8 0M692.6 3.35m-0.9 0a0.9 0.9 0 1 0 1.8 0a0.9 0.9 0 1 0 -1.8 0M650.6 7.4m-0.9 0a0.9 0.9 0 1 0 1.8 0a0.9 0.9 0 1 0 -1.8 0M656.2 7.4m-0.9 0a0.9 0.9 0 1 0 1.8 0a0.9 0.9 0 1 0 -1.8 0M661.8 7.4m-0.9 0a0.9 0.9 0 1 0 1.8 0a0.9 0.9 0 1 0 -1.8 0M667.4 7.4m-0.9 0a0.9 0.9 0 1 0 1.8 0a0.9 0.9 0 1 0 -1.8 0M673 7.4m-0.9 0a0.9 0.9 0 1 0 1.8 0a0.9 0.9 0 1 0 -1.8 0M678.6 7.4m-0.9 0a0.9 0.9 0 1 0 1.8 0a0.9 0.9 0 1 0 -1.8 0M684.2 7.4m-0.9 0a0.9 0.9 0 1 0 1.8 0a0.9 0.9 0 1 0 -1.8 0M689.8 7.4m-0.9 0a0.9 0.9 0 1 0 1.8 0a0.9 0.9 0 1 0 -1.8 0M653.4 11.45m-0.9 0a0.9 0.9 0 1 0 1.8 0a0.9 0.9 0 1 0 -1.8 0M659 11.45m-0.9 0a0.9 0.9 0 1 0 1.8 0a0.9 0.9 0 1 0 -1.8 0M664.6 11.45m-0.9 0a0.9 0.9 0 1 0 1.8 0a0.9 0.9 0 1 0 -1.8 0M670.2 11.45m-0.9 0a0.9 0.9 0 1 0 1.8 0a0.9 0.9 0 1 0 -1.8 0M675.8 11.45m-0.9 0a0.9 0.9 0 1 0 1.8 0a0.9 0.9 0 1 0 -1.8 0M681.4 11.45m-0.9 0a0.9 0.9 0 1 0 1.8 0a0.9 0.9 0 1 0 -1.8 0M687 11.45m-0.9 0a0.9 0.9 0 1 0 1.8 0a0.9 0.9 0 1 0 -1.8 0M692.6 11.45m-0.9 0a0.9 0.9 0 1 0 1.8 0a0.9 0.9 0 1 0 -1.8 0M650.6 15.5m-0.9 0a0.9 0.9 0 1 0 1.8 0a0.9 0.9 0 1 0 -1.8 0M656.2 15.5m-0.9 0a0.9 0.9 0 1 0 1.8 0a0.9 0.9 0 1 0 -1.8 0M661.8 15.5m-0.9 0a0.9 0.9 0 1 0 1.8 0a0.9 0.9 0 1 0 -1.8 0M667.4 15.5m-0.9 0a0.9 0.9 0 1 0 1.8 0a0.9 0.9 0 1 0 -1.8 0M673 15.5m-0.9 0a0.9 0.9 0 1 0 1.8 0a0.9 0.9 0 1 0 -1.8 0M678.6 15.5m-0.9 0a0.9 0.9 0 1 0 1.8 0a0.9 0.9 0 1 0 -1.8 0M684.2 15.5m-0.9 0a0.9 0.9 0 1 0 1.8 0a0.9 0.9 0 1 0 -1.8 0M689.8 15.5m-0.9 0a0.9 0.9 0 1 0 1.8 0a0.9 0.9 0 1 0 -1.8 0M653.4 19.55m-0.9 0a0.9 0.9 0 1 0 1.8 0a0.9 0.9 0 1 0 -1.8 0M659 19.55m-0.9 0a0.9 0.9 0 1 0 1.8 0a0.9 0.9 0 1 0 -1.8 0M664.6 19.55m-0.9 0a0.9 0.9 0 1 0 1.8 0a0.9 0.9 0 1 0 -1.8 0M670.2 19.55m-0.9 0a0.9 0.9 0 1 0 1.8 0a0.9 0.9 0 1 0 -1.8 0M675.8 19.55m-0.9 0a0.9 0.9 0 1 0 1.8 0a0.9 0.9 0 1 0 -1.8 0M681.4 19.55m-0.9 0a0.9 0.9 0 1 0 1.8 0a0.9 0.9 0 1 0 -1.8 0M687 19.55m-0.9 0a0.9 0.9 0 1 0 1.8 0a0.9 0.9 0 1 0 -1.8 0M692.6 19.55m-0.9 0a0.9 0.9 0 1 0 1.8 0a0.9 0.9 0 1 0 -1.8 0M650.6 23.6m-0.9 0a0.9 0.9 0 1 0 1.8 0a0.9 0.9 0 1 0 -1.8 0M656.2 23.6m-0.9 0a0.9 0.9 0 1 0 1.8 0a0.9 0.9 0 1 0 -1.8 0M661.8 23.6m-0.9 0a0.9 0.9 0 1 0 1.8 0a0.9 0.9 0 1 0 -1.8 0M667.4 23.6m-0.9 0a0.9 0.9 0 1 0 1.8 0a0.9 0.9 0 1 0 -1.8 0M673 23.6m-0.9 0a0.9 0.9 0 1 0 1.8 0a0.9 0.9 0 1 0 -1.8 0M678.6 23.6m-0.9 0a0.9 0.9 0 1 0 1.8 0a0.9 0.9 0 1 0 -1.8 0M684.2 23.6m-0.9 0a0.9 0.9 0 1 0 1.8 0a0.9 0.9 0 1 0 -1.8 0M689.8 23.6m-0.9 0a0.9 0.9 0 1 0 1.8 0a0.9 0.9 0 1 0 -1.8 0M653.4 27.65m-0.9 0a0.9 0.9 0 1 0 1.8 0a0.9 0.9 0 1 0 -1.8 0M659 27.65m-0.9 0a0.9 0.9 0 1 0 1.8 0a0.9 0.9 0 1 0 -1.8 0M664.6 27.65m-0.9 0a0.9 0.9 0 1 0 1.8 0a0.9 0.9 0 1 0 -1.8 0M670.2 27.65m-0.9 0a0.9 0.9 0 1 0 1.8 0a0.9 0.9 0 1 0 -1.8 0M675.8 27.65m-0.9 0a0.9 0.9 0 1 0 1.8 0a0.9 0.9 0 1 0 -1.8 0M681.4 27.65m-0.9 0a0.9 0.9 0 1 0 1.8 0a0.9 0.9 0 1 0 -1.8 0M687 27.65m-0.9 0a0.9 0.9 0 1 0 1.8 0a0.9 0.9 0 1 0 -1.8 0M692.6 27.65m-0.9 0a0.9 0.9 0 1 0 1.8 0a0.9 0.9 0 1 0 -1.8 0M650.6 31.7m-0.9 0a0.9 0.9 0 1 0 1.8 0a0.9 0.9 0 1 0 -1.8 0M656.2 31.7m-0.9 0a0.9 0.9 0 1 0 1.8 0a0.9 0.9 0 1 0 -1.8 0M661.8 31.7m-0.9 0a0.9 0.9 0 1 0 1.8 0a0.9 0.9 0 1 0 -1.8 0M667.4 31.7m-0.9 0a0.9 0.9 0 1 0 1.8 0a0.9 0.9 0 1 0 -1.8 0M673 31.7m-0.9 0a0.9 0.9 0 1 0 1.8 0a0.9 0.9 0 1 0 -1.8 0M678.6 31.7m-0.9 0a0.9 0.9 0 1 0 1.8 0a0.9 0.9 0 1 0 -1.8 0M684.2 31.7m-0.9 0a0.9 0.9 0 1 0 1.8 0a0.9 0.9 0 1 0 -1.8 0M689.8 31.7m-0.9 0a0.9 0.9 0 1 0 1.8 0a0.9 0.9 0 1 0 -1.8 0M653.4 35.75m-0.9 0a0.9 0.9 0 1 0 1.8 0a0.9 0.9 0 1 0 -1.8 0M659 35.75m-0.9 0a0.9 0.9 0 1 0 1.8 0a0.9 0.9 0 1 0 -1.8 0M664.6 35.75m-0.9 0a0.9 0.9 0 1 0 1.8 0a0.9 0.9 0 1 0 -1.8 0M670.2 35.75m-0.9 0a0.9 0.9 0 1 0 1.8 0a0.9 0.9 0 1 0 -1.8 0M675.8 35.75m-0.9 0a0.9 0.9 0 1 0 1.8 0a0.9 0.9 0 1 0 -1.8 0M681.4 35.75m-0.9 0a0.9 0.9 0 1 0 1.8 0a0.9 0.9 0 1 0 -1.8 0M687 35.75m-0.9 0a0.9 0.9 0 1 0 1.8 0a0.9 0.9 0 1 0 -1.8 0M692.6 35.75m-0.9 0a0.9 0.9 0 1 0 1.8 0a0.9 0.9 0 1 0 -1.8 0" fill="#e8923d"/></g>
<ellipse cx="599" cy="14.8" rx="2.6" ry="2.1" transform="rotate(10 599 14.8)" fill="url(#gb)"/>
<ellipse cx="605.2" cy="14.4" rx="2.6" ry="2.1" transform="rotate(10 605.2 14.4)" fill="url(#gr)"/>
<ellipse cx="600.5" cy="19.5" rx="2.6" ry="2.1" transform="rotate(20 600.5 19.5)" fill="url(#gr)"/>
<ellipse cx="606" cy="19.5" rx="2.6" ry="2.2" transform="rotate(40 606 19.5)" fill="url(#gb)"/>
<ellipse cx="611.1" cy="18.4" rx="2.1" ry="2.9" transform="rotate(20 611.1 18.4)" fill="url(#gr)"/>
<ellipse cx="615.8" cy="18.4" rx="2.1" ry="2.9" transform="rotate(20 615.8 18.4)" fill="url(#gb)"/>
<ellipse cx="620.9" cy="18" rx="2.1" ry="2.9" transform="rotate(20 620.9 18)" fill="url(#gr)"/>
<ellipse cx="626.4" cy="18" rx="2.1" ry="2.9" transform="rotate(20 626.4 18)" fill="url(#gb)"/>
<ellipse cx="631.5" cy="18" rx="2.1" ry="2.9" transform="rotate(20 631.5 18)" fill="url(#gr)"/>
<ellipse cx="636.6" cy="18.6" rx="2.1" ry="2.9" transform="rotate(20 636.6 18.6)" fill="url(#gb)"/>
<ellipse cx="641.7" cy="18.8" rx="2.1" ry="2.9" transform="rotate(20 641.7 18.8)" fill="url(#gr)"/>
<ellipse cx="646.7" cy="19.1" rx="2.1" ry="2.9" transform="rotate(20 646.7 19.1)" fill="url(#gb)"/>
<ellipse cx="651.8" cy="19.1" rx="2.1" ry="2.9" transform="rotate(20 651.8 19.1)" fill="url(#gr)"/>
<ellipse cx="656.9" cy="19.1" rx="2.1" ry="2.9" transform="rotate(20 656.9 19.1)" fill="url(#gb)"/>
<ellipse cx="662" cy="18" rx="2.1" ry="2.9" transform="rotate(20 662 18)" fill="url(#gr)"/>
<ellipse cx="667.5" cy="17.3" rx="2.7" ry="2.1" transform="rotate(20 667.5 17.3)" fill="url(#gb)"/>
<ellipse cx="663.8" cy="23.2" rx="2.7" ry="2" transform="rotate(10 663.8 23.2)" fill="url(#gb)"/>
<ellipse cx="669.3" cy="22.4" rx="2.4" ry="2.1" transform="rotate(20 669.3 22.4)" fill="url(#gr)"/>
<rect x="587.4" y="4.8" width="96.4" height="27.7" fill="none" stroke="#b8642a" stroke-width="1.8"/>
<path d="M82.8 291.4L82.8 277M95.22 298.4L95.22 312.8M107.64 291.4L107.64 277M120.06 298.4L120.06 312.8M132.48 291.4L132.48 277M144.9 298.4L144.9 312.8M157.32 291.4L157.32 277M169.74 298.4L169.74 312.8M182.16 291.4L182.16 277M194.58 298.4L194.58 312.8M207 291.4L207 277M219.42 298.4L219.42 312.8M231.84 291.4L231.84 277M244.26 298.4L244.26 312.8M256.68 291.4L256.68 277M269.1 298.4L269.1 312.8M281.52 291.4L281.52 277M293.94 298.4L293.94 312.8M306.36 291.4L306.36 277M318.78 298.4L318.78 312.8M58.2 291.1L58.2 276.6M70.64 312.55L83.26 319.8M58.2 319.7L58.2 334.2M45.76 312.55L33.14 319.8M45.76 298.25L33.14 291M343.6 269.9L343.6 255.4M356.04 277.05L368.66 269.8M356.04 291.35L368.66 298.6M343.6 298.5L343.6 313M331.16 277.05L318.54 269.8" stroke="#9c9c9c" stroke-width="1.15" fill="none"/>
<path d="M58.2 291.1L70.64 298.25M343.6 269.9L356.04 277.05M70.64 298.25L70.64 312.55M356.04 277.05L356.04 291.35M70.64 312.55L58.2 319.7M356.04 291.35L343.6 298.5M58.2 319.7L45.76 312.55M343.6 298.5L331.16 291.35M45.76 312.55L45.76 298.25M331.16 291.35L331.16 277.05M45.76 298.25L58.2 291.1M331.16 277.05L343.6 269.9M70.64 298.25L82.8 291.4M82.8 291.4L95.22 298.4M95.22 298.4L107.64 291.4M107.64 291.4L120.06 298.4M120.06 298.4L132.48 291.4M132.48 291.4L144.9 298.4M144.9 298.4L157.32 291.4M157.32 291.4L169.74 298.4M169.74 298.4L182.16 291.4M182.16 291.4L194.58 298.4M194.58 298.4L207 291.4M207 291.4L219.42 298.4M219.42 298.4L231.84 291.4M231.84 291.4L244.26 298.4M244.26 298.4L256.68 291.4M256.68 291.4L269.1 298.4M269.1 298.4L281.52 291.4M281.52 291.4L293.94 298.4M293.94 298.4L306.36 291.4M306.36 291.4L318.78 298.4M318.78 298.4L331.16 291.35" stroke="#4a4a4a" stroke-width="1.15" fill="none"/>
<path d="M98.76 299.73L101.17 295.05L95.91 294.68ZM106.95 295.12L101.69 294.75L104.1 290.07Z" fill="#dc4d52" fill-opacity="0.72" stroke="#b8232a" stroke-width="0.8" stroke-linejoin="round"/>
<path d="M98.85 298.88L99.16 296.18L96.69 295.05M106.17 294.75L103.7 293.62L104.01 290.92" fill="none" stroke="#b8232a" stroke-width="0.6"/>
<path d="M123.6 299.73L126.01 295.05L120.75 294.68ZM131.79 295.12L126.53 294.75L128.94 290.07Z" fill="#dc4d52" fill-opacity="0.72" stroke="#b8232a" stroke-width="0.8" stroke-linejoin="round"/>
<path d="M123.69 298.88L124 296.18L121.53 295.05M131.01 294.75L128.54 293.62L128.85 290.92" fill="none" stroke="#b8232a" stroke-width="0.6"/>
<path d="M148.44 299.73L150.85 295.05L145.59 294.68ZM156.63 295.12L151.37 294.75L153.78 290.07Z" fill="#dc4d52" fill-opacity="0.72" stroke="#b8232a" stroke-width="0.8" stroke-linejoin="round"/>
<path d="M148.53 298.88L148.84 296.18L146.37 295.05M155.85 294.75L153.38 293.62L153.69 290.92" fill="none" stroke="#b8232a" stroke-width="0.6"/>
<path d="M173.28 299.73L175.69 295.05L170.43 294.68ZM181.47 295.12L176.21 294.75L178.62 290.07Z" fill="#dc4d52" fill-opacity="0.72" stroke="#b8232a" stroke-width="0.8" stroke-linejoin="round"/>
<path d="M173.37 298.88L173.68 296.18L171.21 295.05M180.69 294.75L178.22 293.62L178.53 290.92" fill="none" stroke="#b8232a" stroke-width="0.6"/>
<path d="M198.12 299.73L200.53 295.05L195.27 294.68ZM206.31 295.12L201.05 294.75L203.46 290.07Z" fill="#dc4d52" fill-opacity="0.72" stroke="#b8232a" stroke-width="0.8" stroke-linejoin="round"/>
<path d="M198.21 298.88L198.52 296.18L196.05 295.05M205.53 294.75L203.06 293.62L203.37 290.92" fill="none" stroke="#b8232a" stroke-width="0.6"/>
<path d="M222.96 299.73L225.37 295.05L220.11 294.68ZM231.15 295.12L225.89 294.75L228.3 290.07Z" fill="#dc4d52" fill-opacity="0.72" stroke="#b8232a" stroke-width="0.8" stroke-linejoin="round"/>
<path d="M223.05 298.88L223.36 296.18L220.89 295.05M230.37 294.75L227.9 293.62L228.21 290.92" fill="none" stroke="#b8232a" stroke-width="0.6"/>
<path d="M247.8 299.73L250.21 295.05L244.95 294.68ZM255.99 295.12L250.73 294.75L253.14 290.07Z" fill="#dc4d52" fill-opacity="0.72" stroke="#b8232a" stroke-width="0.8" stroke-linejoin="round"/>
<path d="M247.89 298.88L248.2 296.18L245.73 295.05M255.21 294.75L252.74 293.62L253.05 290.92" fill="none" stroke="#b8232a" stroke-width="0.6"/>
<path d="M272.64 299.73L275.05 295.05L269.79 294.68ZM280.83 295.12L275.57 294.75L277.98 290.07Z" fill="#dc4d52" fill-opacity="0.72" stroke="#b8232a" stroke-width="0.8" stroke-linejoin="round"/>
<path d="M272.73 298.88L273.04 296.18L270.57 295.05M280.05 294.75L277.58 293.62L277.89 290.92" fill="none" stroke="#b8232a" stroke-width="0.6"/>
<path d="M297.48 299.73L299.89 295.05L294.63 294.68ZM305.67 295.12L300.41 294.75L302.82 290.07Z" fill="#dc4d52" fill-opacity="0.72" stroke="#b8232a" stroke-width="0.8" stroke-linejoin="round"/>
<path d="M297.57 298.88L297.88 296.18L295.41 295.05M304.89 294.75L302.42 293.62L302.73 290.92" fill="none" stroke="#b8232a" stroke-width="0.6"/>
<g fill="#fff" stroke="#808080" stroke-width="0.75"><circle cx="82.8" cy="277" r="2.05"/><circle cx="95.22" cy="312.8" r="2.05"/><circle cx="107.64" cy="277" r="2.05"/><circle cx="120.06" cy="312.8" r="2.05"/><circle cx="132.48" cy="277" r="2.05"/><circle cx="144.9" cy="312.8" r="2.05"/><circle cx="157.32" cy="277" r="2.05"/><circle cx="169.74" cy="312.8" r="2.05"/><circle cx="182.16" cy="277" r="2.05"/><circle cx="194.58" cy="312.8" r="2.05"/><circle cx="207" cy="277" r="2.05"/><circle cx="219.42" cy="312.8" r="2.05"/><circle cx="231.84" cy="277" r="2.05"/><circle cx="244.26" cy="312.8" r="2.05"/><circle cx="256.68" cy="277" r="2.05"/><circle cx="269.1" cy="312.8" r="2.05"/><circle cx="281.52" cy="277" r="2.05"/><circle cx="293.94" cy="312.8" r="2.05"/><circle cx="306.36" cy="277" r="2.05"/><circle cx="318.78" cy="312.8" r="2.05"/><circle cx="58.2" cy="276.6" r="2.05"/><circle cx="83.26" cy="319.8" r="2.05"/><circle cx="58.2" cy="334.2" r="2.05"/><circle cx="33.14" cy="319.8" r="2.05"/><circle cx="33.14" cy="291" r="2.05"/><circle cx="343.6" cy="255.4" r="2.05"/><circle cx="368.66" cy="269.8" r="2.05"/><circle cx="368.66" cy="298.6" r="2.05"/><circle cx="343.6" cy="313" r="2.05"/><circle cx="318.54" cy="269.8" r="2.05"/></g>
<g fill="#333"><circle cx="58.2" cy="291.1" r="2.55"/><circle cx="70.64" cy="298.25" r="2.55"/><circle cx="70.64" cy="312.55" r="2.55"/><circle cx="58.2" cy="319.7" r="2.55"/><circle cx="45.76" cy="312.55" r="2.55"/><circle cx="45.76" cy="298.25" r="2.55"/><circle cx="343.6" cy="269.9" r="2.55"/><circle cx="356.04" cy="277.05" r="2.55"/><circle cx="356.04" cy="291.35" r="2.55"/><circle cx="343.6" cy="298.5" r="2.55"/><circle cx="331.16" cy="291.35" r="2.55"/><circle cx="331.16" cy="277.05" r="2.55"/><circle cx="82.8" cy="291.4" r="2.55"/><circle cx="95.22" cy="298.4" r="2.55"/><circle cx="107.64" cy="291.4" r="2.55"/><circle cx="120.06" cy="298.4" r="2.55"/><circle cx="132.48" cy="291.4" r="2.55"/><circle cx="144.9" cy="298.4" r="2.55"/><circle cx="157.32" cy="291.4" r="2.55"/><circle cx="169.74" cy="298.4" r="2.55"/><circle cx="182.16" cy="291.4" r="2.55"/><circle cx="194.58" cy="298.4" r="2.55"/><circle cx="207" cy="291.4" r="2.55"/><circle cx="219.42" cy="298.4" r="2.55"/><circle cx="231.84" cy="291.4" r="2.55"/><circle cx="244.26" cy="298.4" r="2.55"/><circle cx="256.68" cy="291.4" r="2.55"/><circle cx="269.1" cy="298.4" r="2.55"/><circle cx="281.52" cy="291.4" r="2.55"/><circle cx="293.94" cy="298.4" r="2.55"/><circle cx="306.36" cy="291.4" r="2.55"/><circle cx="318.78" cy="298.4" r="2.55"/></g>
<path d="M83.7 380.1L83.7 365.7M96.08 387.1L96.08 401.5M108.46 380.1L108.46 365.7M120.84 387.1L120.84 401.5M133.22 380.1L133.22 365.7M145.6 387.1L145.6 401.5M157.98 380.1L157.98 365.7M170.36 387.1L170.36 401.5M182.74 380.1L182.74 365.7M195.12 387.1L195.12 401.5M207.5 380.1L207.5 365.7M219.88 387.1L219.88 401.5M232.26 380.1L232.26 365.7M244.64 387.1L244.64 401.5M257.02 380.1L257.02 365.7M269.4 387.1L269.4 401.5M281.78 380.1L281.78 365.7M294.16 387.1L294.16 401.5M306.54 380.1L306.54 365.7M318.92 387.1L318.92 401.5M59.1 379.8L59.1 365.3M71.54 401.25L84.16 408.5M59.1 408.4L59.1 422.9M46.66 401.25L34.04 408.5M46.66 386.95L34.04 379.7M344.5 358.6L344.5 344.1M356.94 365.75L369.56 358.5M356.94 380.05L369.56 387.3M344.5 387.2L344.5 401.7M332.06 365.75L319.44 358.5" stroke="#9c9c9c" stroke-width="1.15" fill="none"/>
<path d="M59.1 379.8L71.54 386.95M344.5 358.6L356.94 365.75M71.54 386.95L71.54 401.25M356.94 365.75L356.94 380.05M71.54 401.25L59.1 408.4M356.94 380.05L344.5 387.2M59.1 408.4L46.66 401.25M344.5 387.2L332.06 380.05M46.66 401.25L46.66 386.95M332.06 380.05L332.06 365.75M46.66 386.95L59.1 379.8M332.06 365.75L344.5 358.6M71.54 386.95L83.7 380.1M83.7 380.1L96.08 387.1M96.08 387.1L108.46 380.1M108.46 380.1L120.84 387.1M120.84 387.1L133.22 380.1M133.22 380.1L145.6 387.1M145.6 387.1L157.98 380.1M157.98 380.1L170.36 387.1M170.36 387.1L182.74 380.1M182.74 380.1L195.12 387.1M195.12 387.1L207.5 380.1M207.5 380.1L219.88 387.1M219.88 387.1L232.26 380.1M232.26 380.1L244.64 387.1M244.64 387.1L257.02 380.1M257.02 380.1L269.4 387.1M269.4 387.1L281.78 380.1M281.78 380.1L294.16 387.1M294.16 387.1L306.54 380.1M306.54 380.1L318.92 387.1M318.92 387.1L332.06 380.05" stroke="#4a4a4a" stroke-width="1.15" fill="none"/>
<path d="M109.13 383.81L114.39 383.45L111.99 378.76ZM117.31 388.44L114.91 383.75L120.17 383.39Z" fill="#dc4d52" fill-opacity="0.72" stroke="#b8232a" stroke-width="0.8" stroke-linejoin="round"/>
<path d="M109.91 383.45L112.39 382.32L112.08 379.62M117.22 387.58L116.91 384.88L119.39 383.75" fill="none" stroke="#b8232a" stroke-width="0.6"/>
<path d="M158.65 383.81L163.91 383.45L161.51 378.76ZM166.84 388.44L164.43 383.75L169.69 383.39Z" fill="#dc4d52" fill-opacity="0.72" stroke="#b8232a" stroke-width="0.8" stroke-linejoin="round"/>
<path d="M159.43 383.45L161.91 382.32L161.6 379.62M166.74 387.58L166.43 384.88L168.91 383.75" fill="none" stroke="#b8232a" stroke-width="0.6"/>
<path d="M187.08 385.66L185.1 381.43L189.74 380.95ZM188.13 386.25L192.76 385.77L190.78 381.54Z" fill="#d23a3f" fill-opacity="0.85" stroke="#b3171e" stroke-width="0.9" stroke-linejoin="round"/>
<circle cx="188.93" cy="383.6" r="1.1" fill="#fff"/>
<path d="M208.17 383.81L213.43 383.45L211.03 378.76ZM216.36 388.44L213.95 383.75L219.21 383.39Z" fill="#dc4d52" fill-opacity="0.72" stroke="#b8232a" stroke-width="0.8" stroke-linejoin="round"/>
<path d="M208.95 383.45L211.43 382.32L211.12 379.62M216.27 387.58L215.96 384.88L218.43 383.75" fill="none" stroke="#b8232a" stroke-width="0.6"/>
<path d="M236.6 385.66L234.62 381.43L239.26 380.95ZM237.65 386.25L242.28 385.77L240.3 381.54Z" fill="#d23a3f" fill-opacity="0.85" stroke="#b3171e" stroke-width="0.9" stroke-linejoin="round"/>
<circle cx="238.45" cy="383.6" r="1.1" fill="#fff"/>
<path d="M286.12 385.66L284.14 381.43L288.78 380.95ZM287.17 386.25L291.8 385.77L289.83 381.54Z" fill="#d23a3f" fill-opacity="0.85" stroke="#b3171e" stroke-width="0.9" stroke-linejoin="round"/>
<circle cx="287.97" cy="383.6" r="1.1" fill="#fff"/>
<g fill="#fff" stroke="#808080" stroke-width="0.75"><circle cx="83.7" cy="365.7" r="2.05"/><circle cx="96.08" cy="401.5" r="2.05"/><circle cx="108.46" cy="365.7" r="2.05"/><circle cx="120.84" cy="401.5" r="2.05"/><circle cx="133.22" cy="365.7" r="2.05"/><circle cx="145.6" cy="401.5" r="2.05"/><circle cx="157.98" cy="365.7" r="2.05"/><circle cx="170.36" cy="401.5" r="2.05"/><circle cx="182.74" cy="365.7" r="2.05"/><circle cx="195.12" cy="401.5" r="2.05"/><circle cx="207.5" cy="365.7" r="2.05"/><circle cx="219.88" cy="401.5" r="2.05"/><circle cx="232.26" cy="365.7" r="2.05"/><circle cx="244.64" cy="401.5" r="2.05"/><circle cx="257.02" cy="365.7" r="2.05"/><circle cx="269.4" cy="401.5" r="2.05"/><circle cx="281.78" cy="365.7" r="2.05"/><circle cx="294.16" cy="401.5" r="2.05"/><circle cx="306.54" cy="365.7" r="2.05"/><circle cx="318.92" cy="401.5" r="2.05"/><circle cx="59.1" cy="365.3" r="2.05"/><circle cx="84.16" cy="408.5" r="2.05"/><circle cx="59.1" cy="422.9" r="2.05"/><circle cx="34.04" cy="408.5" r="2.05"/><circle cx="34.04" cy="379.7" r="2.05"/><circle cx="344.5" cy="344.1" r="2.05"/><circle cx="369.56" cy="358.5" r="2.05"/><circle cx="369.56" cy="387.3" r="2.05"/><circle cx="344.5" cy="401.7" r="2.05"/><circle cx="319.44" cy="358.5" r="2.05"/></g>
<g fill="#333"><circle cx="59.1" cy="379.8" r="2.55"/><circle cx="71.54" cy="386.95" r="2.55"/><circle cx="71.54" cy="401.25" r="2.55"/><circle cx="59.1" cy="408.4" r="2.55"/><circle cx="46.66" cy="401.25" r="2.55"/><circle cx="46.66" cy="386.95" r="2.55"/><circle cx="344.5" cy="358.6" r="2.55"/><circle cx="356.94" cy="365.75" r="2.55"/><circle cx="356.94" cy="380.05" r="2.55"/><circle cx="344.5" cy="387.2" r="2.55"/><circle cx="332.06" cy="380.05" r="2.55"/><circle cx="332.06" cy="365.75" r="2.55"/><circle cx="83.7" cy="380.1" r="2.55"/><circle cx="96.08" cy="387.1" r="2.55"/><circle cx="108.46" cy="380.1" r="2.55"/><circle cx="120.84" cy="387.1" r="2.55"/><circle cx="133.22" cy="380.1" r="2.55"/><circle cx="145.6" cy="387.1" r="2.55"/><circle cx="157.98" cy="380.1" r="2.55"/><circle cx="170.36" cy="387.1" r="2.55"/><circle cx="182.74" cy="380.1" r="2.55"/><circle cx="195.12" cy="387.1" r="2.55"/><circle cx="207.5" cy="380.1" r="2.55"/><circle cx="219.88" cy="387.1" r="2.55"/><circle cx="232.26" cy="380.1" r="2.55"/><circle cx="244.64" cy="387.1" r="2.55"/><circle cx="257.02" cy="380.1" r="2.55"/><circle cx="269.4" cy="387.1" r="2.55"/><circle cx="281.78" cy="380.1" r="2.55"/><circle cx="294.16" cy="387.1" r="2.55"/><circle cx="306.54" cy="380.1" r="2.55"/><circle cx="318.92" cy="387.1" r="2.55"/></g>
<text stroke="#1f1f1f" stroke-width="0.22" x="158.0" y="342.5" font-family="Liberation Sans" font-size="10.4" fill="#1f1f1f"><tspan font-style="italic">v</tspan><tspan font-size="7" dy="3.5">1</tspan><tspan dy="-3.5">: 136 meV</tspan></text>
<text stroke="#1f1f1f" stroke-width="0.22" x="157.7" y="428.8" font-family="Liberation Sans" font-size="10.4" fill="#1f1f1f"><tspan font-style="italic">v</tspan><tspan font-size="7" dy="3.5">2</tspan><tspan dy="-3.5">: 193 meV</tspan></text>
<rect x="582.2" y="341.2" width="62.5" height="107" fill="#f6a57b"/>
<defs><linearGradient id="lg" x1="0" y1="0" x2="0" y2="1"><stop offset="0" stop-color="#ffffff"/><stop offset="0.47" stop-color="#e4eef9"/><stop offset="0.68" stop-color="#5a9edb"/><stop offset="1" stop-color="#4b95d6"/></linearGradient></defs>
<path d="M569.6 315.6 C569.25 315.93 568.6 316.98 567.5 317.6 C566.4 318.22 564.75 318.85 563 319.3 C561.25 319.75 559.17 319.98 557 320.3 C554.83 320.62 552.23 320.9 550 321.2 C547.77 321.5 545.85 321.83 543.6 322.1 C541.35 322.37 538.73 322.57 536.5 322.8 C534.27 323.03 532.45 323.23 530.2 323.5 C527.95 323.77 525.23 324.08 523 324.4 C520.77 324.72 518.97 325.03 516.8 325.4 C514.63 325.77 512.23 326.07 510 326.6 C507.77 327.13 505.13 327.9 503.4 328.6 C501.67 329.3 500.45 330.03 499.6 330.8 C498.75 331.57 498.3 332.4 498.3 333.2 C498.3 334 498.75 334.85 499.6 335.6 C500.45 336.35 501.67 337.03 503.4 337.7 C505.13 338.37 507.77 339.07 510 339.6 C512.23 340.13 514.63 340.52 516.8 340.9 C518.97 341.28 520.77 341.57 523 341.9 C525.23 342.23 527.95 342.58 530.2 342.9 C532.45 343.22 534.27 343.47 536.5 343.8 C538.73 344.13 541.35 344.57 543.6 344.9 C545.85 345.23 547.77 345.45 550 345.8 C552.23 346.15 554.83 346.53 557 347 C559.17 347.47 561.33 348.03 563 348.6 C564.67 349.17 565.9 349.83 567 350.4 C568.1 350.97 569.17 351.73 569.6 352 Z" fill="url(#lg)" stroke="none"/>
<path d="M569.6 315.6 C569.25 315.93 568.6 316.98 567.5 317.6 C566.4 318.22 564.75 318.85 563 319.3 C561.25 319.75 559.17 319.98 557 320.3 C554.83 320.62 552.23 320.9 550 321.2 C547.77 321.5 545.85 321.83 543.6 322.1 C541.35 322.37 538.73 322.57 536.5 322.8 C534.27 323.03 532.45 323.23 530.2 323.5 C527.95 323.77 525.23 324.08 523 324.4 C520.77 324.72 518.97 325.03 516.8 325.4 C514.63 325.77 512.23 326.07 510 326.6 C507.77 327.13 505.13 327.9 503.4 328.6 C501.67 329.3 500.45 330.03 499.6 330.8 C498.75 331.57 498.3 332.4 498.3 333.2 C498.3 334 498.75 334.85 499.6 335.6 C500.45 336.35 501.67 337.03 503.4 337.7 C505.13 338.37 507.77 339.07 510 339.6 C512.23 340.13 514.63 340.52 516.8 340.9 C518.97 341.28 520.77 341.57 523 341.9 C525.23 342.23 527.95 342.58 530.2 342.9 C532.45 343.22 534.27 343.47 536.5 343.8 C538.73 344.13 541.35 344.57 543.6 344.9 C545.85 345.23 547.77 345.45 550 345.8 C552.23 346.15 554.83 346.53 557 347 C559.17 347.47 561.33 348.03 563 348.6 C564.67 349.17 565.9 349.83 567 350.4 C568.1 350.97 569.17 351.73 569.6 352" fill="none" stroke="#1e1e1e" stroke-width="1.5"/>
<path d="M568.6 425.8 C567.17 425.97 563.1 426.5 560 426.8 C556.9 427.1 552.9 427.38 550 427.6 C547.1 427.82 545.93 427.88 542.6 428.1 C539.27 428.32 534.38 428.62 530 428.9 C525.62 429.18 519.97 429.53 516.3 429.8 C512.63 430.07 510.2 430.28 508 430.5 C505.8 430.72 504.5 430.85 503.1 431.1 C501.7 431.35 500.47 431.67 499.6 432 C498.73 432.33 497.9 432.73 497.9 433.1 C497.9 433.47 498.73 433.87 499.6 434.2 C500.47 434.53 501.7 434.87 503.1 435.1 C504.5 435.33 505.8 435.43 508 435.6 C510.2 435.77 512.63 435.88 516.3 436.1 C519.97 436.32 525.62 436.65 530 436.9 C534.38 437.15 539.27 437.4 542.6 437.6 C545.93 437.8 547.1 437.9 550 438.1 C552.9 438.3 556.9 438.52 560 438.8 C563.1 439.08 567.17 439.63 568.6 439.8 Z" fill="#5a9bd6" stroke="none"/>
<path d="M568.6 425.8 C567.17 425.97 563.1 426.5 560 426.8 C556.9 427.1 552.9 427.38 550 427.6 C547.1 427.82 545.93 427.88 542.6 428.1 C539.27 428.32 534.38 428.62 530 428.9 C525.62 429.18 519.97 429.53 516.3 429.8 C512.63 430.07 510.2 430.28 508 430.5 C505.8 430.72 504.5 430.85 503.1 431.1 C501.7 431.35 500.47 431.67 499.6 432 C498.73 432.33 497.9 432.73 497.9 433.1 C497.9 433.47 498.73 433.87 499.6 434.2 C500.47 434.53 501.7 434.87 503.1 435.1 C504.5 435.33 505.8 435.43 508 435.6 C510.2 435.77 512.63 435.88 516.3 436.1 C519.97 436.32 525.62 436.65 530 436.9 C534.38 437.15 539.27 437.4 542.6 437.6 C545.93 437.8 547.1 437.9 550 438.1 C552.9 438.3 556.9 438.52 560 438.8 C563.1 439.08 567.17 439.63 568.6 439.8" fill="none" stroke="#1e1e1e" stroke-width="1.55" stroke-dasharray="1.2 1.0"/>
<path d="M496.6 249.9 H569.7 L582 257.1 H645.8" fill="none" stroke="#1e1e1e" stroke-width="1.6"/>
<path d="M569.7 249.9 V446.8" fill="none" stroke="#1e1e1e" stroke-width="1.6"/>
<path d="M582 257.1 V448" fill="none" stroke="#1e1e1e" stroke-width="1.6"/>
<path d="M581.7 340.7 H644.8" fill="none" stroke="#1e1e1e" stroke-width="1.6"/>
<path d="M496.6 258.2 H539.4" fill="none" stroke="#1e1e1e" stroke-width="1.4" stroke-dasharray="7.6 6.7" stroke-dashoffset="4.4"/>
<path d="M613.4 340.4 V264" fill="none" stroke="#1e1e1e" stroke-width="1.4"/>
<path d="M613.4 258.9 L610.2 265.6 L613.4 264.2 L616.6 265.6 Z" fill="#1e1e1e"/>
<path d="M491.3 252.5 V258" fill="none" stroke="#1e1e1e" stroke-width="1.2"/>
<path d="M491.3 249.8 L488.7 253.4 L491.3 252.6 L493.9 253.4 Z M491.3 260.5 L488.7 256.9 L491.3 257.7 L493.9 256.9 Z" fill="#1e1e1e" stroke="#1e1e1e" stroke-width="0.4" stroke-linejoin="round"/>
<text stroke="#1e1e1e" stroke-width="0.22" x="472.0" y="258.7" font-family="Liberation Sans" font-style="italic" font-size="11.2" fill="#1e1e1e">&#963;</text>
<text stroke="#1e1e1e" stroke-width="0.22" x="622.4" y="301.6" font-family="Liberation Serif" font-style="italic" font-size="11" fill="#1e1e1e">&#934;</text>
<text stroke="#1e1e1e" stroke-width="0.22" x="649.6" y="261.8" font-family="Liberation Sans" font-style="italic" font-size="10.8" fill="#1e1e1e">E<tspan font-size="5.6" font-style="normal" dy="2.6">v</tspan></text>
<text stroke="#1e1e1e" stroke-width="0.22" x="650.6" y="344.0" font-family="Liberation Sans" font-style="italic" font-size="10.8" fill="#1e1e1e">E<tspan font-size="5.6" font-style="normal" dy="3.4">F</tspan></text>
<text stroke="#1e1e1e" stroke-width="0.22" x="613.3" y="399" font-family="Liberation Sans" font-size="10.2" text-anchor="middle" fill="#1e1e1e" >Cu</text>
<text stroke="#1e1e1e" stroke-width="0.22" x="500" y="312.1" font-family="Liberation Sans" font-size="10.9" text-anchor="middle" fill="#1e1e1e" >LUMO</text>
<text stroke="#1e1e1e" stroke-width="0.22" x="499.4" y="416.6" font-family="Liberation Sans" font-size="10.8" text-anchor="middle" fill="#1e1e1e" >HOMO</text>
</svg>
</body></html>
